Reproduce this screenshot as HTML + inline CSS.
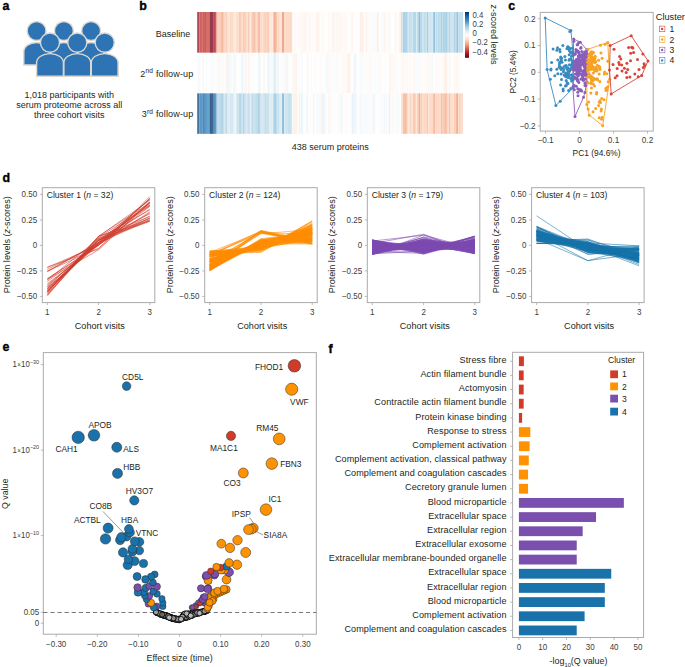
<!DOCTYPE html>
<html><head><meta charset="utf-8"><style>
html,body{margin:0;padding:0;background:#fff;}
svg{display:block;font-family:"Liberation Sans", sans-serif;}
</style></head><body>
<svg width="685" height="667" viewBox="0 0 685 667">
<rect width="685" height="667" fill="#fff"/>
<text x="2.40" y="9.50" font-size="12.4" font-weight="bold" fill="#000" stroke="#000" stroke-width="0.35">a</text>
<text x="139.20" y="9.60" font-size="12.4" font-weight="bold" fill="#000" stroke="#000" stroke-width="0.35">b</text>
<text x="508.30" y="9.50" font-size="12.4" font-weight="bold" fill="#000" stroke="#000" stroke-width="0.35">c</text>
<text x="2.50" y="181.80" font-size="12.4" font-weight="bold" fill="#000" stroke="#000" stroke-width="0.35">d</text>
<text x="2.50" y="351.00" font-size="12.4" font-weight="bold" fill="#000" stroke="#000" stroke-width="0.35">e</text>
<text x="328.60" y="352.60" font-size="12.4" font-weight="bold" fill="#000" stroke="#000" stroke-width="0.35">f</text>
<path d="M23.80,65.00 L23.80,51.50 A12.80,9.00 0 0 1 49.40,51.50 L49.40,65.00 Z" fill="#2e74b5" stroke="#dcd8d0" stroke-width="1.4"/>
<path d="M51.10,65.00 L51.10,51.50 A12.80,9.00 0 0 1 76.70,51.50 L76.70,65.00 Z" fill="#2e74b5" stroke="#dcd8d0" stroke-width="1.4"/>
<path d="M78.30,65.00 L78.30,51.50 A12.80,9.00 0 0 1 103.90,51.50 L103.90,65.00 Z" fill="#2e74b5" stroke="#dcd8d0" stroke-width="1.4"/>
<circle cx="36.60" cy="31.00" r="9.40" fill="#2e74b5" stroke="#dcd8d0" stroke-width="1.4"/>
<circle cx="63.90" cy="31.00" r="9.40" fill="#2e74b5" stroke="#dcd8d0" stroke-width="1.4"/>
<circle cx="91.10" cy="31.00" r="9.40" fill="#2e74b5" stroke="#dcd8d0" stroke-width="1.4"/>
<path d="M36.60,76.20 L36.60,62.60 A13.40,9.00 0 0 1 63.40,62.60 L63.40,76.20 Z" fill="#2e74b5" stroke="#dcd8d0" stroke-width="1.4"/>
<path d="M63.90,76.20 L63.90,62.60 A13.40,9.00 0 0 1 90.70,62.60 L90.70,76.20 Z" fill="#2e74b5" stroke="#dcd8d0" stroke-width="1.4"/>
<path d="M91.30,76.20 L91.30,62.60 A13.40,9.00 0 0 1 118.10,62.60 L118.10,76.20 Z" fill="#2e74b5" stroke="#dcd8d0" stroke-width="1.4"/>
<circle cx="50.00" cy="42.60" r="9.60" fill="#2e74b5" stroke="#dcd8d0" stroke-width="1.4"/>
<circle cx="77.30" cy="42.60" r="9.60" fill="#2e74b5" stroke="#dcd8d0" stroke-width="1.4"/>
<circle cx="104.70" cy="42.60" r="9.60" fill="#2e74b5" stroke="#dcd8d0" stroke-width="1.4"/>
<text transform="translate(69.20,97.70) scale(1,1.07)" font-size="9.0" text-anchor="middle" fill="#231f20" stroke="#231f20" stroke-width="0" font-weight="normal" >1,018 participants with</text>
<text transform="translate(69.20,108.00) scale(1,1.07)" font-size="9.0" text-anchor="middle" fill="#231f20" stroke="#231f20" stroke-width="0" font-weight="normal" >serum proteome across all</text>
<text transform="translate(69.20,118.20) scale(1,1.07)" font-size="9.0" text-anchor="middle" fill="#231f20" stroke="#231f20" stroke-width="0" font-weight="normal" >three cohort visits</text>
<g>
<rect x="197.00" y="12.0" width="0.662" height="40.60" fill="#c2373a"/>
<rect x="197.61" y="12.0" width="0.662" height="40.60" fill="#c03338"/>
<rect x="198.22" y="12.0" width="0.662" height="40.60" fill="#840924"/>
<rect x="198.84" y="12.0" width="0.662" height="40.60" fill="#d05548"/>
<rect x="199.45" y="12.0" width="0.662" height="40.60" fill="#d35a4a"/>
<rect x="200.06" y="12.0" width="0.662" height="40.60" fill="#bf3338"/>
<rect x="200.68" y="12.0" width="0.662" height="40.60" fill="#c84440"/>
<rect x="201.29" y="12.0" width="0.662" height="40.60" fill="#c7413f"/>
<rect x="201.90" y="12.0" width="0.662" height="40.60" fill="#c43b3c"/>
<rect x="202.51" y="12.0" width="0.662" height="40.60" fill="#d25849"/>
<rect x="203.12" y="12.0" width="0.662" height="40.60" fill="#d05447"/>
<rect x="203.74" y="12.0" width="0.662" height="40.60" fill="#860a24"/>
<rect x="204.35" y="12.0" width="0.662" height="40.60" fill="#cc4b43"/>
<rect x="204.96" y="12.0" width="0.662" height="40.60" fill="#cb4a42"/>
<rect x="205.57" y="12.0" width="0.662" height="40.60" fill="#b2182b"/>
<rect x="206.19" y="12.0" width="0.662" height="40.60" fill="#ce5146"/>
<rect x="206.80" y="12.0" width="0.662" height="40.60" fill="#c6403e"/>
<rect x="207.41" y="12.0" width="0.662" height="40.60" fill="#c94741"/>
<rect x="208.03" y="12.0" width="0.662" height="40.60" fill="#c84440"/>
<rect x="208.64" y="12.0" width="0.662" height="40.60" fill="#cd4e44"/>
<rect x="209.25" y="12.0" width="0.662" height="40.60" fill="#d15548"/>
<rect x="209.86" y="12.0" width="0.662" height="40.60" fill="#730421"/>
<rect x="210.47" y="12.0" width="0.662" height="40.60" fill="#770521"/>
<rect x="211.09" y="12.0" width="0.662" height="40.60" fill="#750521"/>
<rect x="211.70" y="12.0" width="0.662" height="40.60" fill="#800823"/>
<rect x="212.31" y="12.0" width="0.662" height="40.60" fill="#810823"/>
<rect x="212.92" y="12.0" width="0.662" height="40.60" fill="#be3137"/>
<rect x="213.54" y="12.0" width="0.662" height="40.60" fill="#b51f2e"/>
<rect x="214.15" y="12.0" width="0.662" height="40.60" fill="#b3192c"/>
<rect x="214.76" y="12.0" width="0.662" height="40.60" fill="#a9152a"/>
<rect x="215.38" y="12.0" width="0.662" height="40.60" fill="#c43c3c"/>
<rect x="215.99" y="12.0" width="0.662" height="40.60" fill="#cf5246"/>
<rect x="216.60" y="12.0" width="0.657" height="40.60" fill="#fddfcd"/>
<rect x="217.21" y="12.0" width="0.657" height="40.60" fill="#f8bb9e"/>
<rect x="217.81" y="12.0" width="0.657" height="40.60" fill="#f7b89b"/>
<rect x="218.42" y="12.0" width="0.657" height="40.60" fill="#fac9b0"/>
<rect x="219.03" y="12.0" width="0.657" height="40.60" fill="#f9c2a7"/>
<rect x="219.64" y="12.0" width="0.657" height="40.60" fill="#f9c6ac"/>
<rect x="220.24" y="12.0" width="0.657" height="40.60" fill="#facbb3"/>
<rect x="220.85" y="12.0" width="0.657" height="40.60" fill="#f5aa88"/>
<rect x="221.46" y="12.0" width="0.657" height="40.60" fill="#f5a987"/>
<rect x="222.07" y="12.0" width="0.657" height="40.60" fill="#ed9575"/>
<rect x="222.67" y="12.0" width="0.657" height="40.60" fill="#f9c1a6"/>
<rect x="223.28" y="12.0" width="0.657" height="40.60" fill="#f8bfa3"/>
<rect x="223.89" y="12.0" width="0.657" height="40.60" fill="#fbd1ba"/>
<rect x="224.49" y="12.0" width="0.657" height="40.60" fill="#fbccb4"/>
<rect x="225.10" y="12.0" width="0.657" height="40.60" fill="#fbceb7"/>
<rect x="225.71" y="12.0" width="0.657" height="40.60" fill="#facab1"/>
<rect x="226.32" y="12.0" width="0.657" height="40.60" fill="#fac6ac"/>
<rect x="226.92" y="12.0" width="0.657" height="40.60" fill="#fbd0b9"/>
<rect x="227.53" y="12.0" width="0.657" height="40.60" fill="#fddac6"/>
<rect x="228.14" y="12.0" width="0.657" height="40.60" fill="#fddcc9"/>
<rect x="228.75" y="12.0" width="0.657" height="40.60" fill="#fde2d2"/>
<rect x="229.35" y="12.0" width="0.657" height="40.60" fill="#fde2d3"/>
<rect x="229.96" y="12.0" width="0.657" height="40.60" fill="#fde0cf"/>
<rect x="230.57" y="12.0" width="0.657" height="40.60" fill="#f8bca0"/>
<rect x="231.17" y="12.0" width="0.657" height="40.60" fill="#fbceb6"/>
<rect x="231.78" y="12.0" width="0.657" height="40.60" fill="#fee6d8"/>
<rect x="232.39" y="12.0" width="0.657" height="40.60" fill="#fbcfb7"/>
<rect x="233.00" y="12.0" width="0.657" height="40.60" fill="#fcd7c1"/>
<rect x="233.60" y="12.0" width="0.657" height="40.60" fill="#fde2d3"/>
<rect x="234.21" y="12.0" width="0.657" height="40.60" fill="#fde3d3"/>
<rect x="234.82" y="12.0" width="0.657" height="40.60" fill="#fee5d7"/>
<rect x="235.42" y="12.0" width="0.657" height="40.60" fill="#fde3d4"/>
<rect x="236.03" y="12.0" width="0.657" height="40.60" fill="#fde0ce"/>
<rect x="236.64" y="12.0" width="0.657" height="40.60" fill="#faccb4"/>
<rect x="237.25" y="12.0" width="0.657" height="40.60" fill="#fcd3bd"/>
<rect x="237.85" y="12.0" width="0.657" height="40.60" fill="#fcd5c0"/>
<rect x="238.46" y="12.0" width="0.657" height="40.60" fill="#fcd7c2"/>
<rect x="239.07" y="12.0" width="0.657" height="40.60" fill="#f8bc9f"/>
<rect x="239.68" y="12.0" width="0.657" height="40.60" fill="#f8bda1"/>
<rect x="240.28" y="12.0" width="0.657" height="40.60" fill="#f9c3a8"/>
<rect x="240.89" y="12.0" width="0.657" height="40.60" fill="#f9c4aa"/>
<rect x="241.50" y="12.0" width="0.657" height="40.60" fill="#fcd6c0"/>
<rect x="242.10" y="12.0" width="0.657" height="40.60" fill="#fcd8c3"/>
<rect x="242.71" y="12.0" width="0.657" height="40.60" fill="#fcd4be"/>
<rect x="243.32" y="12.0" width="0.657" height="40.60" fill="#f7b89a"/>
<rect x="243.93" y="12.0" width="0.657" height="40.60" fill="#f9c3a8"/>
<rect x="244.53" y="12.0" width="0.657" height="40.60" fill="#fac7ae"/>
<rect x="245.14" y="12.0" width="0.657" height="40.60" fill="#f9c4aa"/>
<rect x="245.75" y="12.0" width="0.657" height="40.60" fill="#fac9b0"/>
<rect x="246.36" y="12.0" width="0.657" height="40.60" fill="#fcd8c3"/>
<rect x="246.96" y="12.0" width="0.657" height="40.60" fill="#fcd5c0"/>
<rect x="247.57" y="12.0" width="0.657" height="40.60" fill="#fdd9c4"/>
<rect x="248.18" y="12.0" width="0.657" height="40.60" fill="#fbd2bb"/>
<rect x="248.78" y="12.0" width="0.657" height="40.60" fill="#ed9676"/>
<rect x="249.39" y="12.0" width="0.657" height="40.60" fill="#fde1d1"/>
<rect x="250.00" y="12.0" width="0.657" height="40.60" fill="#fee5d6"/>
<rect x="250.61" y="12.0" width="0.657" height="40.60" fill="#fee4d6"/>
<rect x="251.21" y="12.0" width="0.657" height="40.60" fill="#fee5d7"/>
<rect x="251.82" y="12.0" width="0.657" height="40.60" fill="#e7876b"/>
<rect x="252.43" y="12.0" width="0.657" height="40.60" fill="#fcd6c0"/>
<rect x="253.04" y="12.0" width="0.657" height="40.60" fill="#f8ba9d"/>
<rect x="253.64" y="12.0" width="0.657" height="40.60" fill="#f7b89a"/>
<rect x="254.25" y="12.0" width="0.657" height="40.60" fill="#f7b496"/>
<rect x="254.86" y="12.0" width="0.657" height="40.60" fill="#f6b292"/>
<rect x="255.46" y="12.0" width="0.657" height="40.60" fill="#facbb3"/>
<rect x="256.07" y="12.0" width="0.657" height="40.60" fill="#fcd3bd"/>
<rect x="256.68" y="12.0" width="0.657" height="40.60" fill="#fcd5c0"/>
<rect x="257.29" y="12.0" width="0.657" height="40.60" fill="#fcd3bd"/>
<rect x="257.89" y="12.0" width="0.657" height="40.60" fill="#f4a785"/>
<rect x="258.50" y="12.0" width="0.657" height="40.60" fill="#f5ae8d"/>
<rect x="259.11" y="12.0" width="0.657" height="40.60" fill="#f5ad8c"/>
<rect x="259.72" y="12.0" width="0.657" height="40.60" fill="#f5ad8d"/>
<rect x="260.32" y="12.0" width="0.657" height="40.60" fill="#fddfce"/>
<rect x="260.93" y="12.0" width="0.657" height="40.60" fill="#fac8ae"/>
<rect x="261.54" y="12.0" width="0.657" height="40.60" fill="#fdd9c5"/>
<rect x="262.14" y="12.0" width="0.657" height="40.60" fill="#fcd8c3"/>
<rect x="262.75" y="12.0" width="0.657" height="40.60" fill="#fddac6"/>
<rect x="263.36" y="12.0" width="0.657" height="40.60" fill="#fbcfb7"/>
<rect x="263.97" y="12.0" width="0.657" height="40.60" fill="#facab1"/>
<rect x="264.57" y="12.0" width="0.657" height="40.60" fill="#facab1"/>
<rect x="265.18" y="12.0" width="0.657" height="40.60" fill="#f9c2a7"/>
<rect x="265.79" y="12.0" width="0.657" height="40.60" fill="#f9c5ab"/>
<rect x="266.40" y="12.0" width="0.657" height="40.60" fill="#fbd1ba"/>
<rect x="267.00" y="12.0" width="0.657" height="40.60" fill="#fac9b0"/>
<rect x="267.61" y="12.0" width="0.657" height="40.60" fill="#f8bc9f"/>
<rect x="268.22" y="12.0" width="0.657" height="40.60" fill="#f9c1a6"/>
<rect x="268.82" y="12.0" width="0.657" height="40.60" fill="#f9c5ab"/>
<rect x="269.43" y="12.0" width="0.657" height="40.60" fill="#fde1d0"/>
<rect x="270.04" y="12.0" width="0.657" height="40.60" fill="#fee5d6"/>
<rect x="270.65" y="12.0" width="0.657" height="40.60" fill="#fde2d2"/>
<rect x="271.25" y="12.0" width="0.657" height="40.60" fill="#fde3d3"/>
<rect x="271.86" y="12.0" width="0.657" height="40.60" fill="#fde0d0"/>
<rect x="272.47" y="12.0" width="0.657" height="40.60" fill="#fee6d8"/>
<rect x="273.07" y="12.0" width="0.657" height="40.60" fill="#fbd1ba"/>
<rect x="273.68" y="12.0" width="0.657" height="40.60" fill="#ef9b7a"/>
<rect x="274.29" y="12.0" width="0.657" height="40.60" fill="#f19e7d"/>
<rect x="274.90" y="12.0" width="0.657" height="40.60" fill="#f19e7d"/>
<rect x="275.50" y="12.0" width="0.657" height="40.60" fill="#f4a582"/>
<rect x="276.11" y="12.0" width="0.657" height="40.60" fill="#f7b99c"/>
<rect x="276.72" y="12.0" width="0.657" height="40.60" fill="#f7b597"/>
<rect x="277.33" y="12.0" width="0.657" height="40.60" fill="#fddcc8"/>
<rect x="277.93" y="12.0" width="0.657" height="40.60" fill="#fddbc7"/>
<rect x="278.54" y="12.0" width="0.657" height="40.60" fill="#f9c0a5"/>
<rect x="279.15" y="12.0" width="0.657" height="40.60" fill="#fddecc"/>
<rect x="279.75" y="12.0" width="0.657" height="40.60" fill="#fddcc9"/>
<rect x="280.36" y="12.0" width="0.657" height="40.60" fill="#fde0cf"/>
<rect x="280.97" y="12.0" width="0.657" height="40.60" fill="#fde3d4"/>
<rect x="281.58" y="12.0" width="0.657" height="40.60" fill="#fde3d3"/>
<rect x="282.18" y="12.0" width="0.657" height="40.60" fill="#e8896d"/>
<rect x="282.79" y="12.0" width="0.657" height="40.60" fill="#ea8e70"/>
<rect x="283.40" y="12.0" width="0.657" height="40.60" fill="#ea8d70"/>
<rect x="284.01" y="12.0" width="0.657" height="40.60" fill="#fde3d4"/>
<rect x="284.61" y="12.0" width="0.657" height="40.60" fill="#faccb4"/>
<rect x="285.22" y="12.0" width="0.657" height="40.60" fill="#fddac6"/>
<rect x="285.83" y="12.0" width="0.657" height="40.60" fill="#fbd1ba"/>
<rect x="286.43" y="12.0" width="0.657" height="40.60" fill="#facbb3"/>
<rect x="287.04" y="12.0" width="0.657" height="40.60" fill="#fac7ae"/>
<rect x="287.65" y="12.0" width="0.657" height="40.60" fill="#fde3d3"/>
<rect x="288.26" y="12.0" width="0.657" height="40.60" fill="#fbcfb7"/>
<rect x="288.86" y="12.0" width="0.657" height="40.60" fill="#fbd1ba"/>
<rect x="289.47" y="12.0" width="0.657" height="40.60" fill="#fbd1bb"/>
<rect x="290.08" y="12.0" width="0.657" height="40.60" fill="#faccb4"/>
<rect x="290.69" y="12.0" width="0.657" height="40.60" fill="#fbcfb8"/>
<rect x="291.29" y="12.0" width="0.657" height="40.60" fill="#fbceb7"/>
<rect x="291.90" y="12.0" width="0.661" height="40.60" fill="#f9fcfd"/>
<rect x="292.51" y="12.0" width="0.661" height="40.60" fill="#fef5f0"/>
<rect x="293.12" y="12.0" width="0.661" height="40.60" fill="#fffaf7"/>
<rect x="293.73" y="12.0" width="0.661" height="40.60" fill="#fef5f0"/>
<rect x="294.34" y="12.0" width="0.661" height="40.60" fill="#fff9f5"/>
<rect x="294.95" y="12.0" width="0.661" height="40.60" fill="#fff8f4"/>
<rect x="295.56" y="12.0" width="0.661" height="40.60" fill="#fff7f3"/>
<rect x="296.17" y="12.0" width="0.661" height="40.60" fill="#fffcfb"/>
<rect x="296.78" y="12.0" width="0.661" height="40.60" fill="#fffcfb"/>
<rect x="297.40" y="12.0" width="0.661" height="40.60" fill="#fff8f4"/>
<rect x="298.01" y="12.0" width="0.661" height="40.60" fill="#fffaf7"/>
<rect x="298.62" y="12.0" width="0.661" height="40.60" fill="#fffcfb"/>
<rect x="299.23" y="12.0" width="0.661" height="40.60" fill="#fff7f2"/>
<rect x="299.84" y="12.0" width="0.661" height="40.60" fill="#fef2eb"/>
<rect x="300.45" y="12.0" width="0.661" height="40.60" fill="#fffdfc"/>
<rect x="301.06" y="12.0" width="0.661" height="40.60" fill="#fef4ee"/>
<rect x="301.67" y="12.0" width="0.661" height="40.60" fill="#fff9f6"/>
<rect x="302.28" y="12.0" width="0.661" height="40.60" fill="#fff6f1"/>
<rect x="302.89" y="12.0" width="0.661" height="40.60" fill="#fff7f2"/>
<rect x="303.50" y="12.0" width="0.661" height="40.60" fill="#fef5ef"/>
<rect x="304.11" y="12.0" width="0.661" height="40.60" fill="#fef3ec"/>
<rect x="304.72" y="12.0" width="0.661" height="40.60" fill="#fef5ef"/>
<rect x="305.33" y="12.0" width="0.661" height="40.60" fill="#fef2eb"/>
<rect x="305.94" y="12.0" width="0.661" height="40.60" fill="#fff9f6"/>
<rect x="306.55" y="12.0" width="0.661" height="40.60" fill="#fff7f3"/>
<rect x="307.17" y="12.0" width="0.661" height="40.60" fill="#f3f8fb"/>
<rect x="307.78" y="12.0" width="0.661" height="40.60" fill="#fffbf9"/>
<rect x="308.39" y="12.0" width="0.661" height="40.60" fill="#fffdfc"/>
<rect x="309.00" y="12.0" width="0.661" height="40.60" fill="#fef5ef"/>
<rect x="309.61" y="12.0" width="0.661" height="40.60" fill="#fef4ee"/>
<rect x="310.22" y="12.0" width="0.661" height="40.60" fill="#fef6f1"/>
<rect x="310.83" y="12.0" width="0.661" height="40.60" fill="#fffdfd"/>
<rect x="311.44" y="12.0" width="0.661" height="40.60" fill="#fffbf9"/>
<rect x="312.05" y="12.0" width="0.661" height="40.60" fill="#fff9f6"/>
<rect x="312.66" y="12.0" width="0.661" height="40.60" fill="#fffaf7"/>
<rect x="313.27" y="12.0" width="0.661" height="40.60" fill="#fffaf7"/>
<rect x="313.88" y="12.0" width="0.661" height="40.60" fill="#fffaf7"/>
<rect x="314.49" y="12.0" width="0.661" height="40.60" fill="#fcfdfe"/>
<rect x="315.10" y="12.0" width="0.661" height="40.60" fill="#fafcfd"/>
<rect x="315.71" y="12.0" width="0.661" height="40.60" fill="#f8fbfd"/>
<rect x="316.32" y="12.0" width="0.661" height="40.60" fill="#feefe5"/>
<rect x="316.94" y="12.0" width="0.661" height="40.60" fill="#fef0e7"/>
<rect x="317.55" y="12.0" width="0.661" height="40.60" fill="#fef4ed"/>
<rect x="318.16" y="12.0" width="0.661" height="40.60" fill="#feeee5"/>
<rect x="318.77" y="12.0" width="0.661" height="40.60" fill="#feebe1"/>
<rect x="319.38" y="12.0" width="0.661" height="40.60" fill="#fffcfa"/>
<rect x="319.99" y="12.0" width="0.661" height="40.60" fill="#fffefe"/>
<rect x="320.60" y="12.0" width="0.661" height="40.60" fill="#fffefd"/>
<rect x="321.21" y="12.0" width="0.661" height="40.60" fill="#fff7f2"/>
<rect x="321.82" y="12.0" width="0.661" height="40.60" fill="#fff6f1"/>
<rect x="322.43" y="12.0" width="0.661" height="40.60" fill="#fff9f6"/>
<rect x="323.04" y="12.0" width="0.661" height="40.60" fill="#fffaf7"/>
<rect x="323.65" y="12.0" width="0.661" height="40.60" fill="#fffbf9"/>
<rect x="324.26" y="12.0" width="0.661" height="40.60" fill="#fffdfb"/>
<rect x="324.87" y="12.0" width="0.661" height="40.60" fill="#fff8f5"/>
<rect x="325.48" y="12.0" width="0.661" height="40.60" fill="#fefeff"/>
<rect x="326.09" y="12.0" width="0.661" height="40.60" fill="#feffff"/>
<rect x="326.71" y="12.0" width="0.661" height="40.60" fill="#feffff"/>
<rect x="327.32" y="12.0" width="0.661" height="40.60" fill="#fffbf8"/>
<rect x="327.93" y="12.0" width="0.661" height="40.60" fill="#fff7f2"/>
<rect x="328.54" y="12.0" width="0.661" height="40.60" fill="#fff7f3"/>
<rect x="329.15" y="12.0" width="0.661" height="40.60" fill="#fff9f5"/>
<rect x="329.76" y="12.0" width="0.661" height="40.60" fill="#fffaf7"/>
<rect x="330.37" y="12.0" width="0.661" height="40.60" fill="#fffbf9"/>
<rect x="330.98" y="12.0" width="0.661" height="40.60" fill="#fffbf8"/>
<rect x="331.59" y="12.0" width="0.661" height="40.60" fill="#fff8f4"/>
<rect x="332.20" y="12.0" width="0.661" height="40.60" fill="#fef5ef"/>
<rect x="332.81" y="12.0" width="0.661" height="40.60" fill="#fff7f3"/>
<rect x="333.42" y="12.0" width="0.661" height="40.60" fill="#feede4"/>
<rect x="334.03" y="12.0" width="0.661" height="40.60" fill="#fefeff"/>
<rect x="334.64" y="12.0" width="0.661" height="40.60" fill="#fef4ee"/>
<rect x="335.25" y="12.0" width="0.661" height="40.60" fill="#fef6f0"/>
<rect x="335.86" y="12.0" width="0.661" height="40.60" fill="#fff6f1"/>
<rect x="336.47" y="12.0" width="0.661" height="40.60" fill="#fef3ec"/>
<rect x="337.09" y="12.0" width="0.661" height="40.60" fill="#fff7f2"/>
<rect x="337.70" y="12.0" width="0.661" height="40.60" fill="#fff6f2"/>
<rect x="338.31" y="12.0" width="0.661" height="40.60" fill="#fef6f1"/>
<rect x="338.92" y="12.0" width="0.661" height="40.60" fill="#fffbf9"/>
<rect x="339.53" y="12.0" width="0.661" height="40.60" fill="#fef4ee"/>
<rect x="340.14" y="12.0" width="0.661" height="40.60" fill="#fff6f2"/>
<rect x="340.75" y="12.0" width="0.661" height="40.60" fill="#fff9f5"/>
<rect x="341.36" y="12.0" width="0.661" height="40.60" fill="#fef5ef"/>
<rect x="341.97" y="12.0" width="0.661" height="40.60" fill="#fffbf9"/>
<rect x="342.58" y="12.0" width="0.661" height="40.60" fill="#fef5ef"/>
<rect x="343.19" y="12.0" width="0.661" height="40.60" fill="#fefeff"/>
<rect x="343.80" y="12.0" width="0.661" height="40.60" fill="#fff7f2"/>
<rect x="344.41" y="12.0" width="0.661" height="40.60" fill="#fef5f0"/>
<rect x="345.02" y="12.0" width="0.661" height="40.60" fill="#fff8f4"/>
<rect x="345.63" y="12.0" width="0.661" height="40.60" fill="#fff9f6"/>
<rect x="346.24" y="12.0" width="0.661" height="40.60" fill="#fffaf8"/>
<rect x="346.86" y="12.0" width="0.661" height="40.60" fill="#fff6f1"/>
<rect x="347.47" y="12.0" width="0.661" height="40.60" fill="#fffbf9"/>
<rect x="348.08" y="12.0" width="0.661" height="40.60" fill="#feffff"/>
<rect x="348.69" y="12.0" width="0.661" height="40.60" fill="#fffefe"/>
<rect x="349.30" y="12.0" width="0.661" height="40.60" fill="#fffefe"/>
<rect x="349.91" y="12.0" width="0.661" height="40.60" fill="#fff6f1"/>
<rect x="350.52" y="12.0" width="0.661" height="40.60" fill="#f6fafc"/>
<rect x="351.13" y="12.0" width="0.661" height="40.60" fill="#fff8f4"/>
<rect x="351.74" y="12.0" width="0.661" height="40.60" fill="#fff6f2"/>
<rect x="352.35" y="12.0" width="0.661" height="40.60" fill="#fef3ed"/>
<rect x="352.96" y="12.0" width="0.661" height="40.60" fill="#fff6f1"/>
<rect x="353.57" y="12.0" width="0.661" height="40.60" fill="#fffdfd"/>
<rect x="354.18" y="12.0" width="0.661" height="40.60" fill="#ffffff"/>
<rect x="354.79" y="12.0" width="0.661" height="40.60" fill="#fffefe"/>
<rect x="355.40" y="12.0" width="0.661" height="40.60" fill="#fffcfa"/>
<rect x="356.01" y="12.0" width="0.661" height="40.60" fill="#fffefd"/>
<rect x="356.63" y="12.0" width="0.661" height="40.60" fill="#fffdfb"/>
<rect x="357.24" y="12.0" width="0.661" height="40.60" fill="#fffefd"/>
<rect x="357.85" y="12.0" width="0.661" height="40.60" fill="#fdfefe"/>
<rect x="358.46" y="12.0" width="0.661" height="40.60" fill="#fffdfb"/>
<rect x="359.07" y="12.0" width="0.661" height="40.60" fill="#fcfdfe"/>
<rect x="359.68" y="12.0" width="0.661" height="40.60" fill="#fef1e9"/>
<rect x="360.29" y="12.0" width="0.661" height="40.60" fill="#feece2"/>
<rect x="360.90" y="12.0" width="0.661" height="40.60" fill="#fee9dc"/>
<rect x="361.51" y="12.0" width="0.661" height="40.60" fill="#feebdf"/>
<rect x="362.12" y="12.0" width="0.661" height="40.60" fill="#fee8db"/>
<rect x="362.73" y="12.0" width="0.661" height="40.60" fill="#fff9f6"/>
<rect x="363.34" y="12.0" width="0.661" height="40.60" fill="#feede3"/>
<rect x="363.95" y="12.0" width="0.661" height="40.60" fill="#ffffff"/>
<rect x="364.56" y="12.0" width="0.661" height="40.60" fill="#fefeff"/>
<rect x="365.17" y="12.0" width="0.661" height="40.60" fill="#fff7f2"/>
<rect x="365.78" y="12.0" width="0.661" height="40.60" fill="#fef0e8"/>
<rect x="366.39" y="12.0" width="0.661" height="40.60" fill="#feefe7"/>
<rect x="367.01" y="12.0" width="0.661" height="40.60" fill="#fff8f4"/>
<rect x="367.62" y="12.0" width="0.661" height="40.60" fill="#fff8f4"/>
<rect x="368.23" y="12.0" width="0.661" height="40.60" fill="#fef6f0"/>
<rect x="368.84" y="12.0" width="0.661" height="40.60" fill="#fefeff"/>
<rect x="369.45" y="12.0" width="0.661" height="40.60" fill="#fbfdfe"/>
<rect x="370.06" y="12.0" width="0.661" height="40.60" fill="#f8fbfd"/>
<rect x="370.67" y="12.0" width="0.661" height="40.60" fill="#fff8f4"/>
<rect x="371.28" y="12.0" width="0.661" height="40.60" fill="#fffbf9"/>
<rect x="371.89" y="12.0" width="0.661" height="40.60" fill="#fef6f1"/>
<rect x="372.50" y="12.0" width="0.661" height="40.60" fill="#fbfdfe"/>
<rect x="373.11" y="12.0" width="0.661" height="40.60" fill="#fff6f1"/>
<rect x="373.72" y="12.0" width="0.661" height="40.60" fill="#f9fcfd"/>
<rect x="374.33" y="12.0" width="0.661" height="40.60" fill="#f7fbfc"/>
<rect x="374.94" y="12.0" width="0.661" height="40.60" fill="#feefe6"/>
<rect x="375.55" y="12.0" width="0.661" height="40.60" fill="#fffdfc"/>
<rect x="376.16" y="12.0" width="0.661" height="40.60" fill="#fbfdfe"/>
<rect x="376.78" y="12.0" width="0.661" height="40.60" fill="#feebe0"/>
<rect x="377.39" y="12.0" width="0.661" height="40.60" fill="#feebdf"/>
<rect x="378.00" y="12.0" width="0.661" height="40.60" fill="#fee9de"/>
<rect x="378.61" y="12.0" width="0.661" height="40.60" fill="#fff6f2"/>
<rect x="379.22" y="12.0" width="0.661" height="40.60" fill="#fffefe"/>
<rect x="379.83" y="12.0" width="0.661" height="40.60" fill="#fffefd"/>
<rect x="380.44" y="12.0" width="0.661" height="40.60" fill="#f8fbfd"/>
<rect x="381.05" y="12.0" width="0.661" height="40.60" fill="#fef3ed"/>
<rect x="381.66" y="12.0" width="0.661" height="40.60" fill="#fffbf8"/>
<rect x="382.27" y="12.0" width="0.661" height="40.60" fill="#fefeff"/>
<rect x="382.88" y="12.0" width="0.661" height="40.60" fill="#fef1ea"/>
<rect x="383.49" y="12.0" width="0.661" height="40.60" fill="#fff8f5"/>
<rect x="384.10" y="12.0" width="0.661" height="40.60" fill="#fef1e9"/>
<rect x="384.71" y="12.0" width="0.661" height="40.60" fill="#fef3ec"/>
<rect x="385.32" y="12.0" width="0.661" height="40.60" fill="#fff6f1"/>
<rect x="385.93" y="12.0" width="0.661" height="40.60" fill="#f6fafc"/>
<rect x="386.55" y="12.0" width="0.661" height="40.60" fill="#fffaf8"/>
<rect x="387.16" y="12.0" width="0.661" height="40.60" fill="#fffcfb"/>
<rect x="387.77" y="12.0" width="0.661" height="40.60" fill="#ffffff"/>
<rect x="388.38" y="12.0" width="0.661" height="40.60" fill="#fef3ec"/>
<rect x="388.99" y="12.0" width="0.661" height="40.60" fill="#fff7f3"/>
<rect x="389.60" y="12.0" width="0.661" height="40.60" fill="#fef2eb"/>
<rect x="390.21" y="12.0" width="0.661" height="40.60" fill="#fffefd"/>
<rect x="390.82" y="12.0" width="0.661" height="40.60" fill="#fcfdfe"/>
<rect x="391.43" y="12.0" width="0.661" height="40.60" fill="#f7fbfc"/>
<rect x="392.04" y="12.0" width="0.661" height="40.60" fill="#fefeff"/>
<rect x="392.65" y="12.0" width="0.661" height="40.60" fill="#fffffe"/>
<rect x="393.26" y="12.0" width="0.661" height="40.60" fill="#ffffff"/>
<rect x="393.87" y="12.0" width="0.661" height="40.60" fill="#fffefe"/>
<rect x="394.48" y="12.0" width="0.661" height="40.60" fill="#fef6f0"/>
<rect x="395.09" y="12.0" width="0.661" height="40.60" fill="#fef6f1"/>
<rect x="395.70" y="12.0" width="0.661" height="40.60" fill="#fef5ef"/>
<rect x="396.32" y="12.0" width="0.661" height="40.60" fill="#fff6f2"/>
<rect x="396.93" y="12.0" width="0.661" height="40.60" fill="#fffcfa"/>
<rect x="397.54" y="12.0" width="0.661" height="40.60" fill="#fffbf9"/>
<rect x="398.15" y="12.0" width="0.661" height="40.60" fill="#fffdfc"/>
<rect x="398.76" y="12.0" width="0.661" height="40.60" fill="#fff8f4"/>
<rect x="399.37" y="12.0" width="0.661" height="40.60" fill="#feece1"/>
<rect x="399.98" y="12.0" width="0.661" height="40.60" fill="#feebe0"/>
<rect x="400.59" y="12.0" width="0.661" height="40.60" fill="#fee9dc"/>
<rect x="401.20" y="12.0" width="0.650" height="40.60" fill="#b9d9e9"/>
<rect x="401.80" y="12.0" width="0.650" height="40.60" fill="#b3d6e7"/>
<rect x="402.40" y="12.0" width="0.650" height="40.60" fill="#d0e5f0"/>
<rect x="403.00" y="12.0" width="0.650" height="40.60" fill="#97c8e0"/>
<rect x="403.60" y="12.0" width="0.650" height="40.60" fill="#97c8e0"/>
<rect x="404.20" y="12.0" width="0.650" height="40.60" fill="#97c8df"/>
<rect x="404.80" y="12.0" width="0.650" height="40.60" fill="#98c8e0"/>
<rect x="405.40" y="12.0" width="0.650" height="40.60" fill="#9ccae1"/>
<rect x="406.00" y="12.0" width="0.650" height="40.60" fill="#9dcae1"/>
<rect x="406.60" y="12.0" width="0.650" height="40.60" fill="#9ecbe2"/>
<rect x="407.20" y="12.0" width="0.650" height="40.60" fill="#b1d5e7"/>
<rect x="407.80" y="12.0" width="0.650" height="40.60" fill="#c8e0ed"/>
<rect x="408.40" y="12.0" width="0.650" height="40.60" fill="#cae1ee"/>
<rect x="409.00" y="12.0" width="0.650" height="40.60" fill="#c8e1ee"/>
<rect x="409.60" y="12.0" width="0.650" height="40.60" fill="#a2cde3"/>
<rect x="410.20" y="12.0" width="0.650" height="40.60" fill="#bfdceb"/>
<rect x="410.80" y="12.0" width="0.650" height="40.60" fill="#a5cfe3"/>
<rect x="411.40" y="12.0" width="0.650" height="40.60" fill="#c6e0ed"/>
<rect x="412.00" y="12.0" width="0.650" height="40.60" fill="#c5dfed"/>
<rect x="412.60" y="12.0" width="0.650" height="40.60" fill="#cde3ef"/>
<rect x="413.20" y="12.0" width="0.650" height="40.60" fill="#a5cee3"/>
<rect x="413.80" y="12.0" width="0.650" height="40.60" fill="#9fcce2"/>
<rect x="414.40" y="12.0" width="0.650" height="40.60" fill="#9ecbe1"/>
<rect x="415.00" y="12.0" width="0.650" height="40.60" fill="#aad1e5"/>
<rect x="415.60" y="12.0" width="0.650" height="40.60" fill="#a2cde3"/>
<rect x="416.20" y="12.0" width="0.650" height="40.60" fill="#d5e7f1"/>
<rect x="416.80" y="12.0" width="0.650" height="40.60" fill="#d7e9f2"/>
<rect x="417.40" y="12.0" width="0.650" height="40.60" fill="#a7cfe4"/>
<rect x="418.00" y="12.0" width="0.650" height="40.60" fill="#a7d0e4"/>
<rect x="418.60" y="12.0" width="0.650" height="40.60" fill="#96c7df"/>
<rect x="419.20" y="12.0" width="0.650" height="40.60" fill="#559ec9"/>
<rect x="419.80" y="12.0" width="0.650" height="40.60" fill="#add3e6"/>
<rect x="420.40" y="12.0" width="0.650" height="40.60" fill="#a5cfe4"/>
<rect x="421.00" y="12.0" width="0.650" height="40.60" fill="#a5cfe4"/>
<rect x="421.60" y="12.0" width="0.650" height="40.60" fill="#a5cfe3"/>
<rect x="422.20" y="12.0" width="0.650" height="40.60" fill="#c1ddeb"/>
<rect x="422.80" y="12.0" width="0.650" height="40.60" fill="#cce2ee"/>
<rect x="423.40" y="12.0" width="0.650" height="40.60" fill="#c1ddeb"/>
<rect x="424.00" y="12.0" width="0.650" height="40.60" fill="#bedbeb"/>
<rect x="424.60" y="12.0" width="0.650" height="40.60" fill="#a9d1e5"/>
<rect x="425.20" y="12.0" width="0.650" height="40.60" fill="#afd3e6"/>
<rect x="425.80" y="12.0" width="0.650" height="40.60" fill="#cfe4ef"/>
<rect x="426.40" y="12.0" width="0.650" height="40.60" fill="#bddbea"/>
<rect x="427.00" y="12.0" width="0.650" height="40.60" fill="#559ec9"/>
<rect x="427.60" y="12.0" width="0.650" height="40.60" fill="#cee3ef"/>
<rect x="428.20" y="12.0" width="0.650" height="40.60" fill="#c0dceb"/>
<rect x="428.80" y="12.0" width="0.650" height="40.60" fill="#cbe2ee"/>
<rect x="429.40" y="12.0" width="0.650" height="40.60" fill="#c9e1ee"/>
<rect x="430.00" y="12.0" width="0.650" height="40.60" fill="#c5dfed"/>
<rect x="430.60" y="12.0" width="0.650" height="40.60" fill="#c6dfed"/>
<rect x="431.20" y="12.0" width="0.650" height="40.60" fill="#c9e1ee"/>
<rect x="431.80" y="12.0" width="0.650" height="40.60" fill="#cde3ef"/>
<rect x="432.40" y="12.0" width="0.650" height="40.60" fill="#cae1ee"/>
<rect x="433.00" y="12.0" width="0.650" height="40.60" fill="#c9e1ee"/>
<rect x="433.60" y="12.0" width="0.650" height="40.60" fill="#5fa5cd"/>
<rect x="434.20" y="12.0" width="0.650" height="40.60" fill="#62a7ce"/>
<rect x="434.80" y="12.0" width="0.650" height="40.60" fill="#bbdaea"/>
<rect x="435.40" y="12.0" width="0.650" height="40.60" fill="#c7e0ed"/>
<rect x="436.00" y="12.0" width="0.650" height="40.60" fill="#a5cfe4"/>
<rect x="436.60" y="12.0" width="0.650" height="40.60" fill="#c4deec"/>
<rect x="437.20" y="12.0" width="0.650" height="40.60" fill="#c4dfec"/>
<rect x="437.80" y="12.0" width="0.650" height="40.60" fill="#b0d4e7"/>
<rect x="438.40" y="12.0" width="0.650" height="40.60" fill="#a9d1e5"/>
<rect x="439.00" y="12.0" width="0.650" height="40.60" fill="#acd2e5"/>
<rect x="439.60" y="12.0" width="0.650" height="40.60" fill="#b6d7e8"/>
<rect x="440.20" y="12.0" width="0.650" height="40.60" fill="#c0dceb"/>
<rect x="440.80" y="12.0" width="0.650" height="40.60" fill="#93c6de"/>
<rect x="441.40" y="12.0" width="0.650" height="40.60" fill="#93c6de"/>
<rect x="442.00" y="12.0" width="0.650" height="40.60" fill="#c0dceb"/>
<rect x="442.60" y="12.0" width="0.650" height="40.60" fill="#abd2e5"/>
<rect x="443.20" y="12.0" width="0.650" height="40.60" fill="#9bcae1"/>
<rect x="443.80" y="12.0" width="0.650" height="40.60" fill="#96c7df"/>
<rect x="444.40" y="12.0" width="0.650" height="40.60" fill="#a1cde2"/>
<rect x="445.00" y="12.0" width="0.650" height="40.60" fill="#a0cce2"/>
<rect x="445.60" y="12.0" width="0.650" height="40.60" fill="#9dcbe1"/>
<rect x="446.20" y="12.0" width="0.650" height="40.60" fill="#98c8e0"/>
<rect x="446.80" y="12.0" width="0.650" height="40.60" fill="#98c8e0"/>
<rect x="447.40" y="12.0" width="0.650" height="40.60" fill="#b7d8e9"/>
<rect x="448.00" y="12.0" width="0.650" height="40.60" fill="#c1ddeb"/>
<rect x="448.60" y="12.0" width="0.650" height="40.60" fill="#bfdceb"/>
<rect x="449.20" y="12.0" width="0.650" height="40.60" fill="#a3cde3"/>
<rect x="449.80" y="12.0" width="0.650" height="40.60" fill="#a2cde3"/>
<rect x="450.40" y="12.0" width="0.650" height="40.60" fill="#c5dfed"/>
<rect x="451.00" y="12.0" width="0.650" height="40.60" fill="#c4deec"/>
<rect x="451.60" y="12.0" width="0.650" height="40.60" fill="#c1ddeb"/>
<rect x="452.20" y="12.0" width="0.650" height="40.60" fill="#c6dfed"/>
<rect x="452.80" y="12.0" width="0.650" height="40.60" fill="#c8e0ed"/>
<rect x="453.40" y="12.0" width="0.650" height="40.60" fill="#bddbea"/>
<rect x="454.00" y="12.0" width="0.650" height="40.60" fill="#9bcae1"/>
<rect x="454.60" y="12.0" width="0.650" height="40.60" fill="#a0cce2"/>
<rect x="455.20" y="12.0" width="0.650" height="40.60" fill="#bbdaea"/>
<rect x="455.80" y="12.0" width="0.650" height="40.60" fill="#9ac9e0"/>
<rect x="456.40" y="12.0" width="0.650" height="40.60" fill="#a1cce2"/>
<rect x="457.00" y="12.0" width="0.650" height="40.60" fill="#a0cce2"/>
<rect x="457.60" y="12.0" width="0.650" height="40.60" fill="#59a1cb"/>
<rect x="458.20" y="12.0" width="0.650" height="40.60" fill="#c9e1ee"/>
<rect x="458.80" y="12.0" width="0.650" height="40.60" fill="#d0e4f0"/>
<rect x="459.40" y="12.0" width="0.650" height="40.60" fill="#a3cde3"/>
<rect x="460.00" y="12.0" width="0.650" height="40.60" fill="#b1d5e7"/>
<rect x="460.60" y="12.0" width="0.650" height="40.60" fill="#c1ddec"/>
<rect x="461.20" y="12.0" width="0.650" height="40.60" fill="#b3d6e7"/>
<rect x="461.80" y="12.0" width="0.650" height="40.60" fill="#b7d8e8"/>
<rect x="462.40" y="12.0" width="0.650" height="40.60" fill="#b1d5e7"/>
<rect x="197.00" y="53.2" width="0.662" height="39.70" fill="#f7fbfd"/>
<rect x="197.61" y="53.2" width="0.662" height="39.70" fill="#fbfdfe"/>
<rect x="198.22" y="53.2" width="0.662" height="39.70" fill="#f3f8fb"/>
<rect x="198.84" y="53.2" width="0.662" height="39.70" fill="#f4f9fb"/>
<rect x="199.45" y="53.2" width="0.662" height="39.70" fill="#f4f9fb"/>
<rect x="200.06" y="53.2" width="0.662" height="39.70" fill="#fafcfd"/>
<rect x="200.68" y="53.2" width="0.662" height="39.70" fill="#ffffff"/>
<rect x="201.29" y="53.2" width="0.662" height="39.70" fill="#ffffff"/>
<rect x="201.90" y="53.2" width="0.662" height="39.70" fill="#fcfdfe"/>
<rect x="202.51" y="53.2" width="0.662" height="39.70" fill="#f2f8fb"/>
<rect x="203.12" y="53.2" width="0.662" height="39.70" fill="#f4f9fc"/>
<rect x="203.74" y="53.2" width="0.662" height="39.70" fill="#fdfefe"/>
<rect x="204.35" y="53.2" width="0.662" height="39.70" fill="#fffbf9"/>
<rect x="204.96" y="53.2" width="0.662" height="39.70" fill="#fffefe"/>
<rect x="205.57" y="53.2" width="0.662" height="39.70" fill="#fffaf7"/>
<rect x="206.19" y="53.2" width="0.662" height="39.70" fill="#f6fafc"/>
<rect x="206.80" y="53.2" width="0.662" height="39.70" fill="#f9fcfd"/>
<rect x="207.41" y="53.2" width="0.662" height="39.70" fill="#fefeff"/>
<rect x="208.03" y="53.2" width="0.662" height="39.70" fill="#fbfdfe"/>
<rect x="208.64" y="53.2" width="0.662" height="39.70" fill="#fcfdfe"/>
<rect x="209.25" y="53.2" width="0.662" height="39.70" fill="#fbfdfe"/>
<rect x="209.86" y="53.2" width="0.662" height="39.70" fill="#fafcfd"/>
<rect x="210.47" y="53.2" width="0.662" height="39.70" fill="#fafcfd"/>
<rect x="211.09" y="53.2" width="0.662" height="39.70" fill="#f7fafc"/>
<rect x="211.70" y="53.2" width="0.662" height="39.70" fill="#f6fafc"/>
<rect x="212.31" y="53.2" width="0.662" height="39.70" fill="#f6fafc"/>
<rect x="212.92" y="53.2" width="0.662" height="39.70" fill="#f5f9fc"/>
<rect x="213.54" y="53.2" width="0.662" height="39.70" fill="#fffaf7"/>
<rect x="214.15" y="53.2" width="0.662" height="39.70" fill="#fbfdfe"/>
<rect x="214.76" y="53.2" width="0.662" height="39.70" fill="#ffffff"/>
<rect x="215.38" y="53.2" width="0.662" height="39.70" fill="#fff8f5"/>
<rect x="215.99" y="53.2" width="0.662" height="39.70" fill="#fffcfa"/>
<rect x="216.60" y="53.2" width="0.657" height="39.70" fill="#f7fbfc"/>
<rect x="217.21" y="53.2" width="0.657" height="39.70" fill="#fafcfd"/>
<rect x="217.81" y="53.2" width="0.657" height="39.70" fill="#f9fbfd"/>
<rect x="218.42" y="53.2" width="0.657" height="39.70" fill="#fef5ef"/>
<rect x="219.03" y="53.2" width="0.657" height="39.70" fill="#fef5ef"/>
<rect x="219.64" y="53.2" width="0.657" height="39.70" fill="#fef5ef"/>
<rect x="220.24" y="53.2" width="0.657" height="39.70" fill="#fffcfb"/>
<rect x="220.85" y="53.2" width="0.657" height="39.70" fill="#f8fbfd"/>
<rect x="221.46" y="53.2" width="0.657" height="39.70" fill="#f8fbfd"/>
<rect x="222.07" y="53.2" width="0.657" height="39.70" fill="#fffdfc"/>
<rect x="222.67" y="53.2" width="0.657" height="39.70" fill="#f5f9fc"/>
<rect x="223.28" y="53.2" width="0.657" height="39.70" fill="#f6fafc"/>
<rect x="223.89" y="53.2" width="0.657" height="39.70" fill="#f9fcfd"/>
<rect x="224.49" y="53.2" width="0.657" height="39.70" fill="#f9fcfd"/>
<rect x="225.10" y="53.2" width="0.657" height="39.70" fill="#fffefe"/>
<rect x="225.71" y="53.2" width="0.657" height="39.70" fill="#feefe6"/>
<rect x="226.32" y="53.2" width="0.657" height="39.70" fill="#fef3ec"/>
<rect x="226.92" y="53.2" width="0.657" height="39.70" fill="#fef4ef"/>
<rect x="227.53" y="53.2" width="0.657" height="39.70" fill="#e4f0f6"/>
<rect x="228.14" y="53.2" width="0.657" height="39.70" fill="#e5f0f7"/>
<rect x="228.75" y="53.2" width="0.657" height="39.70" fill="#fef5ef"/>
<rect x="229.35" y="53.2" width="0.657" height="39.70" fill="#fff6f2"/>
<rect x="229.96" y="53.2" width="0.657" height="39.70" fill="#fef5ef"/>
<rect x="230.57" y="53.2" width="0.657" height="39.70" fill="#e8f2f8"/>
<rect x="231.17" y="53.2" width="0.657" height="39.70" fill="#fff9f5"/>
<rect x="231.78" y="53.2" width="0.657" height="39.70" fill="#fffaf7"/>
<rect x="232.39" y="53.2" width="0.657" height="39.70" fill="#fbfdfe"/>
<rect x="233.00" y="53.2" width="0.657" height="39.70" fill="#f2f8fb"/>
<rect x="233.60" y="53.2" width="0.657" height="39.70" fill="#f0f7fa"/>
<rect x="234.21" y="53.2" width="0.657" height="39.70" fill="#f1f7fa"/>
<rect x="234.82" y="53.2" width="0.657" height="39.70" fill="#f1f7fa"/>
<rect x="235.42" y="53.2" width="0.657" height="39.70" fill="#eff6fa"/>
<rect x="236.03" y="53.2" width="0.657" height="39.70" fill="#fbfdfe"/>
<rect x="236.64" y="53.2" width="0.657" height="39.70" fill="#fffbf8"/>
<rect x="237.25" y="53.2" width="0.657" height="39.70" fill="#fffdfc"/>
<rect x="237.85" y="53.2" width="0.657" height="39.70" fill="#fffcfb"/>
<rect x="238.46" y="53.2" width="0.657" height="39.70" fill="#fffffe"/>
<rect x="239.07" y="53.2" width="0.657" height="39.70" fill="#f9fcfd"/>
<rect x="239.68" y="53.2" width="0.657" height="39.70" fill="#f7fbfc"/>
<rect x="240.28" y="53.2" width="0.657" height="39.70" fill="#fbfdfe"/>
<rect x="240.89" y="53.2" width="0.657" height="39.70" fill="#fdfefe"/>
<rect x="241.50" y="53.2" width="0.657" height="39.70" fill="#e8f2f8"/>
<rect x="242.10" y="53.2" width="0.657" height="39.70" fill="#e7f1f7"/>
<rect x="242.71" y="53.2" width="0.657" height="39.70" fill="#e8f2f8"/>
<rect x="243.32" y="53.2" width="0.657" height="39.70" fill="#fbfdfe"/>
<rect x="243.93" y="53.2" width="0.657" height="39.70" fill="#fef3ed"/>
<rect x="244.53" y="53.2" width="0.657" height="39.70" fill="#f9fbfd"/>
<rect x="245.14" y="53.2" width="0.657" height="39.70" fill="#fafcfe"/>
<rect x="245.75" y="53.2" width="0.657" height="39.70" fill="#dfedf5"/>
<rect x="246.36" y="53.2" width="0.657" height="39.70" fill="#fff9f6"/>
<rect x="246.96" y="53.2" width="0.657" height="39.70" fill="#fffaf7"/>
<rect x="247.57" y="53.2" width="0.657" height="39.70" fill="#fafcfd"/>
<rect x="248.18" y="53.2" width="0.657" height="39.70" fill="#fee9dd"/>
<rect x="248.78" y="53.2" width="0.657" height="39.70" fill="#fafcfd"/>
<rect x="249.39" y="53.2" width="0.657" height="39.70" fill="#f3f8fb"/>
<rect x="250.00" y="53.2" width="0.657" height="39.70" fill="#fffaf7"/>
<rect x="250.61" y="53.2" width="0.657" height="39.70" fill="#fff9f5"/>
<rect x="251.21" y="53.2" width="0.657" height="39.70" fill="#f9fcfd"/>
<rect x="251.82" y="53.2" width="0.657" height="39.70" fill="#fffaf8"/>
<rect x="252.43" y="53.2" width="0.657" height="39.70" fill="#fbfdfe"/>
<rect x="253.04" y="53.2" width="0.657" height="39.70" fill="#fbfdfe"/>
<rect x="253.64" y="53.2" width="0.657" height="39.70" fill="#fafcfd"/>
<rect x="254.25" y="53.2" width="0.657" height="39.70" fill="#fafcfd"/>
<rect x="254.86" y="53.2" width="0.657" height="39.70" fill="#f8fbfd"/>
<rect x="255.46" y="53.2" width="0.657" height="39.70" fill="#fcfdfe"/>
<rect x="256.07" y="53.2" width="0.657" height="39.70" fill="#fdfefe"/>
<rect x="256.68" y="53.2" width="0.657" height="39.70" fill="#fdfefe"/>
<rect x="257.29" y="53.2" width="0.657" height="39.70" fill="#fdfefe"/>
<rect x="257.89" y="53.2" width="0.657" height="39.70" fill="#eaf3f8"/>
<rect x="258.50" y="53.2" width="0.657" height="39.70" fill="#edf5f9"/>
<rect x="259.11" y="53.2" width="0.657" height="39.70" fill="#edf5f9"/>
<rect x="259.72" y="53.2" width="0.657" height="39.70" fill="#ecf5f9"/>
<rect x="260.32" y="53.2" width="0.657" height="39.70" fill="#f2f7fb"/>
<rect x="260.93" y="53.2" width="0.657" height="39.70" fill="#f3f8fb"/>
<rect x="261.54" y="53.2" width="0.657" height="39.70" fill="#fefeff"/>
<rect x="262.14" y="53.2" width="0.657" height="39.70" fill="#fcfdfe"/>
<rect x="262.75" y="53.2" width="0.657" height="39.70" fill="#fdfefe"/>
<rect x="263.36" y="53.2" width="0.657" height="39.70" fill="#fef3ec"/>
<rect x="263.97" y="53.2" width="0.657" height="39.70" fill="#fef3ec"/>
<rect x="264.57" y="53.2" width="0.657" height="39.70" fill="#fffaf7"/>
<rect x="265.18" y="53.2" width="0.657" height="39.70" fill="#fff9f6"/>
<rect x="265.79" y="53.2" width="0.657" height="39.70" fill="#fafcfd"/>
<rect x="266.40" y="53.2" width="0.657" height="39.70" fill="#fffdfb"/>
<rect x="267.00" y="53.2" width="0.657" height="39.70" fill="#fef5f0"/>
<rect x="267.61" y="53.2" width="0.657" height="39.70" fill="#f2f8fb"/>
<rect x="268.22" y="53.2" width="0.657" height="39.70" fill="#e4f0f6"/>
<rect x="268.82" y="53.2" width="0.657" height="39.70" fill="#e2eff6"/>
<rect x="269.43" y="53.2" width="0.657" height="39.70" fill="#fbfcfe"/>
<rect x="270.04" y="53.2" width="0.657" height="39.70" fill="#f6fafc"/>
<rect x="270.65" y="53.2" width="0.657" height="39.70" fill="#f5f9fc"/>
<rect x="271.25" y="53.2" width="0.657" height="39.70" fill="#f4f9fb"/>
<rect x="271.86" y="53.2" width="0.657" height="39.70" fill="#f1f7fa"/>
<rect x="272.47" y="53.2" width="0.657" height="39.70" fill="#f0f7fa"/>
<rect x="273.07" y="53.2" width="0.657" height="39.70" fill="#fffbf8"/>
<rect x="273.68" y="53.2" width="0.657" height="39.70" fill="#d8e9f2"/>
<rect x="274.29" y="53.2" width="0.657" height="39.70" fill="#d7e8f2"/>
<rect x="274.90" y="53.2" width="0.657" height="39.70" fill="#d7e8f2"/>
<rect x="275.50" y="53.2" width="0.657" height="39.70" fill="#d9e9f2"/>
<rect x="276.11" y="53.2" width="0.657" height="39.70" fill="#f4f9fb"/>
<rect x="276.72" y="53.2" width="0.657" height="39.70" fill="#f4f9fc"/>
<rect x="277.33" y="53.2" width="0.657" height="39.70" fill="#e8f2f8"/>
<rect x="277.93" y="53.2" width="0.657" height="39.70" fill="#ecf4f9"/>
<rect x="278.54" y="53.2" width="0.657" height="39.70" fill="#eff6fa"/>
<rect x="279.15" y="53.2" width="0.657" height="39.70" fill="#fbfdfe"/>
<rect x="279.75" y="53.2" width="0.657" height="39.70" fill="#fcfdfe"/>
<rect x="280.36" y="53.2" width="0.657" height="39.70" fill="#fafcfd"/>
<rect x="280.97" y="53.2" width="0.657" height="39.70" fill="#f9fbfd"/>
<rect x="281.58" y="53.2" width="0.657" height="39.70" fill="#f8fbfd"/>
<rect x="282.18" y="53.2" width="0.657" height="39.70" fill="#fffaf7"/>
<rect x="282.79" y="53.2" width="0.657" height="39.70" fill="#fffaf7"/>
<rect x="283.40" y="53.2" width="0.657" height="39.70" fill="#fff9f5"/>
<rect x="284.01" y="53.2" width="0.657" height="39.70" fill="#fef4ed"/>
<rect x="284.61" y="53.2" width="0.657" height="39.70" fill="#f7fbfd"/>
<rect x="285.22" y="53.2" width="0.657" height="39.70" fill="#eff6fa"/>
<rect x="285.83" y="53.2" width="0.657" height="39.70" fill="#f6fafc"/>
<rect x="286.43" y="53.2" width="0.657" height="39.70" fill="#f3f8fb"/>
<rect x="287.04" y="53.2" width="0.657" height="39.70" fill="#f0f7fa"/>
<rect x="287.65" y="53.2" width="0.657" height="39.70" fill="#eaf3f8"/>
<rect x="288.26" y="53.2" width="0.657" height="39.70" fill="#fcfdfe"/>
<rect x="288.86" y="53.2" width="0.657" height="39.70" fill="#fdfefe"/>
<rect x="289.47" y="53.2" width="0.657" height="39.70" fill="#f9fcfd"/>
<rect x="290.08" y="53.2" width="0.657" height="39.70" fill="#fbfdfe"/>
<rect x="290.69" y="53.2" width="0.657" height="39.70" fill="#fcfdfe"/>
<rect x="291.29" y="53.2" width="0.657" height="39.70" fill="#fcfdfe"/>
<rect x="291.90" y="53.2" width="0.661" height="39.70" fill="#eff6fa"/>
<rect x="292.51" y="53.2" width="0.661" height="39.70" fill="#fff7f3"/>
<rect x="293.12" y="53.2" width="0.661" height="39.70" fill="#fef4ee"/>
<rect x="293.73" y="53.2" width="0.661" height="39.70" fill="#fef3ed"/>
<rect x="294.34" y="53.2" width="0.661" height="39.70" fill="#fef4ee"/>
<rect x="294.95" y="53.2" width="0.661" height="39.70" fill="#fef4ed"/>
<rect x="295.56" y="53.2" width="0.661" height="39.70" fill="#fef2eb"/>
<rect x="296.17" y="53.2" width="0.661" height="39.70" fill="#fef1e9"/>
<rect x="296.78" y="53.2" width="0.661" height="39.70" fill="#feefe6"/>
<rect x="297.40" y="53.2" width="0.661" height="39.70" fill="#fefeff"/>
<rect x="298.01" y="53.2" width="0.661" height="39.70" fill="#fbfdfe"/>
<rect x="298.62" y="53.2" width="0.661" height="39.70" fill="#f8fbfd"/>
<rect x="299.23" y="53.2" width="0.661" height="39.70" fill="#f6fafc"/>
<rect x="299.84" y="53.2" width="0.661" height="39.70" fill="#fdfefe"/>
<rect x="300.45" y="53.2" width="0.661" height="39.70" fill="#fffcfb"/>
<rect x="301.06" y="53.2" width="0.661" height="39.70" fill="#f7fbfc"/>
<rect x="301.67" y="53.2" width="0.661" height="39.70" fill="#f5f9fc"/>
<rect x="302.28" y="53.2" width="0.661" height="39.70" fill="#f6fafc"/>
<rect x="302.89" y="53.2" width="0.661" height="39.70" fill="#fefeff"/>
<rect x="303.50" y="53.2" width="0.661" height="39.70" fill="#fffefe"/>
<rect x="304.11" y="53.2" width="0.661" height="39.70" fill="#fdfefe"/>
<rect x="304.72" y="53.2" width="0.661" height="39.70" fill="#fffdfc"/>
<rect x="305.33" y="53.2" width="0.661" height="39.70" fill="#fbfdfe"/>
<rect x="305.94" y="53.2" width="0.661" height="39.70" fill="#fffefd"/>
<rect x="306.55" y="53.2" width="0.661" height="39.70" fill="#fffdfc"/>
<rect x="307.17" y="53.2" width="0.661" height="39.70" fill="#fef4ed"/>
<rect x="307.78" y="53.2" width="0.661" height="39.70" fill="#fef4ee"/>
<rect x="308.39" y="53.2" width="0.661" height="39.70" fill="#f6fafc"/>
<rect x="309.00" y="53.2" width="0.661" height="39.70" fill="#fdfefe"/>
<rect x="309.61" y="53.2" width="0.661" height="39.70" fill="#fdfefe"/>
<rect x="310.22" y="53.2" width="0.661" height="39.70" fill="#fffcfa"/>
<rect x="310.83" y="53.2" width="0.661" height="39.70" fill="#fdfeff"/>
<rect x="311.44" y="53.2" width="0.661" height="39.70" fill="#f4f9fc"/>
<rect x="312.05" y="53.2" width="0.661" height="39.70" fill="#fffdfc"/>
<rect x="312.66" y="53.2" width="0.661" height="39.70" fill="#fffcfb"/>
<rect x="313.27" y="53.2" width="0.661" height="39.70" fill="#fffdfb"/>
<rect x="313.88" y="53.2" width="0.661" height="39.70" fill="#fffdfc"/>
<rect x="314.49" y="53.2" width="0.661" height="39.70" fill="#fffaf7"/>
<rect x="315.10" y="53.2" width="0.661" height="39.70" fill="#fff9f6"/>
<rect x="315.71" y="53.2" width="0.661" height="39.70" fill="#fffaf7"/>
<rect x="316.32" y="53.2" width="0.661" height="39.70" fill="#fefeff"/>
<rect x="316.94" y="53.2" width="0.661" height="39.70" fill="#ffffff"/>
<rect x="317.55" y="53.2" width="0.661" height="39.70" fill="#ffffff"/>
<rect x="318.16" y="53.2" width="0.661" height="39.70" fill="#fefeff"/>
<rect x="318.77" y="53.2" width="0.661" height="39.70" fill="#fdfefe"/>
<rect x="319.38" y="53.2" width="0.661" height="39.70" fill="#fffbf8"/>
<rect x="319.99" y="53.2" width="0.661" height="39.70" fill="#fffbf8"/>
<rect x="320.60" y="53.2" width="0.661" height="39.70" fill="#fffbf9"/>
<rect x="321.21" y="53.2" width="0.661" height="39.70" fill="#f7fafc"/>
<rect x="321.82" y="53.2" width="0.661" height="39.70" fill="#f8fbfd"/>
<rect x="322.43" y="53.2" width="0.661" height="39.70" fill="#f9fcfd"/>
<rect x="323.04" y="53.2" width="0.661" height="39.70" fill="#fcfdfe"/>
<rect x="323.65" y="53.2" width="0.661" height="39.70" fill="#fdfefe"/>
<rect x="324.26" y="53.2" width="0.661" height="39.70" fill="#fcfdfe"/>
<rect x="324.87" y="53.2" width="0.661" height="39.70" fill="#fffcfb"/>
<rect x="325.48" y="53.2" width="0.661" height="39.70" fill="#f5fafc"/>
<rect x="326.09" y="53.2" width="0.661" height="39.70" fill="#f7fafc"/>
<rect x="326.71" y="53.2" width="0.661" height="39.70" fill="#f6fafc"/>
<rect x="327.32" y="53.2" width="0.661" height="39.70" fill="#fef4ee"/>
<rect x="327.93" y="53.2" width="0.661" height="39.70" fill="#f3f8fb"/>
<rect x="328.54" y="53.2" width="0.661" height="39.70" fill="#fff7f3"/>
<rect x="329.15" y="53.2" width="0.661" height="39.70" fill="#fff8f4"/>
<rect x="329.76" y="53.2" width="0.661" height="39.70" fill="#fff7f3"/>
<rect x="330.37" y="53.2" width="0.661" height="39.70" fill="#fff8f5"/>
<rect x="330.98" y="53.2" width="0.661" height="39.70" fill="#fff8f4"/>
<rect x="331.59" y="53.2" width="0.661" height="39.70" fill="#fdfefe"/>
<rect x="332.20" y="53.2" width="0.661" height="39.70" fill="#fbfdfe"/>
<rect x="332.81" y="53.2" width="0.661" height="39.70" fill="#fffdfc"/>
<rect x="333.42" y="53.2" width="0.661" height="39.70" fill="#fef4ef"/>
<rect x="334.03" y="53.2" width="0.661" height="39.70" fill="#fdfefe"/>
<rect x="334.64" y="53.2" width="0.661" height="39.70" fill="#fbfcfe"/>
<rect x="335.25" y="53.2" width="0.661" height="39.70" fill="#f9fcfd"/>
<rect x="335.86" y="53.2" width="0.661" height="39.70" fill="#f7fafc"/>
<rect x="336.47" y="53.2" width="0.661" height="39.70" fill="#f7fafc"/>
<rect x="337.09" y="53.2" width="0.661" height="39.70" fill="#fef4ee"/>
<rect x="337.70" y="53.2" width="0.661" height="39.70" fill="#f8fbfd"/>
<rect x="338.31" y="53.2" width="0.661" height="39.70" fill="#fffcfa"/>
<rect x="338.92" y="53.2" width="0.661" height="39.70" fill="#fffcfa"/>
<rect x="339.53" y="53.2" width="0.661" height="39.70" fill="#fffbf9"/>
<rect x="340.14" y="53.2" width="0.661" height="39.70" fill="#fffbf8"/>
<rect x="340.75" y="53.2" width="0.661" height="39.70" fill="#fff9f5"/>
<rect x="341.36" y="53.2" width="0.661" height="39.70" fill="#fff9f5"/>
<rect x="341.97" y="53.2" width="0.661" height="39.70" fill="#fff9f5"/>
<rect x="342.58" y="53.2" width="0.661" height="39.70" fill="#fffcfb"/>
<rect x="343.19" y="53.2" width="0.661" height="39.70" fill="#fef5ef"/>
<rect x="343.80" y="53.2" width="0.661" height="39.70" fill="#fff6f2"/>
<rect x="344.41" y="53.2" width="0.661" height="39.70" fill="#fff8f4"/>
<rect x="345.02" y="53.2" width="0.661" height="39.70" fill="#fff7f3"/>
<rect x="345.63" y="53.2" width="0.661" height="39.70" fill="#fff8f4"/>
<rect x="346.24" y="53.2" width="0.661" height="39.70" fill="#fff7f2"/>
<rect x="346.86" y="53.2" width="0.661" height="39.70" fill="#fef5f0"/>
<rect x="347.47" y="53.2" width="0.661" height="39.70" fill="#feede3"/>
<rect x="348.08" y="53.2" width="0.661" height="39.70" fill="#feefe6"/>
<rect x="348.69" y="53.2" width="0.661" height="39.70" fill="#feefe5"/>
<rect x="349.30" y="53.2" width="0.661" height="39.70" fill="#feefe6"/>
<rect x="349.91" y="53.2" width="0.661" height="39.70" fill="#feefe7"/>
<rect x="350.52" y="53.2" width="0.661" height="39.70" fill="#fff8f5"/>
<rect x="351.13" y="53.2" width="0.661" height="39.70" fill="#fdfefe"/>
<rect x="351.74" y="53.2" width="0.661" height="39.70" fill="#fffcfb"/>
<rect x="352.35" y="53.2" width="0.661" height="39.70" fill="#fffdfc"/>
<rect x="352.96" y="53.2" width="0.661" height="39.70" fill="#fffdfc"/>
<rect x="353.57" y="53.2" width="0.661" height="39.70" fill="#ebf4f8"/>
<rect x="354.18" y="53.2" width="0.661" height="39.70" fill="#eef5f9"/>
<rect x="354.79" y="53.2" width="0.661" height="39.70" fill="#eff6fa"/>
<rect x="355.40" y="53.2" width="0.661" height="39.70" fill="#edf5f9"/>
<rect x="356.01" y="53.2" width="0.661" height="39.70" fill="#eef5f9"/>
<rect x="356.63" y="53.2" width="0.661" height="39.70" fill="#ffffff"/>
<rect x="357.24" y="53.2" width="0.661" height="39.70" fill="#fffefd"/>
<rect x="357.85" y="53.2" width="0.661" height="39.70" fill="#feffff"/>
<rect x="358.46" y="53.2" width="0.661" height="39.70" fill="#fafcfd"/>
<rect x="359.07" y="53.2" width="0.661" height="39.70" fill="#f9fbfd"/>
<rect x="359.68" y="53.2" width="0.661" height="39.70" fill="#f8fbfd"/>
<rect x="360.29" y="53.2" width="0.661" height="39.70" fill="#f4f9fc"/>
<rect x="360.90" y="53.2" width="0.661" height="39.70" fill="#f7fafc"/>
<rect x="361.51" y="53.2" width="0.661" height="39.70" fill="#f9fbfd"/>
<rect x="362.12" y="53.2" width="0.661" height="39.70" fill="#fafcfd"/>
<rect x="362.73" y="53.2" width="0.661" height="39.70" fill="#fffaf7"/>
<rect x="363.34" y="53.2" width="0.661" height="39.70" fill="#fff7f2"/>
<rect x="363.95" y="53.2" width="0.661" height="39.70" fill="#fffffe"/>
<rect x="364.56" y="53.2" width="0.661" height="39.70" fill="#fffffe"/>
<rect x="365.17" y="53.2" width="0.661" height="39.70" fill="#fffaf8"/>
<rect x="365.78" y="53.2" width="0.661" height="39.70" fill="#fef3ec"/>
<rect x="366.39" y="53.2" width="0.661" height="39.70" fill="#fcfdfe"/>
<rect x="367.01" y="53.2" width="0.661" height="39.70" fill="#fffaf8"/>
<rect x="367.62" y="53.2" width="0.661" height="39.70" fill="#fffaf7"/>
<rect x="368.23" y="53.2" width="0.661" height="39.70" fill="#fffaf8"/>
<rect x="368.84" y="53.2" width="0.661" height="39.70" fill="#fff6f2"/>
<rect x="369.45" y="53.2" width="0.661" height="39.70" fill="#fff7f2"/>
<rect x="370.06" y="53.2" width="0.661" height="39.70" fill="#fef5f0"/>
<rect x="370.67" y="53.2" width="0.661" height="39.70" fill="#f9fcfd"/>
<rect x="371.28" y="53.2" width="0.661" height="39.70" fill="#f8fbfd"/>
<rect x="371.89" y="53.2" width="0.661" height="39.70" fill="#f4f9fc"/>
<rect x="372.50" y="53.2" width="0.661" height="39.70" fill="#fdfefe"/>
<rect x="373.11" y="53.2" width="0.661" height="39.70" fill="#fefeff"/>
<rect x="373.72" y="53.2" width="0.661" height="39.70" fill="#fffcfb"/>
<rect x="374.33" y="53.2" width="0.661" height="39.70" fill="#fffdfc"/>
<rect x="374.94" y="53.2" width="0.661" height="39.70" fill="#f8fbfd"/>
<rect x="375.55" y="53.2" width="0.661" height="39.70" fill="#f8fbfd"/>
<rect x="376.16" y="53.2" width="0.661" height="39.70" fill="#f7fafc"/>
<rect x="376.78" y="53.2" width="0.661" height="39.70" fill="#fafcfd"/>
<rect x="377.39" y="53.2" width="0.661" height="39.70" fill="#f8fbfd"/>
<rect x="378.00" y="53.2" width="0.661" height="39.70" fill="#f8fbfd"/>
<rect x="378.61" y="53.2" width="0.661" height="39.70" fill="#fffaf7"/>
<rect x="379.22" y="53.2" width="0.661" height="39.70" fill="#fff8f4"/>
<rect x="379.83" y="53.2" width="0.661" height="39.70" fill="#fff6f2"/>
<rect x="380.44" y="53.2" width="0.661" height="39.70" fill="#fdfefe"/>
<rect x="381.05" y="53.2" width="0.661" height="39.70" fill="#fefeff"/>
<rect x="381.66" y="53.2" width="0.661" height="39.70" fill="#fef2ea"/>
<rect x="382.27" y="53.2" width="0.661" height="39.70" fill="#ffffff"/>
<rect x="382.88" y="53.2" width="0.661" height="39.70" fill="#fcfdfe"/>
<rect x="383.49" y="53.2" width="0.661" height="39.70" fill="#fdfefe"/>
<rect x="384.10" y="53.2" width="0.661" height="39.70" fill="#f7fafc"/>
<rect x="384.71" y="53.2" width="0.661" height="39.70" fill="#f9fcfd"/>
<rect x="385.32" y="53.2" width="0.661" height="39.70" fill="#fffefd"/>
<rect x="385.93" y="53.2" width="0.661" height="39.70" fill="#fffaf8"/>
<rect x="386.55" y="53.2" width="0.661" height="39.70" fill="#fffcfa"/>
<rect x="387.16" y="53.2" width="0.661" height="39.70" fill="#fffdfc"/>
<rect x="387.77" y="53.2" width="0.661" height="39.70" fill="#fffdfd"/>
<rect x="388.38" y="53.2" width="0.661" height="39.70" fill="#fffcfb"/>
<rect x="388.99" y="53.2" width="0.661" height="39.70" fill="#f3f8fb"/>
<rect x="389.60" y="53.2" width="0.661" height="39.70" fill="#f2f8fb"/>
<rect x="390.21" y="53.2" width="0.661" height="39.70" fill="#fef6f0"/>
<rect x="390.82" y="53.2" width="0.661" height="39.70" fill="#fef5f0"/>
<rect x="391.43" y="53.2" width="0.661" height="39.70" fill="#fff7f2"/>
<rect x="392.04" y="53.2" width="0.661" height="39.70" fill="#fff7f3"/>
<rect x="392.65" y="53.2" width="0.661" height="39.70" fill="#fff7f3"/>
<rect x="393.26" y="53.2" width="0.661" height="39.70" fill="#fff7f3"/>
<rect x="393.87" y="53.2" width="0.661" height="39.70" fill="#fff7f3"/>
<rect x="394.48" y="53.2" width="0.661" height="39.70" fill="#fafcfd"/>
<rect x="395.09" y="53.2" width="0.661" height="39.70" fill="#fafcfd"/>
<rect x="395.70" y="53.2" width="0.661" height="39.70" fill="#f8fbfd"/>
<rect x="396.32" y="53.2" width="0.661" height="39.70" fill="#fff7f3"/>
<rect x="396.93" y="53.2" width="0.661" height="39.70" fill="#fefeff"/>
<rect x="397.54" y="53.2" width="0.661" height="39.70" fill="#fcfdfe"/>
<rect x="398.15" y="53.2" width="0.661" height="39.70" fill="#fefeff"/>
<rect x="398.76" y="53.2" width="0.661" height="39.70" fill="#ffffff"/>
<rect x="399.37" y="53.2" width="0.661" height="39.70" fill="#fffaf8"/>
<rect x="399.98" y="53.2" width="0.661" height="39.70" fill="#fff9f6"/>
<rect x="400.59" y="53.2" width="0.661" height="39.70" fill="#fcfdfe"/>
<rect x="401.20" y="53.2" width="0.650" height="39.70" fill="#fff7f2"/>
<rect x="401.80" y="53.2" width="0.650" height="39.70" fill="#fff8f5"/>
<rect x="402.40" y="53.2" width="0.650" height="39.70" fill="#fef5ef"/>
<rect x="403.00" y="53.2" width="0.650" height="39.70" fill="#f0f7fa"/>
<rect x="403.60" y="53.2" width="0.650" height="39.70" fill="#f2f8fb"/>
<rect x="404.20" y="53.2" width="0.650" height="39.70" fill="#fff9f6"/>
<rect x="404.80" y="53.2" width="0.650" height="39.70" fill="#fffaf7"/>
<rect x="405.40" y="53.2" width="0.650" height="39.70" fill="#fff9f5"/>
<rect x="406.00" y="53.2" width="0.650" height="39.70" fill="#fff7f3"/>
<rect x="406.60" y="53.2" width="0.650" height="39.70" fill="#fffefe"/>
<rect x="407.20" y="53.2" width="0.650" height="39.70" fill="#fef5f0"/>
<rect x="407.80" y="53.2" width="0.650" height="39.70" fill="#fff8f4"/>
<rect x="408.40" y="53.2" width="0.650" height="39.70" fill="#fffaf7"/>
<rect x="409.00" y="53.2" width="0.650" height="39.70" fill="#fffbf9"/>
<rect x="409.60" y="53.2" width="0.650" height="39.70" fill="#fffaf7"/>
<rect x="410.20" y="53.2" width="0.650" height="39.70" fill="#fef3ed"/>
<rect x="410.80" y="53.2" width="0.650" height="39.70" fill="#fff7f2"/>
<rect x="411.40" y="53.2" width="0.650" height="39.70" fill="#fffdfc"/>
<rect x="412.00" y="53.2" width="0.650" height="39.70" fill="#ffffff"/>
<rect x="412.60" y="53.2" width="0.650" height="39.70" fill="#f9fcfd"/>
<rect x="413.20" y="53.2" width="0.650" height="39.70" fill="#fef5ef"/>
<rect x="413.80" y="53.2" width="0.650" height="39.70" fill="#fef4ee"/>
<rect x="414.40" y="53.2" width="0.650" height="39.70" fill="#fff7f2"/>
<rect x="415.00" y="53.2" width="0.650" height="39.70" fill="#f7fafc"/>
<rect x="415.60" y="53.2" width="0.650" height="39.70" fill="#f7fafc"/>
<rect x="416.20" y="53.2" width="0.650" height="39.70" fill="#f7fafc"/>
<rect x="416.80" y="53.2" width="0.650" height="39.70" fill="#f7fafc"/>
<rect x="417.40" y="53.2" width="0.650" height="39.70" fill="#fffcfa"/>
<rect x="418.00" y="53.2" width="0.650" height="39.70" fill="#fffbf9"/>
<rect x="418.60" y="53.2" width="0.650" height="39.70" fill="#f1f7fb"/>
<rect x="419.20" y="53.2" width="0.650" height="39.70" fill="#fef4ed"/>
<rect x="419.80" y="53.2" width="0.650" height="39.70" fill="#fbfdfe"/>
<rect x="420.40" y="53.2" width="0.650" height="39.70" fill="#fafcfd"/>
<rect x="421.00" y="53.2" width="0.650" height="39.70" fill="#f9fcfd"/>
<rect x="421.60" y="53.2" width="0.650" height="39.70" fill="#fafcfd"/>
<rect x="422.20" y="53.2" width="0.650" height="39.70" fill="#fff8f4"/>
<rect x="422.80" y="53.2" width="0.650" height="39.70" fill="#fffdfc"/>
<rect x="423.40" y="53.2" width="0.650" height="39.70" fill="#fafcfd"/>
<rect x="424.00" y="53.2" width="0.650" height="39.70" fill="#fbfdfe"/>
<rect x="424.60" y="53.2" width="0.650" height="39.70" fill="#fff9f6"/>
<rect x="425.20" y="53.2" width="0.650" height="39.70" fill="#fffbf9"/>
<rect x="425.80" y="53.2" width="0.650" height="39.70" fill="#fffbf9"/>
<rect x="426.40" y="53.2" width="0.650" height="39.70" fill="#fff6f1"/>
<rect x="427.00" y="53.2" width="0.650" height="39.70" fill="#fef6f1"/>
<rect x="427.60" y="53.2" width="0.650" height="39.70" fill="#fffdfd"/>
<rect x="428.20" y="53.2" width="0.650" height="39.70" fill="#fef1e8"/>
<rect x="428.80" y="53.2" width="0.650" height="39.70" fill="#f9fcfd"/>
<rect x="429.40" y="53.2" width="0.650" height="39.70" fill="#f8fbfd"/>
<rect x="430.00" y="53.2" width="0.650" height="39.70" fill="#f7fbfc"/>
<rect x="430.60" y="53.2" width="0.650" height="39.70" fill="#f6fafc"/>
<rect x="431.20" y="53.2" width="0.650" height="39.70" fill="#f7fafc"/>
<rect x="431.80" y="53.2" width="0.650" height="39.70" fill="#f3f8fb"/>
<rect x="432.40" y="53.2" width="0.650" height="39.70" fill="#f0f7fa"/>
<rect x="433.00" y="53.2" width="0.650" height="39.70" fill="#fffdfc"/>
<rect x="433.60" y="53.2" width="0.650" height="39.70" fill="#fffcfa"/>
<rect x="434.20" y="53.2" width="0.650" height="39.70" fill="#fffdfc"/>
<rect x="434.80" y="53.2" width="0.650" height="39.70" fill="#fff6f1"/>
<rect x="435.40" y="53.2" width="0.650" height="39.70" fill="#fff6f1"/>
<rect x="436.00" y="53.2" width="0.650" height="39.70" fill="#feffff"/>
<rect x="436.60" y="53.2" width="0.650" height="39.70" fill="#fffaf7"/>
<rect x="437.20" y="53.2" width="0.650" height="39.70" fill="#fff9f6"/>
<rect x="437.80" y="53.2" width="0.650" height="39.70" fill="#fff9f6"/>
<rect x="438.40" y="53.2" width="0.650" height="39.70" fill="#fffaf8"/>
<rect x="439.00" y="53.2" width="0.650" height="39.70" fill="#fff7f3"/>
<rect x="439.60" y="53.2" width="0.650" height="39.70" fill="#fff9f5"/>
<rect x="440.20" y="53.2" width="0.650" height="39.70" fill="#fffefe"/>
<rect x="440.80" y="53.2" width="0.650" height="39.70" fill="#fff7f3"/>
<rect x="441.40" y="53.2" width="0.650" height="39.70" fill="#fffaf7"/>
<rect x="442.00" y="53.2" width="0.650" height="39.70" fill="#fffdfc"/>
<rect x="442.60" y="53.2" width="0.650" height="39.70" fill="#fef3ec"/>
<rect x="443.20" y="53.2" width="0.650" height="39.70" fill="#fff9f6"/>
<rect x="443.80" y="53.2" width="0.650" height="39.70" fill="#fffbf8"/>
<rect x="444.40" y="53.2" width="0.650" height="39.70" fill="#feeee4"/>
<rect x="445.00" y="53.2" width="0.650" height="39.70" fill="#feede3"/>
<rect x="445.60" y="53.2" width="0.650" height="39.70" fill="#feece1"/>
<rect x="446.20" y="53.2" width="0.650" height="39.70" fill="#feebe1"/>
<rect x="446.80" y="53.2" width="0.650" height="39.70" fill="#feece2"/>
<rect x="447.40" y="53.2" width="0.650" height="39.70" fill="#fffcfa"/>
<rect x="448.00" y="53.2" width="0.650" height="39.70" fill="#fffbf9"/>
<rect x="448.60" y="53.2" width="0.650" height="39.70" fill="#fffaf7"/>
<rect x="449.20" y="53.2" width="0.650" height="39.70" fill="#fef2eb"/>
<rect x="449.80" y="53.2" width="0.650" height="39.70" fill="#fef2eb"/>
<rect x="450.40" y="53.2" width="0.650" height="39.70" fill="#fbfdfe"/>
<rect x="451.00" y="53.2" width="0.650" height="39.70" fill="#feffff"/>
<rect x="451.60" y="53.2" width="0.650" height="39.70" fill="#fdfefe"/>
<rect x="452.20" y="53.2" width="0.650" height="39.70" fill="#fefeff"/>
<rect x="452.80" y="53.2" width="0.650" height="39.70" fill="#fdfefe"/>
<rect x="453.40" y="53.2" width="0.650" height="39.70" fill="#fefeff"/>
<rect x="454.00" y="53.2" width="0.650" height="39.70" fill="#fff6f2"/>
<rect x="454.60" y="53.2" width="0.650" height="39.70" fill="#fff7f2"/>
<rect x="455.20" y="53.2" width="0.650" height="39.70" fill="#f9fbfd"/>
<rect x="455.80" y="53.2" width="0.650" height="39.70" fill="#fef5ef"/>
<rect x="456.40" y="53.2" width="0.650" height="39.70" fill="#fef4ee"/>
<rect x="457.00" y="53.2" width="0.650" height="39.70" fill="#fef3ec"/>
<rect x="457.60" y="53.2" width="0.650" height="39.70" fill="#fffbf9"/>
<rect x="458.20" y="53.2" width="0.650" height="39.70" fill="#fff7f2"/>
<rect x="458.80" y="53.2" width="0.650" height="39.70" fill="#fef5f0"/>
<rect x="459.40" y="53.2" width="0.650" height="39.70" fill="#fff8f3"/>
<rect x="460.00" y="53.2" width="0.650" height="39.70" fill="#ffffff"/>
<rect x="460.60" y="53.2" width="0.650" height="39.70" fill="#fdfefe"/>
<rect x="461.20" y="53.2" width="0.650" height="39.70" fill="#fdfefe"/>
<rect x="461.80" y="53.2" width="0.650" height="39.70" fill="#feffff"/>
<rect x="462.40" y="53.2" width="0.650" height="39.70" fill="#ffffff"/>
<rect x="197.00" y="93.4" width="0.662" height="40.40" fill="#347fb9"/>
<rect x="197.61" y="93.4" width="0.662" height="40.40" fill="#266caf"/>
<rect x="198.22" y="93.4" width="0.662" height="40.40" fill="#0a396e"/>
<rect x="198.84" y="93.4" width="0.662" height="40.40" fill="#408fc1"/>
<rect x="199.45" y="93.4" width="0.662" height="40.40" fill="#4695c4"/>
<rect x="200.06" y="93.4" width="0.662" height="40.40" fill="#3985bc"/>
<rect x="200.68" y="93.4" width="0.662" height="40.40" fill="#276eb0"/>
<rect x="201.29" y="93.4" width="0.662" height="40.40" fill="#3581ba"/>
<rect x="201.90" y="93.4" width="0.662" height="40.40" fill="#408fc1"/>
<rect x="202.51" y="93.4" width="0.662" height="40.40" fill="#3884bc"/>
<rect x="203.12" y="93.4" width="0.662" height="40.40" fill="#337eb8"/>
<rect x="203.74" y="93.4" width="0.662" height="40.40" fill="#0f447d"/>
<rect x="204.35" y="93.4" width="0.662" height="40.40" fill="#3884bb"/>
<rect x="204.96" y="93.4" width="0.662" height="40.40" fill="#3783bb"/>
<rect x="205.57" y="93.4" width="0.662" height="40.40" fill="#2d76b4"/>
<rect x="206.19" y="93.4" width="0.662" height="40.40" fill="#3a88bd"/>
<rect x="206.80" y="93.4" width="0.662" height="40.40" fill="#317bb7"/>
<rect x="207.41" y="93.4" width="0.662" height="40.40" fill="#3d8bbf"/>
<rect x="208.03" y="93.4" width="0.662" height="40.40" fill="#3f8ec0"/>
<rect x="208.64" y="93.4" width="0.662" height="40.40" fill="#4190c2"/>
<rect x="209.25" y="93.4" width="0.662" height="40.40" fill="#4494c3"/>
<rect x="209.86" y="93.4" width="0.662" height="40.40" fill="#073568"/>
<rect x="210.47" y="93.4" width="0.662" height="40.40" fill="#083669"/>
<rect x="211.09" y="93.4" width="0.662" height="40.40" fill="#0b3c72"/>
<rect x="211.70" y="93.4" width="0.662" height="40.40" fill="#0d3f76"/>
<rect x="212.31" y="93.4" width="0.662" height="40.40" fill="#0d3f76"/>
<rect x="212.92" y="93.4" width="0.662" height="40.40" fill="#347fb9"/>
<rect x="213.54" y="93.4" width="0.662" height="40.40" fill="#1c5d9f"/>
<rect x="214.15" y="93.4" width="0.662" height="40.40" fill="#307ab6"/>
<rect x="214.76" y="93.4" width="0.662" height="40.40" fill="#2e77b4"/>
<rect x="215.38" y="93.4" width="0.662" height="40.40" fill="#3986bc"/>
<rect x="215.99" y="93.4" width="0.662" height="40.40" fill="#327db8"/>
<rect x="216.60" y="93.4" width="0.657" height="40.40" fill="#deecf4"/>
<rect x="217.21" y="93.4" width="0.657" height="40.40" fill="#a5cfe3"/>
<rect x="217.81" y="93.4" width="0.657" height="40.40" fill="#a7d0e4"/>
<rect x="218.42" y="93.4" width="0.657" height="40.40" fill="#b6d7e8"/>
<rect x="219.03" y="93.4" width="0.657" height="40.40" fill="#b2d5e7"/>
<rect x="219.64" y="93.4" width="0.657" height="40.40" fill="#aed3e6"/>
<rect x="220.24" y="93.4" width="0.657" height="40.40" fill="#b0d4e7"/>
<rect x="220.85" y="93.4" width="0.657" height="40.40" fill="#9ac9e0"/>
<rect x="221.46" y="93.4" width="0.657" height="40.40" fill="#98c8e0"/>
<rect x="222.07" y="93.4" width="0.657" height="40.40" fill="#8dc2dc"/>
<rect x="222.67" y="93.4" width="0.657" height="40.40" fill="#b5d7e8"/>
<rect x="223.28" y="93.4" width="0.657" height="40.40" fill="#b0d4e7"/>
<rect x="223.89" y="93.4" width="0.657" height="40.40" fill="#cee3ef"/>
<rect x="224.49" y="93.4" width="0.657" height="40.40" fill="#cae2ee"/>
<rect x="225.10" y="93.4" width="0.657" height="40.40" fill="#bcdaea"/>
<rect x="225.71" y="93.4" width="0.657" height="40.40" fill="#c0dceb"/>
<rect x="226.32" y="93.4" width="0.657" height="40.40" fill="#a6cfe4"/>
<rect x="226.92" y="93.4" width="0.657" height="40.40" fill="#cce2ef"/>
<rect x="227.53" y="93.4" width="0.657" height="40.40" fill="#d8e9f2"/>
<rect x="228.14" y="93.4" width="0.657" height="40.40" fill="#d3e6f1"/>
<rect x="228.75" y="93.4" width="0.657" height="40.40" fill="#dbebf3"/>
<rect x="229.35" y="93.4" width="0.657" height="40.40" fill="#dcebf4"/>
<rect x="229.96" y="93.4" width="0.657" height="40.40" fill="#d8e9f2"/>
<rect x="230.57" y="93.4" width="0.657" height="40.40" fill="#bfdceb"/>
<rect x="231.17" y="93.4" width="0.657" height="40.40" fill="#c4deec"/>
<rect x="231.78" y="93.4" width="0.657" height="40.40" fill="#e0edf5"/>
<rect x="232.39" y="93.4" width="0.657" height="40.40" fill="#c5dfed"/>
<rect x="233.00" y="93.4" width="0.657" height="40.40" fill="#cfe4ef"/>
<rect x="233.60" y="93.4" width="0.657" height="40.40" fill="#e7f1f7"/>
<rect x="234.21" y="93.4" width="0.657" height="40.40" fill="#e6f1f7"/>
<rect x="234.82" y="93.4" width="0.657" height="40.40" fill="#e7f2f7"/>
<rect x="235.42" y="93.4" width="0.657" height="40.40" fill="#e9f3f8"/>
<rect x="236.03" y="93.4" width="0.657" height="40.40" fill="#dcebf4"/>
<rect x="236.64" y="93.4" width="0.657" height="40.40" fill="#bedbeb"/>
<rect x="237.25" y="93.4" width="0.657" height="40.40" fill="#bedbeb"/>
<rect x="237.85" y="93.4" width="0.657" height="40.40" fill="#bedbea"/>
<rect x="238.46" y="93.4" width="0.657" height="40.40" fill="#c7e0ed"/>
<rect x="239.07" y="93.4" width="0.657" height="40.40" fill="#a5cfe3"/>
<rect x="239.68" y="93.4" width="0.657" height="40.40" fill="#a4cee3"/>
<rect x="240.28" y="93.4" width="0.657" height="40.40" fill="#a2cde3"/>
<rect x="240.89" y="93.4" width="0.657" height="40.40" fill="#a1cde2"/>
<rect x="241.50" y="93.4" width="0.657" height="40.40" fill="#cae1ee"/>
<rect x="242.10" y="93.4" width="0.657" height="40.40" fill="#c1ddeb"/>
<rect x="242.71" y="93.4" width="0.657" height="40.40" fill="#c4deec"/>
<rect x="243.32" y="93.4" width="0.657" height="40.40" fill="#96c7df"/>
<rect x="243.93" y="93.4" width="0.657" height="40.40" fill="#abd2e5"/>
<rect x="244.53" y="93.4" width="0.657" height="40.40" fill="#c3deec"/>
<rect x="245.14" y="93.4" width="0.657" height="40.40" fill="#c2ddec"/>
<rect x="245.75" y="93.4" width="0.657" height="40.40" fill="#c2ddec"/>
<rect x="246.36" y="93.4" width="0.657" height="40.40" fill="#d4e7f1"/>
<rect x="246.96" y="93.4" width="0.657" height="40.40" fill="#d4e7f1"/>
<rect x="247.57" y="93.4" width="0.657" height="40.40" fill="#bcdaea"/>
<rect x="248.18" y="93.4" width="0.657" height="40.40" fill="#d1e5f0"/>
<rect x="248.78" y="93.4" width="0.657" height="40.40" fill="#84bcd9"/>
<rect x="249.39" y="93.4" width="0.657" height="40.40" fill="#d3e6f1"/>
<rect x="250.00" y="93.4" width="0.657" height="40.40" fill="#daeaf3"/>
<rect x="250.61" y="93.4" width="0.657" height="40.40" fill="#d8e9f2"/>
<rect x="251.21" y="93.4" width="0.657" height="40.40" fill="#deecf4"/>
<rect x="251.82" y="93.4" width="0.657" height="40.40" fill="#6cadd1"/>
<rect x="252.43" y="93.4" width="0.657" height="40.40" fill="#c5dfed"/>
<rect x="253.04" y="93.4" width="0.657" height="40.40" fill="#c2ddec"/>
<rect x="253.64" y="93.4" width="0.657" height="40.40" fill="#c0dceb"/>
<rect x="254.25" y="93.4" width="0.657" height="40.40" fill="#bfdceb"/>
<rect x="254.86" y="93.4" width="0.657" height="40.40" fill="#c4deec"/>
<rect x="255.46" y="93.4" width="0.657" height="40.40" fill="#b2d5e7"/>
<rect x="256.07" y="93.4" width="0.657" height="40.40" fill="#b1d5e7"/>
<rect x="256.68" y="93.4" width="0.657" height="40.40" fill="#b2d5e7"/>
<rect x="257.29" y="93.4" width="0.657" height="40.40" fill="#b5d7e8"/>
<rect x="257.89" y="93.4" width="0.657" height="40.40" fill="#90c4dd"/>
<rect x="258.50" y="93.4" width="0.657" height="40.40" fill="#9bcae1"/>
<rect x="259.11" y="93.4" width="0.657" height="40.40" fill="#9ac9e0"/>
<rect x="259.72" y="93.4" width="0.657" height="40.40" fill="#9bcae1"/>
<rect x="260.32" y="93.4" width="0.657" height="40.40" fill="#d4e7f1"/>
<rect x="260.93" y="93.4" width="0.657" height="40.40" fill="#b4d6e8"/>
<rect x="261.54" y="93.4" width="0.657" height="40.40" fill="#d7e8f2"/>
<rect x="262.14" y="93.4" width="0.657" height="40.40" fill="#d1e5f0"/>
<rect x="262.75" y="93.4" width="0.657" height="40.40" fill="#cfe4f0"/>
<rect x="263.36" y="93.4" width="0.657" height="40.40" fill="#c7e0ed"/>
<rect x="263.97" y="93.4" width="0.657" height="40.40" fill="#d0e5f0"/>
<rect x="264.57" y="93.4" width="0.657" height="40.40" fill="#b3d6e8"/>
<rect x="265.18" y="93.4" width="0.657" height="40.40" fill="#b5d7e8"/>
<rect x="265.79" y="93.4" width="0.657" height="40.40" fill="#b1d5e7"/>
<rect x="266.40" y="93.4" width="0.657" height="40.40" fill="#c0ddeb"/>
<rect x="267.00" y="93.4" width="0.657" height="40.40" fill="#bfdceb"/>
<rect x="267.61" y="93.4" width="0.657" height="40.40" fill="#b7d8e9"/>
<rect x="268.22" y="93.4" width="0.657" height="40.40" fill="#c1ddeb"/>
<rect x="268.82" y="93.4" width="0.657" height="40.40" fill="#bddbea"/>
<rect x="269.43" y="93.4" width="0.657" height="40.40" fill="#ddecf4"/>
<rect x="270.04" y="93.4" width="0.657" height="40.40" fill="#d7e8f2"/>
<rect x="270.65" y="93.4" width="0.657" height="40.40" fill="#d6e8f2"/>
<rect x="271.25" y="93.4" width="0.657" height="40.40" fill="#d3e6f1"/>
<rect x="271.86" y="93.4" width="0.657" height="40.40" fill="#d8e9f2"/>
<rect x="272.47" y="93.4" width="0.657" height="40.40" fill="#d7e8f2"/>
<rect x="273.07" y="93.4" width="0.657" height="40.40" fill="#c9e1ee"/>
<rect x="273.68" y="93.4" width="0.657" height="40.40" fill="#93c5de"/>
<rect x="274.29" y="93.4" width="0.657" height="40.40" fill="#97c7df"/>
<rect x="274.90" y="93.4" width="0.657" height="40.40" fill="#93c6de"/>
<rect x="275.50" y="93.4" width="0.657" height="40.40" fill="#92c5de"/>
<rect x="276.11" y="93.4" width="0.657" height="40.40" fill="#afd4e6"/>
<rect x="276.72" y="93.4" width="0.657" height="40.40" fill="#abd2e5"/>
<rect x="277.33" y="93.4" width="0.657" height="40.40" fill="#cce2ef"/>
<rect x="277.93" y="93.4" width="0.657" height="40.40" fill="#c9e1ee"/>
<rect x="278.54" y="93.4" width="0.657" height="40.40" fill="#b1d5e7"/>
<rect x="279.15" y="93.4" width="0.657" height="40.40" fill="#d5e7f1"/>
<rect x="279.75" y="93.4" width="0.657" height="40.40" fill="#d7e8f2"/>
<rect x="280.36" y="93.4" width="0.657" height="40.40" fill="#d8e9f2"/>
<rect x="280.97" y="93.4" width="0.657" height="40.40" fill="#d9e9f2"/>
<rect x="281.58" y="93.4" width="0.657" height="40.40" fill="#d7e9f2"/>
<rect x="282.18" y="93.4" width="0.657" height="40.40" fill="#6dadd1"/>
<rect x="282.79" y="93.4" width="0.657" height="40.40" fill="#71b0d3"/>
<rect x="283.40" y="93.4" width="0.657" height="40.40" fill="#6bacd1"/>
<rect x="284.01" y="93.4" width="0.657" height="40.40" fill="#dcebf4"/>
<rect x="284.61" y="93.4" width="0.657" height="40.40" fill="#d1e5f0"/>
<rect x="285.22" y="93.4" width="0.657" height="40.40" fill="#c5dfed"/>
<rect x="285.83" y="93.4" width="0.657" height="40.40" fill="#cae2ee"/>
<rect x="286.43" y="93.4" width="0.657" height="40.40" fill="#bbdaea"/>
<rect x="287.04" y="93.4" width="0.657" height="40.40" fill="#bedbea"/>
<rect x="287.65" y="93.4" width="0.657" height="40.40" fill="#d0e5f0"/>
<rect x="288.26" y="93.4" width="0.657" height="40.40" fill="#b0d4e7"/>
<rect x="288.86" y="93.4" width="0.657" height="40.40" fill="#b7d8e9"/>
<rect x="289.47" y="93.4" width="0.657" height="40.40" fill="#b8d8e9"/>
<rect x="290.08" y="93.4" width="0.657" height="40.40" fill="#b5d7e8"/>
<rect x="290.69" y="93.4" width="0.657" height="40.40" fill="#b6d7e8"/>
<rect x="291.29" y="93.4" width="0.657" height="40.40" fill="#c4deec"/>
<rect x="291.90" y="93.4" width="0.661" height="40.40" fill="#fffefe"/>
<rect x="292.51" y="93.4" width="0.661" height="40.40" fill="#f1f7fa"/>
<rect x="293.12" y="93.4" width="0.661" height="40.40" fill="#feede4"/>
<rect x="293.73" y="93.4" width="0.661" height="40.40" fill="#feebdf"/>
<rect x="294.34" y="93.4" width="0.661" height="40.40" fill="#feeee4"/>
<rect x="294.95" y="93.4" width="0.661" height="40.40" fill="#fef0e7"/>
<rect x="295.56" y="93.4" width="0.661" height="40.40" fill="#fef0e7"/>
<rect x="296.17" y="93.4" width="0.661" height="40.40" fill="#feede3"/>
<rect x="296.78" y="93.4" width="0.661" height="40.40" fill="#feeee5"/>
<rect x="297.40" y="93.4" width="0.661" height="40.40" fill="#fcfefe"/>
<rect x="298.01" y="93.4" width="0.661" height="40.40" fill="#fafcfd"/>
<rect x="298.62" y="93.4" width="0.661" height="40.40" fill="#f9fbfd"/>
<rect x="299.23" y="93.4" width="0.661" height="40.40" fill="#e1eef5"/>
<rect x="299.84" y="93.4" width="0.661" height="40.40" fill="#f0f7fa"/>
<rect x="300.45" y="93.4" width="0.661" height="40.40" fill="#f3f8fb"/>
<rect x="301.06" y="93.4" width="0.661" height="40.40" fill="#e7f2f7"/>
<rect x="301.67" y="93.4" width="0.661" height="40.40" fill="#e4f0f6"/>
<rect x="302.28" y="93.4" width="0.661" height="40.40" fill="#ebf4f8"/>
<rect x="302.89" y="93.4" width="0.661" height="40.40" fill="#f7fafc"/>
<rect x="303.50" y="93.4" width="0.661" height="40.40" fill="#fafcfd"/>
<rect x="304.11" y="93.4" width="0.661" height="40.40" fill="#fbfdfe"/>
<rect x="304.72" y="93.4" width="0.661" height="40.40" fill="#fbfdfe"/>
<rect x="305.33" y="93.4" width="0.661" height="40.40" fill="#fbfdfe"/>
<rect x="305.94" y="93.4" width="0.661" height="40.40" fill="#f1f7fa"/>
<rect x="306.55" y="93.4" width="0.661" height="40.40" fill="#f2f7fb"/>
<rect x="307.17" y="93.4" width="0.661" height="40.40" fill="#eef5f9"/>
<rect x="307.78" y="93.4" width="0.661" height="40.40" fill="#eaf3f8"/>
<rect x="308.39" y="93.4" width="0.661" height="40.40" fill="#fdfefe"/>
<rect x="309.00" y="93.4" width="0.661" height="40.40" fill="#fffcfa"/>
<rect x="309.61" y="93.4" width="0.661" height="40.40" fill="#fffbf8"/>
<rect x="310.22" y="93.4" width="0.661" height="40.40" fill="#fff9f6"/>
<rect x="310.83" y="93.4" width="0.661" height="40.40" fill="#feffff"/>
<rect x="311.44" y="93.4" width="0.661" height="40.40" fill="#fafcfd"/>
<rect x="312.05" y="93.4" width="0.661" height="40.40" fill="#fffbf9"/>
<rect x="312.66" y="93.4" width="0.661" height="40.40" fill="#fffcfb"/>
<rect x="313.27" y="93.4" width="0.661" height="40.40" fill="#eef5f9"/>
<rect x="313.88" y="93.4" width="0.661" height="40.40" fill="#f0f6fa"/>
<rect x="314.49" y="93.4" width="0.661" height="40.40" fill="#f9fcfd"/>
<rect x="315.10" y="93.4" width="0.661" height="40.40" fill="#feffff"/>
<rect x="315.71" y="93.4" width="0.661" height="40.40" fill="#ffffff"/>
<rect x="316.32" y="93.4" width="0.661" height="40.40" fill="#f3f8fb"/>
<rect x="316.94" y="93.4" width="0.661" height="40.40" fill="#f5f9fc"/>
<rect x="317.55" y="93.4" width="0.661" height="40.40" fill="#f5f9fc"/>
<rect x="318.16" y="93.4" width="0.661" height="40.40" fill="#f7fafc"/>
<rect x="318.77" y="93.4" width="0.661" height="40.40" fill="#f4f9fb"/>
<rect x="319.38" y="93.4" width="0.661" height="40.40" fill="#fff7f3"/>
<rect x="319.99" y="93.4" width="0.661" height="40.40" fill="#fef5f0"/>
<rect x="320.60" y="93.4" width="0.661" height="40.40" fill="#fff8f4"/>
<rect x="321.21" y="93.4" width="0.661" height="40.40" fill="#eaf3f8"/>
<rect x="321.82" y="93.4" width="0.661" height="40.40" fill="#eaf3f8"/>
<rect x="322.43" y="93.4" width="0.661" height="40.40" fill="#eaf3f8"/>
<rect x="323.04" y="93.4" width="0.661" height="40.40" fill="#eaf3f8"/>
<rect x="323.65" y="93.4" width="0.661" height="40.40" fill="#e9f3f8"/>
<rect x="324.26" y="93.4" width="0.661" height="40.40" fill="#eaf3f8"/>
<rect x="324.87" y="93.4" width="0.661" height="40.40" fill="#eff6fa"/>
<rect x="325.48" y="93.4" width="0.661" height="40.40" fill="#f9fcfd"/>
<rect x="326.09" y="93.4" width="0.661" height="40.40" fill="#fdfefe"/>
<rect x="326.71" y="93.4" width="0.661" height="40.40" fill="#f9fcfd"/>
<rect x="327.32" y="93.4" width="0.661" height="40.40" fill="#ffffff"/>
<rect x="327.93" y="93.4" width="0.661" height="40.40" fill="#f2f8fb"/>
<rect x="328.54" y="93.4" width="0.661" height="40.40" fill="#fef5f0"/>
<rect x="329.15" y="93.4" width="0.661" height="40.40" fill="#fef6f1"/>
<rect x="329.76" y="93.4" width="0.661" height="40.40" fill="#fff6f1"/>
<rect x="330.37" y="93.4" width="0.661" height="40.40" fill="#fff9f5"/>
<rect x="330.98" y="93.4" width="0.661" height="40.40" fill="#fff9f6"/>
<rect x="331.59" y="93.4" width="0.661" height="40.40" fill="#fffbf9"/>
<rect x="332.20" y="93.4" width="0.661" height="40.40" fill="#fff9f6"/>
<rect x="332.81" y="93.4" width="0.661" height="40.40" fill="#fdfefe"/>
<rect x="333.42" y="93.4" width="0.661" height="40.40" fill="#fffefe"/>
<rect x="334.03" y="93.4" width="0.661" height="40.40" fill="#fffbf8"/>
<rect x="334.64" y="93.4" width="0.661" height="40.40" fill="#fbfdfe"/>
<rect x="335.25" y="93.4" width="0.661" height="40.40" fill="#fcfdfe"/>
<rect x="335.86" y="93.4" width="0.661" height="40.40" fill="#fcfdfe"/>
<rect x="336.47" y="93.4" width="0.661" height="40.40" fill="#fffefe"/>
<rect x="337.09" y="93.4" width="0.661" height="40.40" fill="#feffff"/>
<rect x="337.70" y="93.4" width="0.661" height="40.40" fill="#f2f8fb"/>
<rect x="338.31" y="93.4" width="0.661" height="40.40" fill="#fffaf8"/>
<rect x="338.92" y="93.4" width="0.661" height="40.40" fill="#fffffe"/>
<rect x="339.53" y="93.4" width="0.661" height="40.40" fill="#f2f8fb"/>
<rect x="340.14" y="93.4" width="0.661" height="40.40" fill="#f2f8fb"/>
<rect x="340.75" y="93.4" width="0.661" height="40.40" fill="#f1f7fa"/>
<rect x="341.36" y="93.4" width="0.661" height="40.40" fill="#edf5f9"/>
<rect x="341.97" y="93.4" width="0.661" height="40.40" fill="#f9fcfd"/>
<rect x="342.58" y="93.4" width="0.661" height="40.40" fill="#f1f7fa"/>
<rect x="343.19" y="93.4" width="0.661" height="40.40" fill="#fffefd"/>
<rect x="343.80" y="93.4" width="0.661" height="40.40" fill="#fffbf9"/>
<rect x="344.41" y="93.4" width="0.661" height="40.40" fill="#fffbf9"/>
<rect x="345.02" y="93.4" width="0.661" height="40.40" fill="#fffaf7"/>
<rect x="345.63" y="93.4" width="0.661" height="40.40" fill="#fffaf7"/>
<rect x="346.24" y="93.4" width="0.661" height="40.40" fill="#fff9f6"/>
<rect x="346.86" y="93.4" width="0.661" height="40.40" fill="#fffcfa"/>
<rect x="347.47" y="93.4" width="0.661" height="40.40" fill="#fffcfa"/>
<rect x="348.08" y="93.4" width="0.661" height="40.40" fill="#fffcfa"/>
<rect x="348.69" y="93.4" width="0.661" height="40.40" fill="#fffbf8"/>
<rect x="349.30" y="93.4" width="0.661" height="40.40" fill="#ffffff"/>
<rect x="349.91" y="93.4" width="0.661" height="40.40" fill="#fdfefe"/>
<rect x="350.52" y="93.4" width="0.661" height="40.40" fill="#f7fafc"/>
<rect x="351.13" y="93.4" width="0.661" height="40.40" fill="#fffbf8"/>
<rect x="351.74" y="93.4" width="0.661" height="40.40" fill="#e2eff6"/>
<rect x="352.35" y="93.4" width="0.661" height="40.40" fill="#e2eff6"/>
<rect x="352.96" y="93.4" width="0.661" height="40.40" fill="#e2eff6"/>
<rect x="353.57" y="93.4" width="0.661" height="40.40" fill="#edf5f9"/>
<rect x="354.18" y="93.4" width="0.661" height="40.40" fill="#ecf4f9"/>
<rect x="354.79" y="93.4" width="0.661" height="40.40" fill="#ebf4f8"/>
<rect x="355.40" y="93.4" width="0.661" height="40.40" fill="#eaf3f8"/>
<rect x="356.01" y="93.4" width="0.661" height="40.40" fill="#e8f2f7"/>
<rect x="356.63" y="93.4" width="0.661" height="40.40" fill="#feffff"/>
<rect x="357.24" y="93.4" width="0.661" height="40.40" fill="#fcfdfe"/>
<rect x="357.85" y="93.4" width="0.661" height="40.40" fill="#feffff"/>
<rect x="358.46" y="93.4" width="0.661" height="40.40" fill="#fafcfd"/>
<rect x="359.07" y="93.4" width="0.661" height="40.40" fill="#fafcfd"/>
<rect x="359.68" y="93.4" width="0.661" height="40.40" fill="#f5f9fc"/>
<rect x="360.29" y="93.4" width="0.661" height="40.40" fill="#f2f8fb"/>
<rect x="360.90" y="93.4" width="0.661" height="40.40" fill="#eff6fa"/>
<rect x="361.51" y="93.4" width="0.661" height="40.40" fill="#f4f9fb"/>
<rect x="362.12" y="93.4" width="0.661" height="40.40" fill="#f4f9fc"/>
<rect x="362.73" y="93.4" width="0.661" height="40.40" fill="#ffffff"/>
<rect x="363.34" y="93.4" width="0.661" height="40.40" fill="#f2f8fb"/>
<rect x="363.95" y="93.4" width="0.661" height="40.40" fill="#fffefe"/>
<rect x="364.56" y="93.4" width="0.661" height="40.40" fill="#f5f9fc"/>
<rect x="365.17" y="93.4" width="0.661" height="40.40" fill="#f7fbfd"/>
<rect x="365.78" y="93.4" width="0.661" height="40.40" fill="#f0f7fa"/>
<rect x="366.39" y="93.4" width="0.661" height="40.40" fill="#f8fbfd"/>
<rect x="367.01" y="93.4" width="0.661" height="40.40" fill="#f4f9fc"/>
<rect x="367.62" y="93.4" width="0.661" height="40.40" fill="#f9fcfd"/>
<rect x="368.23" y="93.4" width="0.661" height="40.40" fill="#f7fbfd"/>
<rect x="368.84" y="93.4" width="0.661" height="40.40" fill="#fef6f1"/>
<rect x="369.45" y="93.4" width="0.661" height="40.40" fill="#fff9f5"/>
<rect x="370.06" y="93.4" width="0.661" height="40.40" fill="#fff9f6"/>
<rect x="370.67" y="93.4" width="0.661" height="40.40" fill="#f8fbfd"/>
<rect x="371.28" y="93.4" width="0.661" height="40.40" fill="#f8fbfd"/>
<rect x="371.89" y="93.4" width="0.661" height="40.40" fill="#fafcfd"/>
<rect x="372.50" y="93.4" width="0.661" height="40.40" fill="#f3f8fb"/>
<rect x="373.11" y="93.4" width="0.661" height="40.40" fill="#e8f2f7"/>
<rect x="373.72" y="93.4" width="0.661" height="40.40" fill="#f3f8fb"/>
<rect x="374.33" y="93.4" width="0.661" height="40.40" fill="#f0f6fa"/>
<rect x="374.94" y="93.4" width="0.661" height="40.40" fill="#fffefd"/>
<rect x="375.55" y="93.4" width="0.661" height="40.40" fill="#fbfdfe"/>
<rect x="376.16" y="93.4" width="0.661" height="40.40" fill="#ffffff"/>
<rect x="376.78" y="93.4" width="0.661" height="40.40" fill="#fffcfa"/>
<rect x="377.39" y="93.4" width="0.661" height="40.40" fill="#fffdfd"/>
<rect x="378.00" y="93.4" width="0.661" height="40.40" fill="#ffffff"/>
<rect x="378.61" y="93.4" width="0.661" height="40.40" fill="#f4f9fb"/>
<rect x="379.22" y="93.4" width="0.661" height="40.40" fill="#fcfdfe"/>
<rect x="379.83" y="93.4" width="0.661" height="40.40" fill="#fffffe"/>
<rect x="380.44" y="93.4" width="0.661" height="40.40" fill="#f8fbfd"/>
<rect x="381.05" y="93.4" width="0.661" height="40.40" fill="#fffefe"/>
<rect x="381.66" y="93.4" width="0.661" height="40.40" fill="#fff9f5"/>
<rect x="382.27" y="93.4" width="0.661" height="40.40" fill="#f2f7fb"/>
<rect x="382.88" y="93.4" width="0.661" height="40.40" fill="#f8fbfd"/>
<rect x="383.49" y="93.4" width="0.661" height="40.40" fill="#f7fafc"/>
<rect x="384.10" y="93.4" width="0.661" height="40.40" fill="#f3f8fb"/>
<rect x="384.71" y="93.4" width="0.661" height="40.40" fill="#f3f8fb"/>
<rect x="385.32" y="93.4" width="0.661" height="40.40" fill="#f8fbfd"/>
<rect x="385.93" y="93.4" width="0.661" height="40.40" fill="#eff6fa"/>
<rect x="386.55" y="93.4" width="0.661" height="40.40" fill="#f9fbfd"/>
<rect x="387.16" y="93.4" width="0.661" height="40.40" fill="#f7fafc"/>
<rect x="387.77" y="93.4" width="0.661" height="40.40" fill="#f4f9fb"/>
<rect x="388.38" y="93.4" width="0.661" height="40.40" fill="#f5fafc"/>
<rect x="388.99" y="93.4" width="0.661" height="40.40" fill="#e4f0f6"/>
<rect x="389.60" y="93.4" width="0.661" height="40.40" fill="#e4eff6"/>
<rect x="390.21" y="93.4" width="0.661" height="40.40" fill="#f9fcfd"/>
<rect x="390.82" y="93.4" width="0.661" height="40.40" fill="#f9fbfd"/>
<rect x="391.43" y="93.4" width="0.661" height="40.40" fill="#fafcfd"/>
<rect x="392.04" y="93.4" width="0.661" height="40.40" fill="#fff8f4"/>
<rect x="392.65" y="93.4" width="0.661" height="40.40" fill="#fff6f2"/>
<rect x="393.26" y="93.4" width="0.661" height="40.40" fill="#fff7f2"/>
<rect x="393.87" y="93.4" width="0.661" height="40.40" fill="#fff8f4"/>
<rect x="394.48" y="93.4" width="0.661" height="40.40" fill="#feffff"/>
<rect x="395.09" y="93.4" width="0.661" height="40.40" fill="#fffaf8"/>
<rect x="395.70" y="93.4" width="0.661" height="40.40" fill="#fff9f5"/>
<rect x="396.32" y="93.4" width="0.661" height="40.40" fill="#f8fbfd"/>
<rect x="396.93" y="93.4" width="0.661" height="40.40" fill="#f8fbfd"/>
<rect x="397.54" y="93.4" width="0.661" height="40.40" fill="#f0f7fa"/>
<rect x="398.15" y="93.4" width="0.661" height="40.40" fill="#f1f7fa"/>
<rect x="398.76" y="93.4" width="0.661" height="40.40" fill="#fbfdfe"/>
<rect x="399.37" y="93.4" width="0.661" height="40.40" fill="#f9fcfd"/>
<rect x="399.98" y="93.4" width="0.661" height="40.40" fill="#fdfefe"/>
<rect x="400.59" y="93.4" width="0.661" height="40.40" fill="#fafcfd"/>
<rect x="401.20" y="93.4" width="0.650" height="40.40" fill="#fdd9c4"/>
<rect x="401.80" y="93.4" width="0.650" height="40.40" fill="#fcd6c1"/>
<rect x="402.40" y="93.4" width="0.650" height="40.40" fill="#fddac6"/>
<rect x="403.00" y="93.4" width="0.650" height="40.40" fill="#f6b090"/>
<rect x="403.60" y="93.4" width="0.650" height="40.40" fill="#f6b394"/>
<rect x="404.20" y="93.4" width="0.650" height="40.40" fill="#f6b191"/>
<rect x="404.80" y="93.4" width="0.650" height="40.40" fill="#f5ae8d"/>
<rect x="405.40" y="93.4" width="0.650" height="40.40" fill="#f5ac8b"/>
<rect x="406.00" y="93.4" width="0.650" height="40.40" fill="#f5ac8a"/>
<rect x="406.60" y="93.4" width="0.650" height="40.40" fill="#f8bca0"/>
<rect x="407.20" y="93.4" width="0.650" height="40.40" fill="#fcd4be"/>
<rect x="407.80" y="93.4" width="0.650" height="40.40" fill="#fde0cf"/>
<rect x="408.40" y="93.4" width="0.650" height="40.40" fill="#fee5d6"/>
<rect x="409.00" y="93.4" width="0.650" height="40.40" fill="#fde4d5"/>
<rect x="409.60" y="93.4" width="0.650" height="40.40" fill="#fbd2bb"/>
<rect x="410.20" y="93.4" width="0.650" height="40.40" fill="#fcd4be"/>
<rect x="410.80" y="93.4" width="0.650" height="40.40" fill="#f9c3a9"/>
<rect x="411.40" y="93.4" width="0.650" height="40.40" fill="#fddbc7"/>
<rect x="412.00" y="93.4" width="0.650" height="40.40" fill="#fdd8c4"/>
<rect x="412.60" y="93.4" width="0.650" height="40.40" fill="#fde3d4"/>
<rect x="413.20" y="93.4" width="0.650" height="40.40" fill="#f7b89a"/>
<rect x="413.80" y="93.4" width="0.650" height="40.40" fill="#f7b99c"/>
<rect x="414.40" y="93.4" width="0.650" height="40.40" fill="#f8c0a4"/>
<rect x="415.00" y="93.4" width="0.650" height="40.40" fill="#facab1"/>
<rect x="415.60" y="93.4" width="0.650" height="40.40" fill="#fac9b0"/>
<rect x="416.20" y="93.4" width="0.650" height="40.40" fill="#fde2d2"/>
<rect x="416.80" y="93.4" width="0.650" height="40.40" fill="#fde0cf"/>
<rect x="417.40" y="93.4" width="0.650" height="40.40" fill="#f9c1a5"/>
<rect x="418.00" y="93.4" width="0.650" height="40.40" fill="#f9c5ab"/>
<rect x="418.60" y="93.4" width="0.650" height="40.40" fill="#f6b293"/>
<rect x="419.20" y="93.4" width="0.650" height="40.40" fill="#e58368"/>
<rect x="419.80" y="93.4" width="0.650" height="40.40" fill="#fbcfb7"/>
<rect x="420.40" y="93.4" width="0.650" height="40.40" fill="#fbcdb5"/>
<rect x="421.00" y="93.4" width="0.650" height="40.40" fill="#f9c3a9"/>
<rect x="421.60" y="93.4" width="0.650" height="40.40" fill="#f8c0a4"/>
<rect x="422.20" y="93.4" width="0.650" height="40.40" fill="#fbd1ba"/>
<rect x="422.80" y="93.4" width="0.650" height="40.40" fill="#fddecb"/>
<rect x="423.40" y="93.4" width="0.650" height="40.40" fill="#fcd3bd"/>
<rect x="424.00" y="93.4" width="0.650" height="40.40" fill="#fdd8c4"/>
<rect x="424.60" y="93.4" width="0.650" height="40.40" fill="#f9c5ab"/>
<rect x="425.20" y="93.4" width="0.650" height="40.40" fill="#fac8af"/>
<rect x="425.80" y="93.4" width="0.650" height="40.40" fill="#fde0cf"/>
<rect x="426.40" y="93.4" width="0.650" height="40.40" fill="#fac9af"/>
<rect x="427.00" y="93.4" width="0.650" height="40.40" fill="#e8896d"/>
<rect x="427.60" y="93.4" width="0.650" height="40.40" fill="#feeade"/>
<rect x="428.20" y="93.4" width="0.650" height="40.40" fill="#fddecc"/>
<rect x="428.80" y="93.4" width="0.650" height="40.40" fill="#fcd6c1"/>
<rect x="429.40" y="93.4" width="0.650" height="40.40" fill="#fcd6c0"/>
<rect x="430.00" y="93.4" width="0.650" height="40.40" fill="#fbd1bb"/>
<rect x="430.60" y="93.4" width="0.650" height="40.40" fill="#fcd3bc"/>
<rect x="431.20" y="93.4" width="0.650" height="40.40" fill="#fcd5c0"/>
<rect x="431.80" y="93.4" width="0.650" height="40.40" fill="#fbd2bb"/>
<rect x="432.40" y="93.4" width="0.650" height="40.40" fill="#fbd2bb"/>
<rect x="433.00" y="93.4" width="0.650" height="40.40" fill="#fbd0b9"/>
<rect x="433.60" y="93.4" width="0.650" height="40.40" fill="#f09c7b"/>
<rect x="434.20" y="93.4" width="0.650" height="40.40" fill="#ee9878"/>
<rect x="434.80" y="93.4" width="0.650" height="40.40" fill="#fcd5bf"/>
<rect x="435.40" y="93.4" width="0.650" height="40.40" fill="#fcd4bf"/>
<rect x="436.00" y="93.4" width="0.650" height="40.40" fill="#f8bfa3"/>
<rect x="436.60" y="93.4" width="0.650" height="40.40" fill="#fcd7c1"/>
<rect x="437.20" y="93.4" width="0.650" height="40.40" fill="#fcd7c1"/>
<rect x="437.80" y="93.4" width="0.650" height="40.40" fill="#faccb4"/>
<rect x="438.40" y="93.4" width="0.650" height="40.40" fill="#fbccb4"/>
<rect x="439.00" y="93.4" width="0.650" height="40.40" fill="#facab1"/>
<rect x="439.60" y="93.4" width="0.650" height="40.40" fill="#fddecc"/>
<rect x="440.20" y="93.4" width="0.650" height="40.40" fill="#fde3d4"/>
<rect x="440.80" y="93.4" width="0.650" height="40.40" fill="#f4a885"/>
<rect x="441.40" y="93.4" width="0.650" height="40.40" fill="#f5ac8b"/>
<rect x="442.00" y="93.4" width="0.650" height="40.40" fill="#fac7ae"/>
<rect x="442.60" y="93.4" width="0.650" height="40.40" fill="#f9c5ab"/>
<rect x="443.20" y="93.4" width="0.650" height="40.40" fill="#f9c1a6"/>
<rect x="443.80" y="93.4" width="0.650" height="40.40" fill="#f8bda0"/>
<rect x="444.40" y="93.4" width="0.650" height="40.40" fill="#f7b799"/>
<rect x="445.00" y="93.4" width="0.650" height="40.40" fill="#f6b495"/>
<rect x="445.60" y="93.4" width="0.650" height="40.40" fill="#f6af8f"/>
<rect x="446.20" y="93.4" width="0.650" height="40.40" fill="#f7b597"/>
<rect x="446.80" y="93.4" width="0.650" height="40.40" fill="#f6b292"/>
<rect x="447.40" y="93.4" width="0.650" height="40.40" fill="#fcd6c1"/>
<rect x="448.00" y="93.4" width="0.650" height="40.40" fill="#fcd4be"/>
<rect x="448.60" y="93.4" width="0.650" height="40.40" fill="#fcd6c1"/>
<rect x="449.20" y="93.4" width="0.650" height="40.40" fill="#f6b191"/>
<rect x="449.80" y="93.4" width="0.650" height="40.40" fill="#f6b495"/>
<rect x="450.40" y="93.4" width="0.650" height="40.40" fill="#fdd9c5"/>
<rect x="451.00" y="93.4" width="0.650" height="40.40" fill="#fddbc6"/>
<rect x="451.60" y="93.4" width="0.650" height="40.40" fill="#fcd5c0"/>
<rect x="452.20" y="93.4" width="0.650" height="40.40" fill="#fcd3bd"/>
<rect x="452.80" y="93.4" width="0.650" height="40.40" fill="#fddac6"/>
<rect x="453.40" y="93.4" width="0.650" height="40.40" fill="#fddcc9"/>
<rect x="454.00" y="93.4" width="0.650" height="40.40" fill="#f9c1a6"/>
<rect x="454.60" y="93.4" width="0.650" height="40.40" fill="#f8bfa3"/>
<rect x="455.20" y="93.4" width="0.650" height="40.40" fill="#fcd5bf"/>
<rect x="455.80" y="93.4" width="0.650" height="40.40" fill="#f5ae8d"/>
<rect x="456.40" y="93.4" width="0.650" height="40.40" fill="#f4a582"/>
<rect x="457.00" y="93.4" width="0.650" height="40.40" fill="#f5a886"/>
<rect x="457.60" y="93.4" width="0.650" height="40.40" fill="#eb9072"/>
<rect x="458.20" y="93.4" width="0.650" height="40.40" fill="#fde0cf"/>
<rect x="458.80" y="93.4" width="0.650" height="40.40" fill="#fddecc"/>
<rect x="459.40" y="93.4" width="0.650" height="40.40" fill="#f8bea2"/>
<rect x="460.00" y="93.4" width="0.650" height="40.40" fill="#facbb3"/>
<rect x="460.60" y="93.4" width="0.650" height="40.40" fill="#fcd5c0"/>
<rect x="461.20" y="93.4" width="0.650" height="40.40" fill="#fdd8c3"/>
<rect x="461.80" y="93.4" width="0.650" height="40.40" fill="#fbcdb6"/>
<rect x="462.40" y="93.4" width="0.650" height="40.40" fill="#fcd3bc"/>
</g>
<defs><linearGradient id="cb" x1="0" y1="1" x2="0" y2="0">
<stop offset="0.000" stop-color="#67001f"/>
<stop offset="0.100" stop-color="#b2182b"/>
<stop offset="0.200" stop-color="#d6604d"/>
<stop offset="0.300" stop-color="#f4a582"/>
<stop offset="0.400" stop-color="#fddbc7"/>
<stop offset="0.500" stop-color="#ffffff"/>
<stop offset="0.600" stop-color="#d1e5f0"/>
<stop offset="0.700" stop-color="#92c5de"/>
<stop offset="0.800" stop-color="#4393c3"/>
<stop offset="0.900" stop-color="#2166ac"/>
<stop offset="1.000" stop-color="#053061"/>
</linearGradient></defs>
<rect x="465.0" y="12.0" width="4.0" height="45.8" fill="url(#cb)"/>
<text transform="translate(472.40,18.30) scale(1,1.07)" font-size="7.8" text-anchor="start" fill="#3c3c3c" stroke="#3c3c3c" stroke-width="0" font-weight="normal" >0.4</text>
<text transform="translate(472.40,27.30) scale(1,1.07)" font-size="7.8" text-anchor="start" fill="#3c3c3c" stroke="#3c3c3c" stroke-width="0" font-weight="normal" >0.2</text>
<text transform="translate(472.40,36.30) scale(1,1.07)" font-size="7.8" text-anchor="start" fill="#3c3c3c" stroke="#3c3c3c" stroke-width="0" font-weight="normal" >0</text>
<text transform="translate(472.40,45.30) scale(1,1.07)" font-size="7.8" text-anchor="start" fill="#3c3c3c" stroke="#3c3c3c" stroke-width="0" font-weight="normal" >−0.2</text>
<text transform="translate(472.40,54.50) scale(1,1.07)" font-size="7.8" text-anchor="start" fill="#3c3c3c" stroke="#3c3c3c" stroke-width="0" font-weight="normal" >−0.4</text>
<text transform="translate(491.2,34.6) rotate(90) scale(1,1.07)" font-size="9.0" text-anchor="middle" fill="#231f20" stroke="#231f20" stroke-width="0">z-scored levels</text>
<text transform="translate(190.20,37.00) scale(1,1.07)" font-size="9.0" text-anchor="end" fill="#231f20" stroke="#231f20" stroke-width="0" font-weight="normal" >Baseline</text>
<text transform="translate(193.50,76.60) scale(1,1.07)" font-size="9.0" text-anchor="end" fill="#231f20" stroke="#231f20" stroke-width="0" font-weight="normal" letter-spacing="0.18">2<tspan font-size='6.6' dy='-3.6'>nd</tspan><tspan dy='3.6'> follow-up</tspan></text>
<text transform="translate(193.50,117.40) scale(1,1.07)" font-size="9.0" text-anchor="end" fill="#231f20" stroke="#231f20" stroke-width="0" font-weight="normal" letter-spacing="0.18">3<tspan font-size='6.6' dy='-3.6'>rd</tspan><tspan dy='3.6'> follow-up</tspan></text>
<text transform="translate(330.30,149.80) scale(1,1.07)" font-size="9.0" text-anchor="middle" fill="#231f20" stroke="#231f20" stroke-width="0" font-weight="normal" >438 serum proteins</text>
<rect x="540.2" y="12.4" width="113.0" height="118.69999999999999" fill="none" stroke="#aaaaaa" stroke-width="1"/>
<line x1="537.7" y1="18.70" x2="540.2" y2="18.70" stroke="#aaaaaa" stroke-width="0.8"/>
<text transform="translate(535.60,21.50) scale(1,1.07)" font-size="8.2" text-anchor="end" fill="#3c3c3c" stroke="#3c3c3c" stroke-width="0" font-weight="normal" >0.2</text>
<line x1="537.7" y1="45.50" x2="540.2" y2="45.50" stroke="#aaaaaa" stroke-width="0.8"/>
<text transform="translate(535.60,48.30) scale(1,1.07)" font-size="8.2" text-anchor="end" fill="#3c3c3c" stroke="#3c3c3c" stroke-width="0" font-weight="normal" >0.1</text>
<line x1="537.7" y1="72.30" x2="540.2" y2="72.30" stroke="#aaaaaa" stroke-width="0.8"/>
<text transform="translate(535.60,75.10) scale(1,1.07)" font-size="8.2" text-anchor="end" fill="#3c3c3c" stroke="#3c3c3c" stroke-width="0" font-weight="normal" >0</text>
<line x1="537.7" y1="99.10" x2="540.2" y2="99.10" stroke="#aaaaaa" stroke-width="0.8"/>
<text transform="translate(535.60,101.90) scale(1,1.07)" font-size="8.2" text-anchor="end" fill="#3c3c3c" stroke="#3c3c3c" stroke-width="0" font-weight="normal" >−0.1</text>
<line x1="537.7" y1="125.90" x2="540.2" y2="125.90" stroke="#aaaaaa" stroke-width="0.8"/>
<text transform="translate(535.60,128.70) scale(1,1.07)" font-size="8.2" text-anchor="end" fill="#3c3c3c" stroke="#3c3c3c" stroke-width="0" font-weight="normal" >−0.2</text>
<line x1="545.50" y1="131.1" x2="545.50" y2="133.6" stroke="#aaaaaa" stroke-width="0.8"/>
<text transform="translate(545.50,142.60) scale(1,1.07)" font-size="8.2" text-anchor="middle" fill="#3c3c3c" stroke="#3c3c3c" stroke-width="0" font-weight="normal" >−0.1</text>
<line x1="579.50" y1="131.1" x2="579.50" y2="133.6" stroke="#aaaaaa" stroke-width="0.8"/>
<text transform="translate(579.50,142.60) scale(1,1.07)" font-size="8.2" text-anchor="middle" fill="#3c3c3c" stroke="#3c3c3c" stroke-width="0" font-weight="normal" >0</text>
<line x1="613.50" y1="131.1" x2="613.50" y2="133.6" stroke="#aaaaaa" stroke-width="0.8"/>
<text transform="translate(613.50,142.60) scale(1,1.07)" font-size="8.2" text-anchor="middle" fill="#3c3c3c" stroke="#3c3c3c" stroke-width="0" font-weight="normal" >0.1</text>
<line x1="647.50" y1="131.1" x2="647.50" y2="133.6" stroke="#aaaaaa" stroke-width="0.8"/>
<text transform="translate(647.50,142.60) scale(1,1.07)" font-size="8.2" text-anchor="middle" fill="#3c3c3c" stroke="#3c3c3c" stroke-width="0" font-weight="normal" >0.2</text>
<text transform="translate(596.60,155.80) scale(1,1.07)" font-size="8.4" text-anchor="middle" fill="#231f20" stroke="#231f20" stroke-width="0" font-weight="normal" >PC1 (94.6%)</text>
<text transform="translate(516.3,71.9) rotate(-90) scale(1,1.07)" font-size="8.4" text-anchor="middle" fill="#231f20" stroke="#231f20" stroke-width="0">PC2 (5.4%)</text>
<polygon points="545.2,17.9 570.9,30.6 573.3,55.0 573.3,87.8 560.2,101.2 555.9,105.5 547.1,69.6" fill="none" stroke="#3a8cc0" stroke-width="0.9"/>
<circle cx="545.2" cy="17.9" r="1.5" fill="#3a8cc0"/>
<circle cx="570.9" cy="30.6" r="1.5" fill="#3a8cc0"/>
<circle cx="573.3" cy="55.0" r="1.5" fill="#3a8cc0"/>
<circle cx="573.3" cy="87.8" r="1.5" fill="#3a8cc0"/>
<circle cx="560.2" cy="101.2" r="1.5" fill="#3a8cc0"/>
<circle cx="555.9" cy="105.5" r="1.5" fill="#3a8cc0"/>
<circle cx="547.1" cy="69.6" r="1.5" fill="#3a8cc0"/>
<polygon points="573.7,39.0 580.3,42.2 586.8,49.7 586.8,82.0 584.9,92.4 583.5,97.3 575.0,116.4 572.8,87.0 573.3,55.0" fill="none" stroke="#8a5fba" stroke-width="0.9"/>
<circle cx="573.7" cy="39.0" r="1.5" fill="#8a5fba"/>
<circle cx="580.3" cy="42.2" r="1.5" fill="#8a5fba"/>
<circle cx="586.8" cy="49.7" r="1.5" fill="#8a5fba"/>
<circle cx="586.8" cy="82.0" r="1.5" fill="#8a5fba"/>
<circle cx="584.9" cy="92.4" r="1.5" fill="#8a5fba"/>
<circle cx="583.5" cy="97.3" r="1.5" fill="#8a5fba"/>
<circle cx="575.0" cy="116.4" r="1.5" fill="#8a5fba"/>
<circle cx="572.8" cy="87.0" r="1.5" fill="#8a5fba"/>
<circle cx="573.3" cy="55.0" r="1.5" fill="#8a5fba"/>
<polygon points="587.8,49.3 607.8,42.4 609.7,79.3 602.7,125.7 589.3,115.2 586.8,104.6 587.0,60.0" fill="none" stroke="#f7a125" stroke-width="0.9"/>
<circle cx="587.8" cy="49.3" r="1.5" fill="#f7a125"/>
<circle cx="607.8" cy="42.4" r="1.5" fill="#f7a125"/>
<circle cx="609.7" cy="79.3" r="1.5" fill="#f7a125"/>
<circle cx="602.7" cy="125.7" r="1.5" fill="#f7a125"/>
<circle cx="589.3" cy="115.2" r="1.5" fill="#f7a125"/>
<circle cx="586.8" cy="104.6" r="1.5" fill="#f7a125"/>
<circle cx="587.0" cy="60.0" r="1.5" fill="#f7a125"/>
<polygon points="610.2,45.6 631.2,35.7 648.0,60.9 641.7,75.5 611.2,93.9 609.5,70.0" fill="none" stroke="#d8443a" stroke-width="0.9"/>
<circle cx="610.2" cy="45.6" r="1.5" fill="#d8443a"/>
<circle cx="631.2" cy="35.7" r="1.5" fill="#d8443a"/>
<circle cx="648.0" cy="60.9" r="1.5" fill="#d8443a"/>
<circle cx="641.7" cy="75.5" r="1.5" fill="#d8443a"/>
<circle cx="611.2" cy="93.9" r="1.5" fill="#d8443a"/>
<circle cx="609.5" cy="70.0" r="1.5" fill="#d8443a"/>
<circle cx="560.3" cy="68.0" r="1.5" fill="#3a8cc0"/>
<circle cx="570.8" cy="58.8" r="1.5" fill="#3a8cc0"/>
<circle cx="564.6" cy="65.9" r="1.5" fill="#3a8cc0"/>
<circle cx="570.8" cy="88.4" r="1.5" fill="#3a8cc0"/>
<circle cx="568.8" cy="48.6" r="1.5" fill="#3a8cc0"/>
<circle cx="560.9" cy="58.2" r="1.5" fill="#3a8cc0"/>
<circle cx="567.4" cy="76.1" r="1.5" fill="#3a8cc0"/>
<circle cx="563.1" cy="89.1" r="1.5" fill="#3a8cc0"/>
<circle cx="557.8" cy="73.7" r="1.5" fill="#3a8cc0"/>
<circle cx="561.1" cy="74.0" r="1.5" fill="#3a8cc0"/>
<circle cx="568.5" cy="76.3" r="1.5" fill="#3a8cc0"/>
<circle cx="572.3" cy="62.9" r="1.5" fill="#3a8cc0"/>
<circle cx="554.8" cy="75.8" r="1.5" fill="#3a8cc0"/>
<circle cx="569.4" cy="64.7" r="1.5" fill="#3a8cc0"/>
<circle cx="551.6" cy="62.5" r="1.5" fill="#3a8cc0"/>
<circle cx="566.1" cy="73.9" r="1.5" fill="#3a8cc0"/>
<circle cx="568.1" cy="73.4" r="1.5" fill="#3a8cc0"/>
<circle cx="569.4" cy="59.6" r="1.5" fill="#3a8cc0"/>
<circle cx="572.3" cy="61.0" r="1.5" fill="#3a8cc0"/>
<circle cx="565.4" cy="86.0" r="1.5" fill="#3a8cc0"/>
<circle cx="565.7" cy="72.9" r="1.5" fill="#3a8cc0"/>
<circle cx="564.9" cy="56.6" r="1.5" fill="#3a8cc0"/>
<circle cx="571.6" cy="67.1" r="1.5" fill="#3a8cc0"/>
<circle cx="569.8" cy="31.4" r="1.5" fill="#3a8cc0"/>
<circle cx="560.2" cy="62.2" r="1.5" fill="#3a8cc0"/>
<circle cx="568.0" cy="74.7" r="1.5" fill="#3a8cc0"/>
<circle cx="568.4" cy="46.9" r="1.5" fill="#3a8cc0"/>
<circle cx="568.3" cy="71.2" r="1.5" fill="#3a8cc0"/>
<circle cx="566.3" cy="76.8" r="1.5" fill="#3a8cc0"/>
<circle cx="569.4" cy="50.8" r="1.5" fill="#3a8cc0"/>
<circle cx="556.8" cy="69.3" r="1.5" fill="#3a8cc0"/>
<circle cx="563.4" cy="71.7" r="1.5" fill="#3a8cc0"/>
<circle cx="571.6" cy="78.5" r="1.5" fill="#3a8cc0"/>
<circle cx="561.5" cy="79.4" r="1.5" fill="#3a8cc0"/>
<circle cx="564.2" cy="74.9" r="1.5" fill="#3a8cc0"/>
<circle cx="567.2" cy="83.0" r="1.5" fill="#3a8cc0"/>
<circle cx="566.3" cy="67.4" r="1.5" fill="#3a8cc0"/>
<circle cx="566.2" cy="80.4" r="1.5" fill="#3a8cc0"/>
<circle cx="563.8" cy="69.6" r="1.5" fill="#3a8cc0"/>
<circle cx="571.4" cy="75.2" r="1.5" fill="#3a8cc0"/>
<circle cx="550.8" cy="69.9" r="1.5" fill="#3a8cc0"/>
<circle cx="551.0" cy="68.9" r="1.5" fill="#3a8cc0"/>
<circle cx="563.2" cy="90.7" r="1.5" fill="#3a8cc0"/>
<circle cx="569.5" cy="71.3" r="1.5" fill="#3a8cc0"/>
<circle cx="566.2" cy="65.4" r="1.5" fill="#3a8cc0"/>
<circle cx="572.2" cy="53.2" r="1.5" fill="#3a8cc0"/>
<circle cx="573.2" cy="66.7" r="1.5" fill="#3a8cc0"/>
<circle cx="561.2" cy="69.5" r="1.5" fill="#3a8cc0"/>
<circle cx="571.3" cy="64.9" r="1.5" fill="#3a8cc0"/>
<circle cx="566.3" cy="85.5" r="1.5" fill="#3a8cc0"/>
<circle cx="567.0" cy="48.8" r="1.5" fill="#3a8cc0"/>
<circle cx="571.9" cy="80.8" r="1.5" fill="#3a8cc0"/>
<circle cx="560.8" cy="67.6" r="1.5" fill="#3a8cc0"/>
<circle cx="569.1" cy="60.2" r="1.5" fill="#3a8cc0"/>
<circle cx="568.6" cy="90.5" r="1.5" fill="#3a8cc0"/>
<circle cx="559.5" cy="63.1" r="1.5" fill="#3a8cc0"/>
<circle cx="571.5" cy="56.3" r="1.5" fill="#3a8cc0"/>
<circle cx="571.8" cy="74.7" r="1.5" fill="#3a8cc0"/>
<circle cx="567.7" cy="46.7" r="1.5" fill="#3a8cc0"/>
<circle cx="560.6" cy="85.0" r="1.5" fill="#3a8cc0"/>
<circle cx="567.4" cy="69.6" r="1.5" fill="#3a8cc0"/>
<circle cx="550.3" cy="79.3" r="1.5" fill="#3a8cc0"/>
<circle cx="561.6" cy="58.3" r="1.5" fill="#3a8cc0"/>
<circle cx="553.1" cy="49.0" r="1.5" fill="#3a8cc0"/>
<circle cx="572.7" cy="51.5" r="1.5" fill="#3a8cc0"/>
<circle cx="556.9" cy="50.3" r="1.5" fill="#3a8cc0"/>
<circle cx="570.4" cy="48.4" r="1.5" fill="#3a8cc0"/>
<circle cx="568.3" cy="75.2" r="1.5" fill="#3a8cc0"/>
<circle cx="572.3" cy="48.3" r="1.5" fill="#3a8cc0"/>
<circle cx="559.2" cy="67.2" r="1.5" fill="#3a8cc0"/>
<circle cx="560.1" cy="51.8" r="1.5" fill="#3a8cc0"/>
<circle cx="557.5" cy="47.8" r="1.5" fill="#3a8cc0"/>
<circle cx="557.8" cy="60.0" r="1.5" fill="#3a8cc0"/>
<circle cx="570.3" cy="69.1" r="1.5" fill="#3a8cc0"/>
<circle cx="568.6" cy="74.0" r="1.5" fill="#3a8cc0"/>
<circle cx="560.7" cy="57.0" r="1.5" fill="#3a8cc0"/>
<circle cx="561.2" cy="60.3" r="1.5" fill="#3a8cc0"/>
<circle cx="565.4" cy="76.3" r="1.5" fill="#3a8cc0"/>
<circle cx="570.5" cy="52.6" r="1.5" fill="#3a8cc0"/>
<circle cx="573.1" cy="78.3" r="1.5" fill="#3a8cc0"/>
<circle cx="567.2" cy="82.7" r="1.5" fill="#3a8cc0"/>
<circle cx="570.8" cy="69.4" r="1.5" fill="#3a8cc0"/>
<circle cx="568.0" cy="83.5" r="1.5" fill="#3a8cc0"/>
<circle cx="565.4" cy="60.1" r="1.5" fill="#3a8cc0"/>
<circle cx="563.1" cy="67.8" r="1.5" fill="#3a8cc0"/>
<circle cx="568.0" cy="67.8" r="1.5" fill="#3a8cc0"/>
<circle cx="569.2" cy="54.7" r="1.5" fill="#3a8cc0"/>
<circle cx="572.7" cy="76.5" r="1.5" fill="#3a8cc0"/>
<circle cx="572.2" cy="64.4" r="1.5" fill="#3a8cc0"/>
<circle cx="568.6" cy="73.1" r="1.5" fill="#3a8cc0"/>
<circle cx="570.4" cy="78.2" r="1.5" fill="#3a8cc0"/>
<circle cx="559.4" cy="64.9" r="1.5" fill="#3a8cc0"/>
<circle cx="568.0" cy="77.4" r="1.5" fill="#3a8cc0"/>
<circle cx="559.7" cy="49.5" r="1.5" fill="#3a8cc0"/>
<circle cx="573.3" cy="79.4" r="1.5" fill="#3a8cc0"/>
<circle cx="562.9" cy="45.6" r="1.5" fill="#3a8cc0"/>
<circle cx="571.7" cy="81.0" r="1.5" fill="#3a8cc0"/>
<circle cx="572.7" cy="52.0" r="1.5" fill="#3a8cc0"/>
<circle cx="567.2" cy="48.0" r="1.5" fill="#3a8cc0"/>
<circle cx="562.0" cy="62.2" r="1.5" fill="#3a8cc0"/>
<circle cx="582.8" cy="57.0" r="1.5" fill="#8a5fba"/>
<circle cx="577.9" cy="80.8" r="1.5" fill="#8a5fba"/>
<circle cx="580.3" cy="61.2" r="1.5" fill="#8a5fba"/>
<circle cx="575.4" cy="73.9" r="1.5" fill="#8a5fba"/>
<circle cx="576.6" cy="59.3" r="1.5" fill="#8a5fba"/>
<circle cx="574.1" cy="64.8" r="1.5" fill="#8a5fba"/>
<circle cx="584.5" cy="61.5" r="1.5" fill="#8a5fba"/>
<circle cx="581.7" cy="91.0" r="1.5" fill="#8a5fba"/>
<circle cx="578.8" cy="82.6" r="1.5" fill="#8a5fba"/>
<circle cx="577.9" cy="51.0" r="1.5" fill="#8a5fba"/>
<circle cx="575.2" cy="54.2" r="1.5" fill="#8a5fba"/>
<circle cx="581.8" cy="51.4" r="1.5" fill="#8a5fba"/>
<circle cx="584.2" cy="54.6" r="1.5" fill="#8a5fba"/>
<circle cx="577.1" cy="74.6" r="1.5" fill="#8a5fba"/>
<circle cx="579.1" cy="59.5" r="1.5" fill="#8a5fba"/>
<circle cx="579.0" cy="74.1" r="1.5" fill="#8a5fba"/>
<circle cx="584.6" cy="70.4" r="1.5" fill="#8a5fba"/>
<circle cx="577.0" cy="73.2" r="1.5" fill="#8a5fba"/>
<circle cx="584.9" cy="66.5" r="1.5" fill="#8a5fba"/>
<circle cx="585.5" cy="71.3" r="1.5" fill="#8a5fba"/>
<circle cx="583.6" cy="58.1" r="1.5" fill="#8a5fba"/>
<circle cx="577.7" cy="80.7" r="1.5" fill="#8a5fba"/>
<circle cx="584.9" cy="83.0" r="1.5" fill="#8a5fba"/>
<circle cx="576.4" cy="68.7" r="1.5" fill="#8a5fba"/>
<circle cx="577.7" cy="65.4" r="1.5" fill="#8a5fba"/>
<circle cx="573.7" cy="70.0" r="1.5" fill="#8a5fba"/>
<circle cx="583.3" cy="72.5" r="1.5" fill="#8a5fba"/>
<circle cx="577.6" cy="69.5" r="1.5" fill="#8a5fba"/>
<circle cx="577.8" cy="73.2" r="1.5" fill="#8a5fba"/>
<circle cx="585.3" cy="63.2" r="1.5" fill="#8a5fba"/>
<circle cx="582.9" cy="64.0" r="1.5" fill="#8a5fba"/>
<circle cx="580.8" cy="54.8" r="1.5" fill="#8a5fba"/>
<circle cx="582.4" cy="71.1" r="1.5" fill="#8a5fba"/>
<circle cx="584.5" cy="52.1" r="1.5" fill="#8a5fba"/>
<circle cx="579.9" cy="66.5" r="1.5" fill="#8a5fba"/>
<circle cx="582.2" cy="58.7" r="1.5" fill="#8a5fba"/>
<circle cx="580.6" cy="74.0" r="1.5" fill="#8a5fba"/>
<circle cx="583.3" cy="62.7" r="1.5" fill="#8a5fba"/>
<circle cx="580.2" cy="90.5" r="1.5" fill="#8a5fba"/>
<circle cx="585.2" cy="57.4" r="1.5" fill="#8a5fba"/>
<circle cx="579.3" cy="55.1" r="1.5" fill="#8a5fba"/>
<circle cx="583.8" cy="75.0" r="1.5" fill="#8a5fba"/>
<circle cx="585.0" cy="69.6" r="1.5" fill="#8a5fba"/>
<circle cx="575.0" cy="69.7" r="1.5" fill="#8a5fba"/>
<circle cx="574.7" cy="68.3" r="1.5" fill="#8a5fba"/>
<circle cx="576.9" cy="67.5" r="1.5" fill="#8a5fba"/>
<circle cx="575.1" cy="61.3" r="1.5" fill="#8a5fba"/>
<circle cx="586.7" cy="53.7" r="1.5" fill="#8a5fba"/>
<circle cx="586.7" cy="66.5" r="1.5" fill="#8a5fba"/>
<circle cx="573.9" cy="41.3" r="1.5" fill="#8a5fba"/>
<circle cx="576.6" cy="77.7" r="1.5" fill="#8a5fba"/>
<circle cx="576.3" cy="61.7" r="1.5" fill="#8a5fba"/>
<circle cx="583.9" cy="55.3" r="1.5" fill="#8a5fba"/>
<circle cx="577.8" cy="73.1" r="1.5" fill="#8a5fba"/>
<circle cx="576.8" cy="79.2" r="1.5" fill="#8a5fba"/>
<circle cx="586.6" cy="74.5" r="1.5" fill="#8a5fba"/>
<circle cx="578.5" cy="42.7" r="1.5" fill="#8a5fba"/>
<circle cx="577.6" cy="79.6" r="1.5" fill="#8a5fba"/>
<circle cx="582.7" cy="60.4" r="1.5" fill="#8a5fba"/>
<circle cx="573.7" cy="68.6" r="1.5" fill="#8a5fba"/>
<circle cx="583.5" cy="78.9" r="1.5" fill="#8a5fba"/>
<circle cx="584.8" cy="67.4" r="1.5" fill="#8a5fba"/>
<circle cx="578.7" cy="57.4" r="1.5" fill="#8a5fba"/>
<circle cx="585.3" cy="79.1" r="1.5" fill="#8a5fba"/>
<circle cx="576.2" cy="66.2" r="1.5" fill="#8a5fba"/>
<circle cx="582.1" cy="57.3" r="1.5" fill="#8a5fba"/>
<circle cx="576.7" cy="64.8" r="1.5" fill="#8a5fba"/>
<circle cx="578.8" cy="62.8" r="1.5" fill="#8a5fba"/>
<circle cx="580.9" cy="63.5" r="1.5" fill="#8a5fba"/>
<circle cx="586.5" cy="66.7" r="1.5" fill="#8a5fba"/>
<circle cx="579.2" cy="59.0" r="1.5" fill="#8a5fba"/>
<circle cx="574.9" cy="65.8" r="1.5" fill="#8a5fba"/>
<circle cx="575.9" cy="52.2" r="1.5" fill="#8a5fba"/>
<circle cx="581.0" cy="55.6" r="1.5" fill="#8a5fba"/>
<circle cx="578.7" cy="59.2" r="1.5" fill="#8a5fba"/>
<circle cx="577.7" cy="44.7" r="1.5" fill="#8a5fba"/>
<circle cx="578.0" cy="95.8" r="1.5" fill="#8a5fba"/>
<circle cx="580.4" cy="60.7" r="1.5" fill="#8a5fba"/>
<circle cx="579.0" cy="68.6" r="1.5" fill="#8a5fba"/>
<circle cx="576.3" cy="62.6" r="1.5" fill="#8a5fba"/>
<circle cx="578.3" cy="76.0" r="1.5" fill="#8a5fba"/>
<circle cx="586.3" cy="64.3" r="1.5" fill="#8a5fba"/>
<circle cx="582.5" cy="76.0" r="1.5" fill="#8a5fba"/>
<circle cx="578.9" cy="51.9" r="1.5" fill="#8a5fba"/>
<circle cx="574.5" cy="65.5" r="1.5" fill="#8a5fba"/>
<circle cx="582.7" cy="73.4" r="1.5" fill="#8a5fba"/>
<circle cx="584.6" cy="71.7" r="1.5" fill="#8a5fba"/>
<circle cx="579.5" cy="61.3" r="1.5" fill="#8a5fba"/>
<circle cx="577.4" cy="71.1" r="1.5" fill="#8a5fba"/>
<circle cx="576.2" cy="60.6" r="1.5" fill="#8a5fba"/>
<circle cx="582.2" cy="57.9" r="1.5" fill="#8a5fba"/>
<circle cx="580.1" cy="56.4" r="1.5" fill="#8a5fba"/>
<circle cx="578.9" cy="73.4" r="1.5" fill="#8a5fba"/>
<circle cx="579.9" cy="56.4" r="1.5" fill="#8a5fba"/>
<circle cx="583.8" cy="79.9" r="1.5" fill="#8a5fba"/>
<circle cx="576.8" cy="50.3" r="1.5" fill="#8a5fba"/>
<circle cx="580.4" cy="64.2" r="1.5" fill="#8a5fba"/>
<circle cx="582.6" cy="54.6" r="1.5" fill="#8a5fba"/>
<circle cx="578.4" cy="55.9" r="1.5" fill="#8a5fba"/>
<circle cx="577.7" cy="88.8" r="1.5" fill="#8a5fba"/>
<circle cx="584.3" cy="70.4" r="1.5" fill="#8a5fba"/>
<circle cx="578.8" cy="89.2" r="1.5" fill="#8a5fba"/>
<circle cx="575.6" cy="62.4" r="1.5" fill="#8a5fba"/>
<circle cx="585.0" cy="59.0" r="1.5" fill="#8a5fba"/>
<circle cx="577.1" cy="71.4" r="1.5" fill="#8a5fba"/>
<circle cx="579.2" cy="70.2" r="1.5" fill="#8a5fba"/>
<circle cx="575.1" cy="68.1" r="1.5" fill="#8a5fba"/>
<circle cx="577.7" cy="69.9" r="1.5" fill="#8a5fba"/>
<circle cx="584.9" cy="71.5" r="1.5" fill="#8a5fba"/>
<circle cx="578.7" cy="52.8" r="1.5" fill="#8a5fba"/>
<circle cx="586.3" cy="67.9" r="1.5" fill="#8a5fba"/>
<circle cx="575.5" cy="69.9" r="1.5" fill="#8a5fba"/>
<circle cx="586.3" cy="57.1" r="1.5" fill="#8a5fba"/>
<circle cx="576.1" cy="65.2" r="1.5" fill="#8a5fba"/>
<circle cx="586.0" cy="68.3" r="1.5" fill="#8a5fba"/>
<circle cx="584.3" cy="53.8" r="1.5" fill="#8a5fba"/>
<circle cx="577.1" cy="44.7" r="1.5" fill="#8a5fba"/>
<circle cx="575.0" cy="62.2" r="1.5" fill="#8a5fba"/>
<circle cx="582.0" cy="74.9" r="1.5" fill="#8a5fba"/>
<circle cx="585.0" cy="85.4" r="1.5" fill="#8a5fba"/>
<circle cx="582.3" cy="65.0" r="1.5" fill="#8a5fba"/>
<circle cx="580.3" cy="67.9" r="1.5" fill="#8a5fba"/>
<circle cx="578.4" cy="63.6" r="1.5" fill="#8a5fba"/>
<circle cx="586.1" cy="69.5" r="1.5" fill="#8a5fba"/>
<circle cx="580.7" cy="48.3" r="1.5" fill="#8a5fba"/>
<circle cx="585.8" cy="59.4" r="1.5" fill="#8a5fba"/>
<circle cx="581.0" cy="47.4" r="1.5" fill="#8a5fba"/>
<circle cx="578.6" cy="61.4" r="1.5" fill="#8a5fba"/>
<circle cx="585.8" cy="85.5" r="1.5" fill="#8a5fba"/>
<circle cx="580.7" cy="69.9" r="1.5" fill="#8a5fba"/>
<circle cx="582.0" cy="74.4" r="1.5" fill="#8a5fba"/>
<circle cx="579.1" cy="66.6" r="1.5" fill="#8a5fba"/>
<circle cx="584.5" cy="66.7" r="1.5" fill="#8a5fba"/>
<circle cx="584.1" cy="54.2" r="1.5" fill="#8a5fba"/>
<circle cx="582.8" cy="77.4" r="1.5" fill="#8a5fba"/>
<circle cx="578.5" cy="55.9" r="1.5" fill="#8a5fba"/>
<circle cx="577.4" cy="71.7" r="1.5" fill="#8a5fba"/>
<circle cx="574.1" cy="69.7" r="1.5" fill="#8a5fba"/>
<circle cx="575.3" cy="78.0" r="1.5" fill="#8a5fba"/>
<circle cx="586.7" cy="60.6" r="1.5" fill="#8a5fba"/>
<circle cx="584.8" cy="65.7" r="1.5" fill="#8a5fba"/>
<circle cx="585.3" cy="74.4" r="1.5" fill="#8a5fba"/>
<circle cx="579.0" cy="66.0" r="1.5" fill="#8a5fba"/>
<circle cx="582.6" cy="64.2" r="1.5" fill="#8a5fba"/>
<circle cx="583.1" cy="80.3" r="1.5" fill="#8a5fba"/>
<circle cx="583.8" cy="74.8" r="1.5" fill="#8a5fba"/>
<circle cx="577.4" cy="51.3" r="1.5" fill="#8a5fba"/>
<circle cx="583.9" cy="61.1" r="1.5" fill="#8a5fba"/>
<circle cx="573.8" cy="69.6" r="1.5" fill="#8a5fba"/>
<circle cx="582.0" cy="64.1" r="1.5" fill="#8a5fba"/>
<circle cx="580.2" cy="70.6" r="1.5" fill="#8a5fba"/>
<circle cx="579.2" cy="60.8" r="1.5" fill="#8a5fba"/>
<circle cx="580.9" cy="79.1" r="1.5" fill="#8a5fba"/>
<circle cx="580.8" cy="89.7" r="1.5" fill="#8a5fba"/>
<circle cx="577.6" cy="65.2" r="1.5" fill="#8a5fba"/>
<circle cx="585.4" cy="57.2" r="1.5" fill="#8a5fba"/>
<circle cx="574.3" cy="89.7" r="1.5" fill="#8a5fba"/>
<circle cx="577.9" cy="81.1" r="1.5" fill="#8a5fba"/>
<circle cx="583.2" cy="60.6" r="1.5" fill="#8a5fba"/>
<circle cx="576.3" cy="86.2" r="1.5" fill="#8a5fba"/>
<circle cx="574.4" cy="85.4" r="1.5" fill="#8a5fba"/>
<circle cx="575.9" cy="49.4" r="1.5" fill="#8a5fba"/>
<circle cx="582.8" cy="75.2" r="1.5" fill="#8a5fba"/>
<circle cx="586.0" cy="55.9" r="1.5" fill="#8a5fba"/>
<circle cx="577.8" cy="92.2" r="1.5" fill="#8a5fba"/>
<circle cx="585.6" cy="75.5" r="1.5" fill="#8a5fba"/>
<circle cx="582.5" cy="60.0" r="1.5" fill="#8a5fba"/>
<circle cx="576.5" cy="67.9" r="1.5" fill="#8a5fba"/>
<circle cx="574.4" cy="77.0" r="1.5" fill="#8a5fba"/>
<circle cx="585.8" cy="73.7" r="1.5" fill="#8a5fba"/>
<circle cx="586.3" cy="51.4" r="1.5" fill="#8a5fba"/>
<circle cx="579.9" cy="65.6" r="1.5" fill="#8a5fba"/>
<circle cx="584.1" cy="58.8" r="1.5" fill="#8a5fba"/>
<circle cx="582.8" cy="61.6" r="1.5" fill="#8a5fba"/>
<circle cx="580.0" cy="63.6" r="1.5" fill="#8a5fba"/>
<circle cx="579.6" cy="71.0" r="1.5" fill="#8a5fba"/>
<circle cx="579.1" cy="72.8" r="1.5" fill="#8a5fba"/>
<circle cx="575.9" cy="60.3" r="1.5" fill="#8a5fba"/>
<circle cx="582.9" cy="55.9" r="1.5" fill="#8a5fba"/>
<circle cx="588.4" cy="59.3" r="1.5" fill="#f7a125"/>
<circle cx="590.9" cy="83.4" r="1.5" fill="#f7a125"/>
<circle cx="591.6" cy="56.3" r="1.5" fill="#f7a125"/>
<circle cx="596.9" cy="70.9" r="1.5" fill="#f7a125"/>
<circle cx="595.4" cy="68.0" r="1.5" fill="#f7a125"/>
<circle cx="593.6" cy="59.3" r="1.5" fill="#f7a125"/>
<circle cx="590.0" cy="65.5" r="1.5" fill="#f7a125"/>
<circle cx="600.4" cy="45.2" r="1.5" fill="#f7a125"/>
<circle cx="589.1" cy="66.1" r="1.5" fill="#f7a125"/>
<circle cx="590.4" cy="75.4" r="1.5" fill="#f7a125"/>
<circle cx="591.6" cy="60.0" r="1.5" fill="#f7a125"/>
<circle cx="597.1" cy="78.8" r="1.5" fill="#f7a125"/>
<circle cx="605.2" cy="44.3" r="1.5" fill="#f7a125"/>
<circle cx="588.0" cy="68.4" r="1.5" fill="#f7a125"/>
<circle cx="592.6" cy="57.5" r="1.5" fill="#f7a125"/>
<circle cx="589.3" cy="68.4" r="1.5" fill="#f7a125"/>
<circle cx="592.3" cy="68.7" r="1.5" fill="#f7a125"/>
<circle cx="589.8" cy="61.0" r="1.5" fill="#f7a125"/>
<circle cx="606.8" cy="73.7" r="1.5" fill="#f7a125"/>
<circle cx="595.7" cy="61.7" r="1.5" fill="#f7a125"/>
<circle cx="588.5" cy="66.3" r="1.5" fill="#f7a125"/>
<circle cx="591.1" cy="67.0" r="1.5" fill="#f7a125"/>
<circle cx="595.6" cy="67.7" r="1.5" fill="#f7a125"/>
<circle cx="591.4" cy="82.1" r="1.5" fill="#f7a125"/>
<circle cx="594.2" cy="78.6" r="1.5" fill="#f7a125"/>
<circle cx="588.2" cy="68.8" r="1.5" fill="#f7a125"/>
<circle cx="592.7" cy="66.5" r="1.5" fill="#f7a125"/>
<circle cx="595.8" cy="79.2" r="1.5" fill="#f7a125"/>
<circle cx="594.8" cy="60.2" r="1.5" fill="#f7a125"/>
<circle cx="588.3" cy="67.4" r="1.5" fill="#f7a125"/>
<circle cx="593.5" cy="69.5" r="1.5" fill="#f7a125"/>
<circle cx="604.6" cy="72.0" r="1.5" fill="#f7a125"/>
<circle cx="588.7" cy="69.0" r="1.5" fill="#f7a125"/>
<circle cx="588.6" cy="70.2" r="1.5" fill="#f7a125"/>
<circle cx="590.5" cy="69.4" r="1.5" fill="#f7a125"/>
<circle cx="591.5" cy="63.2" r="1.5" fill="#f7a125"/>
<circle cx="591.5" cy="61.0" r="1.5" fill="#f7a125"/>
<circle cx="591.6" cy="51.7" r="1.5" fill="#f7a125"/>
<circle cx="594.9" cy="71.0" r="1.5" fill="#f7a125"/>
<circle cx="593.4" cy="73.1" r="1.5" fill="#f7a125"/>
<circle cx="588.3" cy="82.9" r="1.5" fill="#f7a125"/>
<circle cx="593.0" cy="68.3" r="1.5" fill="#f7a125"/>
<circle cx="587.5" cy="62.0" r="1.5" fill="#f7a125"/>
<circle cx="599.7" cy="69.2" r="1.5" fill="#f7a125"/>
<circle cx="591.6" cy="65.2" r="1.5" fill="#f7a125"/>
<circle cx="596.5" cy="67.8" r="1.5" fill="#f7a125"/>
<circle cx="587.6" cy="70.5" r="1.5" fill="#f7a125"/>
<circle cx="587.8" cy="76.4" r="1.5" fill="#f7a125"/>
<circle cx="592.4" cy="77.1" r="1.5" fill="#f7a125"/>
<circle cx="601.0" cy="53.1" r="1.5" fill="#f7a125"/>
<circle cx="595.2" cy="56.2" r="1.5" fill="#f7a125"/>
<circle cx="597.6" cy="79.7" r="1.5" fill="#f7a125"/>
<circle cx="596.7" cy="69.4" r="1.5" fill="#f7a125"/>
<circle cx="594.7" cy="58.3" r="1.5" fill="#f7a125"/>
<circle cx="599.7" cy="67.6" r="1.5" fill="#f7a125"/>
<circle cx="593.6" cy="59.7" r="1.5" fill="#f7a125"/>
<circle cx="599.8" cy="81.5" r="1.5" fill="#f7a125"/>
<circle cx="592.2" cy="60.4" r="1.5" fill="#f7a125"/>
<circle cx="594.8" cy="58.5" r="1.5" fill="#f7a125"/>
<circle cx="599.2" cy="66.2" r="1.5" fill="#f7a125"/>
<circle cx="591.3" cy="68.4" r="1.5" fill="#f7a125"/>
<circle cx="604.3" cy="74.0" r="1.5" fill="#f7a125"/>
<circle cx="587.8" cy="59.2" r="1.5" fill="#f7a125"/>
<circle cx="592.9" cy="61.6" r="1.5" fill="#f7a125"/>
<circle cx="590.7" cy="57.7" r="1.5" fill="#f7a125"/>
<circle cx="590.4" cy="68.5" r="1.5" fill="#f7a125"/>
<circle cx="589.1" cy="76.9" r="1.5" fill="#f7a125"/>
<circle cx="593.1" cy="80.4" r="1.5" fill="#f7a125"/>
<circle cx="589.1" cy="63.5" r="1.5" fill="#f7a125"/>
<circle cx="593.2" cy="84.1" r="1.5" fill="#f7a125"/>
<circle cx="602.1" cy="58.2" r="1.5" fill="#f7a125"/>
<circle cx="599.2" cy="73.9" r="1.5" fill="#f7a125"/>
<circle cx="598.6" cy="60.2" r="1.5" fill="#f7a125"/>
<circle cx="588.3" cy="69.8" r="1.5" fill="#f7a125"/>
<circle cx="607.8" cy="61.2" r="1.5" fill="#f7a125"/>
<circle cx="589.9" cy="77.1" r="1.5" fill="#f7a125"/>
<circle cx="594.0" cy="57.9" r="1.5" fill="#f7a125"/>
<circle cx="594.8" cy="67.7" r="1.5" fill="#f7a125"/>
<circle cx="591.3" cy="54.5" r="1.5" fill="#f7a125"/>
<circle cx="587.6" cy="66.0" r="1.5" fill="#f7a125"/>
<circle cx="591.7" cy="59.8" r="1.5" fill="#f7a125"/>
<circle cx="588.8" cy="73.4" r="1.5" fill="#f7a125"/>
<circle cx="590.9" cy="77.9" r="1.5" fill="#f7a125"/>
<circle cx="591.6" cy="65.6" r="1.5" fill="#f7a125"/>
<circle cx="599.9" cy="69.2" r="1.5" fill="#f7a125"/>
<circle cx="588.9" cy="55.8" r="1.5" fill="#f7a125"/>
<circle cx="591.4" cy="80.0" r="1.5" fill="#f7a125"/>
<circle cx="594.5" cy="86.0" r="1.5" fill="#f7a125"/>
<circle cx="593.3" cy="52.3" r="1.5" fill="#f7a125"/>
<circle cx="608.2" cy="81.7" r="1.5" fill="#f7a125"/>
<circle cx="593.7" cy="79.2" r="1.5" fill="#f7a125"/>
<circle cx="590.6" cy="52.6" r="1.5" fill="#f7a125"/>
<circle cx="589.3" cy="54.0" r="1.5" fill="#f7a125"/>
<circle cx="592.3" cy="53.5" r="1.5" fill="#f7a125"/>
<circle cx="597.3" cy="65.2" r="1.5" fill="#f7a125"/>
<circle cx="594.6" cy="62.8" r="1.5" fill="#f7a125"/>
<circle cx="593.2" cy="53.1" r="1.5" fill="#f7a125"/>
<circle cx="588.6" cy="63.5" r="1.5" fill="#f7a125"/>
<circle cx="590.6" cy="67.5" r="1.5" fill="#f7a125"/>
<circle cx="591.5" cy="60.0" r="1.5" fill="#f7a125"/>
<circle cx="599.2" cy="117.7" r="1.5" fill="#f7a125"/>
<circle cx="596.5" cy="94.0" r="1.5" fill="#f7a125"/>
<circle cx="599.9" cy="100.8" r="1.5" fill="#f7a125"/>
<circle cx="596.7" cy="92.4" r="1.5" fill="#f7a125"/>
<circle cx="601.7" cy="98.4" r="1.5" fill="#f7a125"/>
<circle cx="601.6" cy="119.3" r="1.5" fill="#f7a125"/>
<circle cx="607.7" cy="86.8" r="1.5" fill="#f7a125"/>
<circle cx="606.6" cy="89.7" r="1.5" fill="#f7a125"/>
<circle cx="593.1" cy="111.8" r="1.5" fill="#f7a125"/>
<circle cx="599.3" cy="102.3" r="1.5" fill="#f7a125"/>
<circle cx="600.5" cy="102.4" r="1.5" fill="#f7a125"/>
<circle cx="601.1" cy="111.0" r="1.5" fill="#f7a125"/>
<circle cx="588.1" cy="109.0" r="1.5" fill="#f7a125"/>
<circle cx="602.1" cy="117.2" r="1.5" fill="#f7a125"/>
<circle cx="598.7" cy="105.5" r="1.5" fill="#f7a125"/>
<circle cx="590.9" cy="93.0" r="1.5" fill="#f7a125"/>
<circle cx="605.9" cy="88.2" r="1.5" fill="#f7a125"/>
<circle cx="606.0" cy="90.5" r="1.5" fill="#f7a125"/>
<circle cx="595.7" cy="108.4" r="1.5" fill="#f7a125"/>
<circle cx="588.6" cy="102.1" r="1.5" fill="#f7a125"/>
<circle cx="604.0" cy="99.8" r="1.5" fill="#f7a125"/>
<circle cx="591.5" cy="88.1" r="1.5" fill="#f7a125"/>
<circle cx="607.0" cy="89.8" r="1.5" fill="#f7a125"/>
<circle cx="601.4" cy="109.0" r="1.5" fill="#f7a125"/>
<circle cx="620.8" cy="59.0" r="1.5" fill="#d8443a"/>
<circle cx="630.5" cy="60.8" r="1.5" fill="#d8443a"/>
<circle cx="619.6" cy="56.5" r="1.5" fill="#d8443a"/>
<circle cx="643.3" cy="67.6" r="1.5" fill="#d8443a"/>
<circle cx="626.9" cy="77.4" r="1.5" fill="#d8443a"/>
<circle cx="638.2" cy="76.7" r="1.5" fill="#d8443a"/>
<circle cx="632.9" cy="48.1" r="1.5" fill="#d8443a"/>
<circle cx="629.9" cy="77.1" r="1.5" fill="#d8443a"/>
<circle cx="626.2" cy="72.5" r="1.5" fill="#d8443a"/>
<circle cx="637.5" cy="59.6" r="1.5" fill="#d8443a"/>
<circle cx="624.4" cy="68.3" r="1.5" fill="#d8443a"/>
<circle cx="613.0" cy="64.4" r="1.5" fill="#d8443a"/>
<circle cx="618.8" cy="62.6" r="1.5" fill="#d8443a"/>
<circle cx="615.2" cy="77.7" r="1.5" fill="#d8443a"/>
<circle cx="644.1" cy="63.7" r="1.5" fill="#d8443a"/>
<circle cx="619.4" cy="64.5" r="1.5" fill="#d8443a"/>
<circle cx="628.6" cy="47.5" r="1.5" fill="#d8443a"/>
<circle cx="614.0" cy="49.3" r="1.5" fill="#d8443a"/>
<circle cx="633.6" cy="52.6" r="1.5" fill="#d8443a"/>
<circle cx="621.7" cy="65.0" r="1.5" fill="#d8443a"/>
<circle cx="644.6" cy="65.4" r="1.5" fill="#d8443a"/>
<circle cx="627.7" cy="69.4" r="1.5" fill="#d8443a"/>
<circle cx="617.1" cy="75.8" r="1.5" fill="#d8443a"/>
<circle cx="631.7" cy="47.3" r="1.5" fill="#d8443a"/>
<circle cx="632.5" cy="47.8" r="1.5" fill="#d8443a"/>
<circle cx="617.2" cy="68.6" r="1.5" fill="#d8443a"/>
<circle cx="630.7" cy="53.3" r="1.5" fill="#d8443a"/>
<circle cx="639.0" cy="69.6" r="1.5" fill="#d8443a"/>
<circle cx="626.9" cy="63.2" r="1.5" fill="#d8443a"/>
<circle cx="622.0" cy="70.9" r="1.5" fill="#d8443a"/>
<circle cx="642.9" cy="54.1" r="1.5" fill="#d8443a"/>
<circle cx="634.8" cy="73.9" r="1.5" fill="#d8443a"/>
<text transform="translate(655.80,19.80) scale(1,1.07)" font-size="9.2" text-anchor="start" fill="#231f20" stroke="#231f20" stroke-width="0" font-weight="normal" >Cluster</text>
<rect x="659.3" y="26.1" width="5.6" height="5.6" fill="none" stroke="#d8443a" stroke-width="0.6"/>
<circle cx="662.1" cy="28.9" r="1.2" fill="#d8443a"/>
<text transform="translate(669.60,31.90) scale(1,1.07)" font-size="8.6" text-anchor="start" fill="#231f20" stroke="#231f20" stroke-width="0" font-weight="normal" >1</text>
<rect x="659.3" y="36.7" width="5.6" height="5.6" fill="none" stroke="#f7a125" stroke-width="0.6"/>
<circle cx="662.1" cy="39.5" r="1.2" fill="#f7a125"/>
<text transform="translate(669.60,42.50) scale(1,1.07)" font-size="8.6" text-anchor="start" fill="#231f20" stroke="#231f20" stroke-width="0" font-weight="normal" >2</text>
<rect x="659.3" y="47.2" width="5.6" height="5.6" fill="none" stroke="#8a5fba" stroke-width="0.6"/>
<circle cx="662.1" cy="50.0" r="1.2" fill="#8a5fba"/>
<text transform="translate(669.60,53.00) scale(1,1.07)" font-size="8.6" text-anchor="start" fill="#231f20" stroke="#231f20" stroke-width="0" font-weight="normal" >3</text>
<rect x="659.3" y="57.6" width="5.6" height="5.6" fill="none" stroke="#3a8cc0" stroke-width="0.6"/>
<circle cx="662.1" cy="60.4" r="1.2" fill="#3a8cc0"/>
<text transform="translate(669.60,63.40) scale(1,1.07)" font-size="8.6" text-anchor="start" fill="#231f20" stroke="#231f20" stroke-width="0" font-weight="normal" >4</text>
<rect x="42.3" y="187.7" width="112.5" height="114.90000000000003" fill="none" stroke="#aaaaaa" stroke-width="1"/>
<line x1="39.8" y1="194.40" x2="42.3" y2="194.40" stroke="#aaaaaa" stroke-width="0.8"/>
<text transform="translate(37.10,197.20) scale(1,1.07)" font-size="8.0" text-anchor="end" fill="#3c3c3c" stroke="#3c3c3c" stroke-width="0" font-weight="normal" >0.50</text>
<line x1="39.8" y1="219.90" x2="42.3" y2="219.90" stroke="#aaaaaa" stroke-width="0.8"/>
<text transform="translate(37.10,222.70) scale(1,1.07)" font-size="8.0" text-anchor="end" fill="#3c3c3c" stroke="#3c3c3c" stroke-width="0" font-weight="normal" >0.25</text>
<line x1="39.8" y1="245.40" x2="42.3" y2="245.40" stroke="#aaaaaa" stroke-width="0.8"/>
<text transform="translate(37.10,248.20) scale(1,1.07)" font-size="8.0" text-anchor="end" fill="#3c3c3c" stroke="#3c3c3c" stroke-width="0" font-weight="normal" >0</text>
<line x1="39.8" y1="270.90" x2="42.3" y2="270.90" stroke="#aaaaaa" stroke-width="0.8"/>
<text transform="translate(37.10,273.70) scale(1,1.07)" font-size="8.0" text-anchor="end" fill="#3c3c3c" stroke="#3c3c3c" stroke-width="0" font-weight="normal" >−0.25</text>
<line x1="39.8" y1="296.40" x2="42.3" y2="296.40" stroke="#aaaaaa" stroke-width="0.8"/>
<text transform="translate(37.10,299.20) scale(1,1.07)" font-size="8.0" text-anchor="end" fill="#3c3c3c" stroke="#3c3c3c" stroke-width="0" font-weight="normal" >−0.50</text>
<line x1="47.30" y1="302.6" x2="47.30" y2="305.1" stroke="#aaaaaa" stroke-width="0.8"/>
<text transform="translate(47.30,314.50) scale(1,1.07)" font-size="8.0" text-anchor="middle" fill="#3c3c3c" stroke="#3c3c3c" stroke-width="0" font-weight="normal" >1</text>
<line x1="98.60" y1="302.6" x2="98.60" y2="305.1" stroke="#aaaaaa" stroke-width="0.8"/>
<text transform="translate(98.60,314.50) scale(1,1.07)" font-size="8.0" text-anchor="middle" fill="#3c3c3c" stroke="#3c3c3c" stroke-width="0" font-weight="normal" >2</text>
<line x1="149.80" y1="302.6" x2="149.80" y2="305.1" stroke="#aaaaaa" stroke-width="0.8"/>
<text transform="translate(149.80,314.50) scale(1,1.07)" font-size="8.0" text-anchor="middle" fill="#3c3c3c" stroke="#3c3c3c" stroke-width="0" font-weight="normal" >3</text>
<text transform="translate(99.80,328.50) scale(1,1.07)" font-size="9.1" text-anchor="middle" fill="#231f20" stroke="#231f20" stroke-width="0" font-weight="normal" >Cohort visits</text>
<text transform="translate(10.10,244.8) rotate(-90) scale(1,1.07)" font-size="9.05" text-anchor="middle" fill="#231f20" stroke="#231f20" stroke-width="0">Protein levels (<tspan font-style="italic">z</tspan>-scores)</text>
<text transform="translate(46.70,198.20) scale(1,1.07)" font-size="8.6" text-anchor="start" fill="#231f20" stroke="#231f20" stroke-width="0" font-weight="normal" >Cluster 1 (<tspan font-style="italic">n</tspan> = 32)</text>
<g fill="none" stroke="#cf3b2c" stroke-width="0.6" stroke-opacity="0.92">
<polyline points="47.30,288.47 98.60,242.03 149.80,199.01"/>
<polyline points="47.30,290.72 98.60,243.49 149.80,217.94"/>
<polyline points="47.30,291.90 98.60,239.00 149.80,221.02"/>
<polyline points="47.30,280.14 98.60,238.48 149.80,218.45"/>
<polyline points="47.30,287.38 98.60,245.19 149.80,206.38"/>
<polyline points="47.30,295.96 98.60,236.60 149.80,216.56"/>
<polyline points="47.30,291.91 98.60,236.43 149.80,200.33"/>
<polyline points="47.30,271.11 98.60,248.20 149.80,202.21"/>
<polyline points="47.30,267.35 98.60,245.24 149.80,198.99"/>
<polyline points="47.30,281.50 98.60,244.13 149.80,201.90"/>
<polyline points="47.30,279.14 98.60,245.02 149.80,211.85"/>
<polyline points="47.30,286.80 98.60,239.88 149.80,221.41"/>
<polyline points="47.30,271.32 98.60,242.57 149.80,203.86"/>
<polyline points="47.30,279.44 98.60,249.85 149.80,202.10"/>
<polyline points="47.30,292.27 98.60,240.77 149.80,219.60"/>
<polyline points="47.30,290.20 98.60,242.54 149.80,209.01"/>
<polyline points="47.30,288.65 98.60,243.82 149.80,212.89"/>
<polyline points="47.30,292.40 98.60,238.64 149.80,209.98"/>
<polyline points="47.30,289.20 98.60,240.17 149.80,213.79"/>
<polyline points="47.30,294.16 98.60,237.41 149.80,205.07"/>
<polyline points="47.30,267.22 98.60,248.94 149.80,196.45"/>
<polyline points="47.30,295.08 98.60,236.25 149.80,220.66"/>
<polyline points="47.30,271.73 98.60,242.77 149.80,220.11"/>
<polyline points="47.30,283.75 98.60,244.77 149.80,198.43"/>
<polyline points="47.30,269.28 98.60,244.73 149.80,198.88"/>
<polyline points="47.30,284.93 98.60,243.00 149.80,203.07"/>
<polyline points="47.30,292.21 98.60,236.15 149.80,202.88"/>
<polyline points="47.30,289.92 98.60,240.76 149.80,206.11"/>
<polyline points="47.30,278.63 98.60,244.98 149.80,202.73"/>
<polyline points="47.30,285.96 98.60,242.43 149.80,215.96"/>
<polyline points="47.30,291.37 98.60,240.27 149.80,218.10"/>
<polyline points="47.30,294.28 98.60,240.18 149.80,205.31"/>
</g>
<rect x="204.7" y="187.7" width="112.5" height="114.90000000000003" fill="none" stroke="#aaaaaa" stroke-width="1"/>
<line x1="202.2" y1="194.40" x2="204.7" y2="194.40" stroke="#aaaaaa" stroke-width="0.8"/>
<text transform="translate(199.50,197.20) scale(1,1.07)" font-size="8.0" text-anchor="end" fill="#3c3c3c" stroke="#3c3c3c" stroke-width="0" font-weight="normal" >0.50</text>
<line x1="202.2" y1="219.90" x2="204.7" y2="219.90" stroke="#aaaaaa" stroke-width="0.8"/>
<text transform="translate(199.50,222.70) scale(1,1.07)" font-size="8.0" text-anchor="end" fill="#3c3c3c" stroke="#3c3c3c" stroke-width="0" font-weight="normal" >0.25</text>
<line x1="202.2" y1="245.40" x2="204.7" y2="245.40" stroke="#aaaaaa" stroke-width="0.8"/>
<text transform="translate(199.50,248.20) scale(1,1.07)" font-size="8.0" text-anchor="end" fill="#3c3c3c" stroke="#3c3c3c" stroke-width="0" font-weight="normal" >0</text>
<line x1="202.2" y1="270.90" x2="204.7" y2="270.90" stroke="#aaaaaa" stroke-width="0.8"/>
<text transform="translate(199.50,273.70) scale(1,1.07)" font-size="8.0" text-anchor="end" fill="#3c3c3c" stroke="#3c3c3c" stroke-width="0" font-weight="normal" >−0.25</text>
<line x1="202.2" y1="296.40" x2="204.7" y2="296.40" stroke="#aaaaaa" stroke-width="0.8"/>
<text transform="translate(199.50,299.20) scale(1,1.07)" font-size="8.0" text-anchor="end" fill="#3c3c3c" stroke="#3c3c3c" stroke-width="0" font-weight="normal" >−0.50</text>
<line x1="209.70" y1="302.6" x2="209.70" y2="305.1" stroke="#aaaaaa" stroke-width="0.8"/>
<text transform="translate(209.70,314.50) scale(1,1.07)" font-size="8.0" text-anchor="middle" fill="#3c3c3c" stroke="#3c3c3c" stroke-width="0" font-weight="normal" >1</text>
<line x1="261.00" y1="302.6" x2="261.00" y2="305.1" stroke="#aaaaaa" stroke-width="0.8"/>
<text transform="translate(261.00,314.50) scale(1,1.07)" font-size="8.0" text-anchor="middle" fill="#3c3c3c" stroke="#3c3c3c" stroke-width="0" font-weight="normal" >2</text>
<line x1="312.20" y1="302.6" x2="312.20" y2="305.1" stroke="#aaaaaa" stroke-width="0.8"/>
<text transform="translate(312.20,314.50) scale(1,1.07)" font-size="8.0" text-anchor="middle" fill="#3c3c3c" stroke="#3c3c3c" stroke-width="0" font-weight="normal" >3</text>
<text transform="translate(262.20,328.50) scale(1,1.07)" font-size="9.1" text-anchor="middle" fill="#231f20" stroke="#231f20" stroke-width="0" font-weight="normal" >Cohort visits</text>
<text transform="translate(172.50,244.8) rotate(-90) scale(1,1.07)" font-size="9.05" text-anchor="middle" fill="#231f20" stroke="#231f20" stroke-width="0">Protein levels (<tspan font-style="italic">z</tspan>-scores)</text>
<text transform="translate(209.10,198.20) scale(1,1.07)" font-size="8.6" text-anchor="start" fill="#231f20" stroke="#231f20" stroke-width="0" font-weight="normal" >Cluster 2 (<tspan font-style="italic">n</tspan> = 124)</text>
<g fill="none" stroke="#ff8c00" stroke-width="0.6" stroke-opacity="0.92">
<polyline points="209.70,259.55 261.00,245.85 312.20,232.13"/>
<polyline points="209.70,263.90 261.00,243.20 312.20,233.71"/>
<polyline points="209.70,268.42 261.00,241.39 312.20,231.90"/>
<polyline points="209.70,269.32 261.00,241.92 312.20,234.10"/>
<polyline points="209.70,270.78 261.00,240.70 312.20,231.27"/>
<polyline points="209.70,260.36 261.00,247.16 312.20,229.63"/>
<polyline points="209.70,270.25 261.00,243.25 312.20,233.95"/>
<polyline points="209.70,265.63 261.00,243.54 312.20,241.80"/>
<polyline points="209.70,258.90 261.00,246.45 312.20,228.60"/>
<polyline points="209.70,266.74 261.00,242.10 312.20,233.74"/>
<polyline points="209.70,269.13 261.00,231.02 312.20,243.87"/>
<polyline points="209.70,267.02 261.00,243.54 312.20,232.93"/>
<polyline points="209.70,265.00 261.00,243.45 312.20,232.71"/>
<polyline points="209.70,268.62 261.00,240.49 312.20,238.96"/>
<polyline points="209.70,262.98 261.00,243.02 312.20,233.54"/>
<polyline points="209.70,261.89 261.00,232.00 312.20,243.87"/>
<polyline points="209.70,268.26 261.00,240.69 312.20,239.73"/>
<polyline points="209.70,259.77 261.00,245.25 312.20,231.93"/>
<polyline points="209.70,253.19 261.00,247.68 312.20,226.08"/>
<polyline points="209.70,263.86 261.00,242.99 312.20,237.08"/>
<polyline points="209.70,257.30 261.00,245.00 312.20,234.66"/>
<polyline points="209.70,261.91 261.00,246.06 312.20,234.45"/>
<polyline points="209.70,252.59 261.00,248.36 312.20,228.12"/>
<polyline points="209.70,254.33 261.00,249.25 312.20,229.87"/>
<polyline points="209.70,264.82 261.00,231.21 312.20,242.71"/>
<polyline points="209.70,268.71 261.00,241.49 312.20,243.87"/>
<polyline points="209.70,254.40 261.00,249.81 312.20,225.68"/>
<polyline points="209.70,256.29 261.00,247.70 312.20,222.77"/>
<polyline points="209.70,264.61 261.00,241.32 312.20,235.53"/>
<polyline points="209.70,254.89 261.00,233.12 312.20,241.84"/>
<polyline points="209.70,264.13 261.00,242.18 312.20,236.04"/>
<polyline points="209.70,253.49 261.00,252.40 312.20,220.92"/>
<polyline points="209.70,261.03 261.00,244.84 312.20,227.50"/>
<polyline points="209.70,259.95 261.00,244.79 312.20,228.45"/>
<polyline points="209.70,267.01 261.00,242.07 312.20,235.34"/>
<polyline points="209.70,267.25 261.00,240.09 312.20,232.70"/>
<polyline points="209.70,252.84 261.00,250.55 312.20,227.91"/>
<polyline points="209.70,266.53 261.00,242.04 312.20,241.47"/>
<polyline points="209.70,251.33 261.00,246.76 312.20,229.79"/>
<polyline points="209.70,253.77 261.00,248.09 312.20,228.74"/>
<polyline points="209.70,252.01 261.00,249.31 312.20,223.72"/>
<polyline points="209.70,265.93 261.00,242.47 312.20,234.60"/>
<polyline points="209.70,255.40 261.00,231.32 312.20,240.67"/>
<polyline points="209.70,262.19 261.00,242.14 312.20,238.63"/>
<polyline points="209.70,252.25 261.00,246.72 312.20,234.60"/>
<polyline points="209.70,257.00 261.00,247.13 312.20,237.45"/>
<polyline points="209.70,265.65 261.00,240.88 312.20,230.26"/>
<polyline points="209.70,269.75 261.00,241.60 312.20,240.08"/>
<polyline points="209.70,255.09 261.00,246.70 312.20,234.25"/>
<polyline points="209.70,260.72 261.00,246.21 312.20,233.56"/>
<polyline points="209.70,261.83 261.00,243.08 312.20,235.22"/>
<polyline points="209.70,252.28 261.00,232.23 312.20,243.87"/>
<polyline points="209.70,262.45 261.00,243.04 312.20,241.43"/>
<polyline points="209.70,261.77 261.00,245.91 312.20,228.58"/>
<polyline points="209.70,269.27 261.00,240.43 312.20,233.60"/>
<polyline points="209.70,264.78 261.00,241.89 312.20,235.57"/>
<polyline points="209.70,264.89 261.00,233.72 312.20,229.58"/>
<polyline points="209.70,268.28 261.00,239.81 312.20,234.76"/>
<polyline points="209.70,267.65 261.00,233.24 312.20,241.17"/>
<polyline points="209.70,259.36 261.00,244.00 312.20,237.76"/>
<polyline points="209.70,256.61 261.00,246.12 312.20,240.16"/>
<polyline points="209.70,269.80 261.00,241.59 312.20,239.01"/>
<polyline points="209.70,254.95 261.00,246.74 312.20,224.68"/>
<polyline points="209.70,262.30 261.00,244.05 312.20,229.49"/>
<polyline points="209.70,259.60 261.00,244.48 312.20,234.94"/>
<polyline points="209.70,268.92 261.00,241.27 312.20,237.66"/>
<polyline points="209.70,251.21 261.00,249.71 312.20,220.92"/>
<polyline points="209.70,264.67 261.00,241.68 312.20,232.13"/>
<polyline points="209.70,256.53 261.00,248.30 312.20,232.01"/>
<polyline points="209.70,266.14 261.00,230.56 312.20,240.21"/>
<polyline points="209.70,269.10 261.00,238.63 312.20,232.68"/>
<polyline points="209.70,261.77 261.00,232.06 312.20,241.62"/>
<polyline points="209.70,265.93 261.00,232.70 312.20,234.19"/>
<polyline points="209.70,255.57 261.00,247.47 312.20,232.67"/>
<polyline points="209.70,259.41 261.00,247.88 312.20,238.17"/>
<polyline points="209.70,258.67 261.00,245.70 312.20,237.20"/>
<polyline points="209.70,254.22 261.00,230.96 312.20,243.87"/>
<polyline points="209.70,263.96 261.00,244.32 312.20,231.37"/>
<polyline points="209.70,262.72 261.00,242.91 312.20,239.45"/>
<polyline points="209.70,254.93 261.00,249.42 312.20,226.84"/>
<polyline points="209.70,256.16 261.00,247.28 312.20,240.29"/>
<polyline points="209.70,259.57 261.00,245.05 312.20,229.26"/>
<polyline points="209.70,260.72 261.00,244.54 312.20,233.63"/>
<polyline points="209.70,255.80 261.00,250.02 312.20,226.17"/>
<polyline points="209.70,255.17 261.00,232.54 312.20,239.94"/>
<polyline points="209.70,254.52 261.00,248.15 312.20,235.83"/>
<polyline points="209.70,270.10 261.00,240.68 312.20,240.66"/>
<polyline points="209.70,258.42 261.00,248.41 312.20,224.34"/>
<polyline points="209.70,251.33 261.00,246.34 312.20,225.15"/>
<polyline points="209.70,261.77 261.00,242.78 312.20,236.39"/>
<polyline points="209.70,269.68 261.00,239.80 312.20,242.88"/>
<polyline points="209.70,268.58 261.00,243.88 312.20,228.19"/>
<polyline points="209.70,261.40 261.00,241.92 312.20,233.00"/>
<polyline points="209.70,255.99 261.00,250.92 312.20,227.68"/>
<polyline points="209.70,254.71 261.00,247.94 312.20,230.95"/>
<polyline points="209.70,264.89 261.00,244.02 312.20,243.87"/>
<polyline points="209.70,260.82 261.00,245.69 312.20,234.02"/>
<polyline points="209.70,268.52 261.00,241.07 312.20,237.26"/>
<polyline points="209.70,267.24 261.00,231.63 312.20,243.76"/>
<polyline points="209.70,256.22 261.00,245.49 312.20,236.53"/>
<polyline points="209.70,267.99 261.00,242.65 312.20,239.07"/>
<polyline points="209.70,268.05 261.00,241.11 312.20,229.99"/>
<polyline points="209.70,256.40 261.00,247.56 312.20,231.22"/>
<polyline points="209.70,260.45 261.00,244.06 312.20,227.64"/>
<polyline points="209.70,264.60 261.00,245.21 312.20,229.98"/>
<polyline points="209.70,261.87 261.00,244.10 312.20,226.36"/>
<polyline points="209.70,265.51 261.00,242.79 312.20,239.27"/>
<polyline points="209.70,265.28 261.00,245.12 312.20,234.33"/>
<polyline points="209.70,270.89 261.00,239.43 312.20,242.85"/>
<polyline points="209.70,265.98 261.00,244.29 312.20,230.47"/>
<polyline points="209.70,268.08 261.00,230.55 312.20,243.87"/>
<polyline points="209.70,268.67 261.00,242.22 312.20,229.90"/>
<polyline points="209.70,252.56 261.00,248.13 312.20,224.63"/>
<polyline points="209.70,261.36 261.00,244.91 312.20,237.55"/>
<polyline points="209.70,251.36 261.00,250.81 312.20,221.47"/>
<polyline points="209.70,252.79 261.00,248.60 312.20,238.61"/>
<polyline points="209.70,258.76 261.00,245.07 312.20,233.22"/>
<polyline points="209.70,269.38 261.00,242.43 312.20,238.00"/>
<polyline points="209.70,254.33 261.00,248.90 312.20,227.83"/>
<polyline points="209.70,259.11 261.00,246.02 312.20,230.70"/>
<polyline points="209.70,251.02 261.00,251.86 312.20,225.77"/>
<polyline points="209.70,269.45 261.00,241.26 312.20,237.49"/>
<polyline points="209.70,258.31 261.00,246.18 312.20,232.12"/>
<polyline points="209.70,270.48 261.00,239.36 312.20,233.43"/>
</g>
<rect x="367.3" y="187.7" width="112.5" height="114.90000000000003" fill="none" stroke="#aaaaaa" stroke-width="1"/>
<line x1="364.8" y1="194.40" x2="367.3" y2="194.40" stroke="#aaaaaa" stroke-width="0.8"/>
<text transform="translate(362.10,197.20) scale(1,1.07)" font-size="8.0" text-anchor="end" fill="#3c3c3c" stroke="#3c3c3c" stroke-width="0" font-weight="normal" >0.50</text>
<line x1="364.8" y1="219.90" x2="367.3" y2="219.90" stroke="#aaaaaa" stroke-width="0.8"/>
<text transform="translate(362.10,222.70) scale(1,1.07)" font-size="8.0" text-anchor="end" fill="#3c3c3c" stroke="#3c3c3c" stroke-width="0" font-weight="normal" >0.25</text>
<line x1="364.8" y1="245.40" x2="367.3" y2="245.40" stroke="#aaaaaa" stroke-width="0.8"/>
<text transform="translate(362.10,248.20) scale(1,1.07)" font-size="8.0" text-anchor="end" fill="#3c3c3c" stroke="#3c3c3c" stroke-width="0" font-weight="normal" >0</text>
<line x1="364.8" y1="270.90" x2="367.3" y2="270.90" stroke="#aaaaaa" stroke-width="0.8"/>
<text transform="translate(362.10,273.70) scale(1,1.07)" font-size="8.0" text-anchor="end" fill="#3c3c3c" stroke="#3c3c3c" stroke-width="0" font-weight="normal" >−0.25</text>
<line x1="364.8" y1="296.40" x2="367.3" y2="296.40" stroke="#aaaaaa" stroke-width="0.8"/>
<text transform="translate(362.10,299.20) scale(1,1.07)" font-size="8.0" text-anchor="end" fill="#3c3c3c" stroke="#3c3c3c" stroke-width="0" font-weight="normal" >−0.50</text>
<line x1="372.30" y1="302.6" x2="372.30" y2="305.1" stroke="#aaaaaa" stroke-width="0.8"/>
<text transform="translate(372.30,314.50) scale(1,1.07)" font-size="8.0" text-anchor="middle" fill="#3c3c3c" stroke="#3c3c3c" stroke-width="0" font-weight="normal" >1</text>
<line x1="423.60" y1="302.6" x2="423.60" y2="305.1" stroke="#aaaaaa" stroke-width="0.8"/>
<text transform="translate(423.60,314.50) scale(1,1.07)" font-size="8.0" text-anchor="middle" fill="#3c3c3c" stroke="#3c3c3c" stroke-width="0" font-weight="normal" >2</text>
<line x1="474.80" y1="302.6" x2="474.80" y2="305.1" stroke="#aaaaaa" stroke-width="0.8"/>
<text transform="translate(474.80,314.50) scale(1,1.07)" font-size="8.0" text-anchor="middle" fill="#3c3c3c" stroke="#3c3c3c" stroke-width="0" font-weight="normal" >3</text>
<text transform="translate(424.80,328.50) scale(1,1.07)" font-size="9.1" text-anchor="middle" fill="#231f20" stroke="#231f20" stroke-width="0" font-weight="normal" >Cohort visits</text>
<text transform="translate(335.10,244.8) rotate(-90) scale(1,1.07)" font-size="9.05" text-anchor="middle" fill="#231f20" stroke="#231f20" stroke-width="0">Protein levels (<tspan font-style="italic">z</tspan>-scores)</text>
<text transform="translate(371.70,198.20) scale(1,1.07)" font-size="8.6" text-anchor="start" fill="#231f20" stroke="#231f20" stroke-width="0" font-weight="normal" >Cluster 3 (<tspan font-style="italic">n</tspan> = 179)</text>
<g fill="none" stroke="#7c48b0" stroke-width="0.6" stroke-opacity="0.92">
<polyline points="372.30,243.60 423.60,234.18 474.80,253.56"/>
<polyline points="372.30,241.09 423.60,235.20 474.80,248.58"/>
<polyline points="372.30,253.84 423.60,251.20 474.80,237.38"/>
<polyline points="372.30,244.62 423.60,251.98 474.80,236.22"/>
<polyline points="372.30,251.53 423.60,253.39 474.80,236.22"/>
<polyline points="372.30,251.33 423.60,251.02 474.80,236.64"/>
<polyline points="372.30,242.13 423.60,250.47 474.80,242.50"/>
<polyline points="372.30,243.66 423.60,247.22 474.80,237.85"/>
<polyline points="372.30,240.23 423.60,248.75 474.80,241.54"/>
<polyline points="372.30,251.01 423.60,239.86 474.80,246.84"/>
<polyline points="372.30,248.04 423.60,246.26 474.80,241.76"/>
<polyline points="372.30,253.63 423.60,243.68 474.80,245.55"/>
<polyline points="372.30,241.80 423.60,247.43 474.80,240.08"/>
<polyline points="372.30,253.02 423.60,241.05 474.80,247.04"/>
<polyline points="372.30,252.08 423.60,239.79 474.80,248.28"/>
<polyline points="372.30,248.68 423.60,244.11 474.80,243.83"/>
<polyline points="372.30,252.75 423.60,243.97 474.80,253.56"/>
<polyline points="372.30,247.67 423.60,247.64 474.80,242.97"/>
<polyline points="372.30,249.16 423.60,245.73 474.80,244.96"/>
<polyline points="372.30,250.20 423.60,244.66 474.80,250.07"/>
<polyline points="372.30,253.57 423.60,238.71 474.80,246.92"/>
<polyline points="372.30,249.36 423.60,243.12 474.80,251.76"/>
<polyline points="372.30,245.33 423.60,249.36 474.80,239.88"/>
<polyline points="372.30,248.44 423.60,250.09 474.80,243.23"/>
<polyline points="372.30,252.99 423.60,240.57 474.80,243.64"/>
<polyline points="372.30,240.87 423.60,249.71 474.80,248.37"/>
<polyline points="372.30,253.05 423.60,241.73 474.80,250.69"/>
<polyline points="372.30,242.04 423.60,252.21 474.80,238.61"/>
<polyline points="372.30,246.89 423.60,245.73 474.80,242.15"/>
<polyline points="372.30,241.83 423.60,252.58 474.80,239.43"/>
<polyline points="372.30,249.16 423.60,244.03 474.80,244.98"/>
<polyline points="372.30,242.19 423.60,248.28 474.80,244.56"/>
<polyline points="372.30,250.33 423.60,245.82 474.80,240.66"/>
<polyline points="372.30,250.70 423.60,242.67 474.80,245.97"/>
<polyline points="372.30,253.30 423.60,240.43 474.80,248.42"/>
<polyline points="372.30,244.95 423.60,246.58 474.80,246.29"/>
<polyline points="372.30,250.24 423.60,244.20 474.80,247.57"/>
<polyline points="372.30,253.26 423.60,243.39 474.80,249.35"/>
<polyline points="372.30,249.38 423.60,244.81 474.80,246.38"/>
<polyline points="372.30,250.74 423.60,242.71 474.80,246.34"/>
<polyline points="372.30,253.55 423.60,240.98 474.80,250.26"/>
<polyline points="372.30,248.45 423.60,244.56 474.80,245.07"/>
<polyline points="372.30,243.35 423.60,244.15 474.80,249.13"/>
<polyline points="372.30,249.68 423.60,246.31 474.80,246.33"/>
<polyline points="372.30,253.40 423.60,243.73 474.80,245.59"/>
<polyline points="372.30,248.68 423.60,244.54 474.80,250.15"/>
<polyline points="372.30,250.23 423.60,241.68 474.80,251.62"/>
<polyline points="372.30,250.81 423.60,241.40 474.80,251.40"/>
<polyline points="372.30,245.66 423.60,251.39 474.80,240.23"/>
<polyline points="372.30,243.76 423.60,250.78 474.80,240.88"/>
<polyline points="372.30,243.16 423.60,247.99 474.80,247.69"/>
<polyline points="372.30,241.67 423.60,252.71 474.80,240.92"/>
<polyline points="372.30,249.89 423.60,244.19 474.80,245.43"/>
<polyline points="372.30,240.93 423.60,252.03 474.80,241.33"/>
<polyline points="372.30,251.49 423.60,246.05 474.80,243.15"/>
<polyline points="372.30,241.92 423.60,250.33 474.80,244.82"/>
<polyline points="372.30,248.26 423.60,243.44 474.80,248.77"/>
<polyline points="372.30,244.97 423.60,245.77 474.80,244.83"/>
<polyline points="372.30,247.09 423.60,241.92 474.80,253.20"/>
<polyline points="372.30,243.45 423.60,251.24 474.80,236.22"/>
<polyline points="372.30,241.04 423.60,249.23 474.80,241.67"/>
<polyline points="372.30,246.43 423.60,247.33 474.80,242.53"/>
<polyline points="372.30,242.97 423.60,248.93 474.80,239.63"/>
<polyline points="372.30,254.29 423.60,245.65 474.80,244.13"/>
<polyline points="372.30,254.52 423.60,236.92 474.80,248.88"/>
<polyline points="372.30,241.06 423.60,252.82 474.80,240.37"/>
<polyline points="372.30,250.17 423.60,244.10 474.80,251.26"/>
<polyline points="372.30,247.98 423.60,245.92 474.80,247.10"/>
<polyline points="372.30,248.83 423.60,241.65 474.80,253.56"/>
<polyline points="372.30,247.40 423.60,245.19 474.80,252.61"/>
<polyline points="372.30,246.87 423.60,245.87 474.80,244.71"/>
<polyline points="372.30,244.65 423.60,249.60 474.80,239.72"/>
<polyline points="372.30,253.96 423.60,239.24 474.80,251.94"/>
<polyline points="372.30,245.20 423.60,249.18 474.80,245.19"/>
<polyline points="372.30,251.49 423.60,244.45 474.80,248.00"/>
<polyline points="372.30,253.44 423.60,240.95 474.80,249.00"/>
<polyline points="372.30,241.30 423.60,249.58 474.80,236.30"/>
<polyline points="372.30,245.43 423.60,245.41 474.80,247.14"/>
<polyline points="372.30,250.81 423.60,240.87 474.80,247.69"/>
<polyline points="372.30,244.30 423.60,250.45 474.80,248.24"/>
<polyline points="372.30,253.12 423.60,243.41 474.80,251.59"/>
<polyline points="372.30,240.66 423.60,251.46 474.80,236.22"/>
<polyline points="372.30,254.20 423.60,242.15 474.80,250.27"/>
<polyline points="372.30,246.91 423.60,245.52 474.80,243.44"/>
<polyline points="372.30,249.42 423.60,246.45 474.80,244.66"/>
<polyline points="372.30,251.35 423.60,241.76 474.80,246.13"/>
<polyline points="372.30,239.92 423.60,251.36 474.80,242.87"/>
<polyline points="372.30,245.20 423.60,246.71 474.80,243.01"/>
<polyline points="372.30,239.85 423.60,252.58 474.80,239.26"/>
<polyline points="372.30,246.28 423.60,249.03 474.80,245.22"/>
<polyline points="372.30,240.57 423.60,253.45 474.80,240.01"/>
<polyline points="372.30,251.50 423.60,245.70 474.80,248.44"/>
<polyline points="372.30,247.13 423.60,247.46 474.80,243.09"/>
<polyline points="372.30,242.08 423.60,247.60 474.80,244.67"/>
<polyline points="372.30,244.07 423.60,249.25 474.80,241.54"/>
<polyline points="372.30,253.74 423.60,244.35 474.80,251.64"/>
<polyline points="372.30,244.37 423.60,250.35 474.80,247.62"/>
<polyline points="372.30,248.48 423.60,246.61 474.80,244.22"/>
<polyline points="372.30,242.29 423.60,251.05 474.80,245.17"/>
<polyline points="372.30,243.06 423.60,248.98 474.80,243.84"/>
<polyline points="372.30,251.33 423.60,246.06 474.80,244.71"/>
<polyline points="372.30,251.00 423.60,245.98 474.80,244.16"/>
<polyline points="372.30,250.23 423.60,244.13 474.80,248.18"/>
<polyline points="372.30,248.48 423.60,247.80 474.80,248.97"/>
<polyline points="372.30,247.02 423.60,247.88 474.80,248.12"/>
<polyline points="372.30,245.00 423.60,249.66 474.80,242.00"/>
<polyline points="372.30,252.69 423.60,239.14 474.80,253.56"/>
<polyline points="372.30,244.95 423.60,247.97 474.80,246.82"/>
<polyline points="372.30,251.97 423.60,244.63 474.80,247.52"/>
<polyline points="372.30,244.99 423.60,246.55 474.80,247.48"/>
<polyline points="372.30,249.05 423.60,245.91 474.80,251.89"/>
<polyline points="372.30,246.21 423.60,250.57 474.80,245.68"/>
<polyline points="372.30,240.97 423.60,245.90 474.80,243.51"/>
<polyline points="372.30,253.17 423.60,243.70 474.80,248.72"/>
<polyline points="372.30,240.10 423.60,251.82 474.80,240.16"/>
<polyline points="372.30,240.40 423.60,253.82 474.80,238.57"/>
<polyline points="372.30,248.27 423.60,245.43 474.80,245.45"/>
<polyline points="372.30,246.35 423.60,246.38 474.80,241.92"/>
<polyline points="372.30,239.85 423.60,250.34 474.80,242.54"/>
<polyline points="372.30,249.63 423.60,242.25 474.80,245.83"/>
<polyline points="372.30,251.93 423.60,239.24 474.80,246.29"/>
<polyline points="372.30,246.32 423.60,245.82 474.80,247.24"/>
<polyline points="372.30,251.97 423.60,245.15 474.80,248.62"/>
<polyline points="372.30,251.94 423.60,245.03 474.80,246.56"/>
<polyline points="372.30,247.19 423.60,247.08 474.80,241.81"/>
<polyline points="372.30,252.95 423.60,241.02 474.80,249.10"/>
<polyline points="372.30,242.25 423.60,250.15 474.80,237.83"/>
<polyline points="372.30,252.88 423.60,241.29 474.80,249.99"/>
<polyline points="372.30,242.67 423.60,254.20 474.80,240.49"/>
<polyline points="372.30,241.42 423.60,250.17 474.80,242.32"/>
<polyline points="372.30,250.89 423.60,239.32 474.80,249.40"/>
<polyline points="372.30,252.45 423.60,244.21 474.80,253.56"/>
<polyline points="372.30,244.20 423.60,245.66 474.80,246.14"/>
<polyline points="372.30,248.83 423.60,243.49 474.80,248.10"/>
<polyline points="372.30,246.38 423.60,249.06 474.80,241.33"/>
<polyline points="372.30,250.17 423.60,237.75 474.80,253.56"/>
<polyline points="372.30,244.25 423.60,253.57 474.80,239.54"/>
<polyline points="372.30,240.57 423.60,247.46 474.80,242.66"/>
<polyline points="372.30,252.98 423.60,240.28 474.80,249.02"/>
<polyline points="372.30,249.10 423.60,249.73 474.80,242.01"/>
<polyline points="372.30,252.37 423.60,243.53 474.80,250.60"/>
<polyline points="372.30,252.72 423.60,237.26 474.80,252.90"/>
<polyline points="372.30,249.46 423.60,242.86 474.80,250.69"/>
<polyline points="372.30,244.62 423.60,245.65 474.80,247.93"/>
<polyline points="372.30,249.24 423.60,242.41 474.80,247.50"/>
<polyline points="372.30,246.02 423.60,247.53 474.80,240.54"/>
<polyline points="372.30,254.34 423.60,240.53 474.80,246.60"/>
<polyline points="372.30,247.45 423.60,246.41 474.80,247.55"/>
<polyline points="372.30,250.43 423.60,243.80 474.80,249.98"/>
<polyline points="372.30,252.36 423.60,243.44 474.80,249.76"/>
<polyline points="372.30,245.87 423.60,241.95 474.80,250.54"/>
<polyline points="372.30,242.88 423.60,246.09 474.80,246.58"/>
<polyline points="372.30,249.26 423.60,243.59 474.80,248.31"/>
<polyline points="372.30,251.49 423.60,243.82 474.80,247.54"/>
<polyline points="372.30,245.66 423.60,248.78 474.80,244.10"/>
<polyline points="372.30,243.59 423.60,247.05 474.80,243.12"/>
<polyline points="372.30,250.52 423.60,242.49 474.80,249.19"/>
<polyline points="372.30,248.95 423.60,245.20 474.80,248.91"/>
<polyline points="372.30,242.34 423.60,249.48 474.80,242.16"/>
<polyline points="372.30,254.39 423.60,242.64 474.80,249.63"/>
<polyline points="372.30,246.66 423.60,250.75 474.80,240.84"/>
<polyline points="372.30,251.38 423.60,241.93 474.80,247.15"/>
<polyline points="372.30,242.26 423.60,249.78 474.80,244.10"/>
<polyline points="372.30,254.57 423.60,234.96 474.80,253.56"/>
<polyline points="372.30,250.50 423.60,244.18 474.80,247.38"/>
<polyline points="372.30,247.05 423.60,244.88 474.80,242.54"/>
<polyline points="372.30,252.28 423.60,243.81 474.80,248.56"/>
<polyline points="372.30,247.45 423.60,243.64 474.80,248.77"/>
<polyline points="372.30,240.17 423.60,252.10 474.80,243.01"/>
<polyline points="372.30,250.84 423.60,241.84 474.80,253.56"/>
<polyline points="372.30,252.45 423.60,241.37 474.80,251.83"/>
<polyline points="372.30,246.19 423.60,243.46 474.80,252.07"/>
<polyline points="372.30,252.00 423.60,241.36 474.80,247.57"/>
<polyline points="372.30,245.62 423.60,244.57 474.80,247.85"/>
<polyline points="372.30,243.30 423.60,248.31 474.80,247.01"/>
<polyline points="372.30,249.02 423.60,243.90 474.80,251.48"/>
<polyline points="372.30,241.50 423.60,248.48 474.80,243.82"/>
<polyline points="372.30,249.49 423.60,242.51 474.80,245.60"/>
<polyline points="372.30,249.92 423.60,245.00 474.80,243.20"/>
</g>
<rect x="531.6" y="187.7" width="112.5" height="114.90000000000003" fill="none" stroke="#aaaaaa" stroke-width="1"/>
<line x1="529.1" y1="194.40" x2="531.6" y2="194.40" stroke="#aaaaaa" stroke-width="0.8"/>
<text transform="translate(526.40,197.20) scale(1,1.07)" font-size="8.0" text-anchor="end" fill="#3c3c3c" stroke="#3c3c3c" stroke-width="0" font-weight="normal" >0.50</text>
<line x1="529.1" y1="219.90" x2="531.6" y2="219.90" stroke="#aaaaaa" stroke-width="0.8"/>
<text transform="translate(526.40,222.70) scale(1,1.07)" font-size="8.0" text-anchor="end" fill="#3c3c3c" stroke="#3c3c3c" stroke-width="0" font-weight="normal" >0.25</text>
<line x1="529.1" y1="245.40" x2="531.6" y2="245.40" stroke="#aaaaaa" stroke-width="0.8"/>
<text transform="translate(526.40,248.20) scale(1,1.07)" font-size="8.0" text-anchor="end" fill="#3c3c3c" stroke="#3c3c3c" stroke-width="0" font-weight="normal" >0</text>
<line x1="529.1" y1="270.90" x2="531.6" y2="270.90" stroke="#aaaaaa" stroke-width="0.8"/>
<text transform="translate(526.40,273.70) scale(1,1.07)" font-size="8.0" text-anchor="end" fill="#3c3c3c" stroke="#3c3c3c" stroke-width="0" font-weight="normal" >−0.25</text>
<line x1="529.1" y1="296.40" x2="531.6" y2="296.40" stroke="#aaaaaa" stroke-width="0.8"/>
<text transform="translate(526.40,299.20) scale(1,1.07)" font-size="8.0" text-anchor="end" fill="#3c3c3c" stroke="#3c3c3c" stroke-width="0" font-weight="normal" >−0.50</text>
<line x1="536.60" y1="302.6" x2="536.60" y2="305.1" stroke="#aaaaaa" stroke-width="0.8"/>
<text transform="translate(536.60,314.50) scale(1,1.07)" font-size="8.0" text-anchor="middle" fill="#3c3c3c" stroke="#3c3c3c" stroke-width="0" font-weight="normal" >1</text>
<line x1="587.90" y1="302.6" x2="587.90" y2="305.1" stroke="#aaaaaa" stroke-width="0.8"/>
<text transform="translate(587.90,314.50) scale(1,1.07)" font-size="8.0" text-anchor="middle" fill="#3c3c3c" stroke="#3c3c3c" stroke-width="0" font-weight="normal" >2</text>
<line x1="639.10" y1="302.6" x2="639.10" y2="305.1" stroke="#aaaaaa" stroke-width="0.8"/>
<text transform="translate(639.10,314.50) scale(1,1.07)" font-size="8.0" text-anchor="middle" fill="#3c3c3c" stroke="#3c3c3c" stroke-width="0" font-weight="normal" >3</text>
<text transform="translate(589.10,328.50) scale(1,1.07)" font-size="9.1" text-anchor="middle" fill="#231f20" stroke="#231f20" stroke-width="0" font-weight="normal" >Cohort visits</text>
<text transform="translate(499.40,244.8) rotate(-90) scale(1,1.07)" font-size="9.05" text-anchor="middle" fill="#231f20" stroke="#231f20" stroke-width="0">Protein levels (<tspan font-style="italic">z</tspan>-scores)</text>
<text transform="translate(536.00,198.20) scale(1,1.07)" font-size="8.6" text-anchor="start" fill="#231f20" stroke="#231f20" stroke-width="0" font-weight="normal" >Cluster 4 (<tspan font-style="italic">n</tspan> = 103)</text>
<g fill="none" stroke="#1672aa" stroke-width="0.6" stroke-opacity="0.92">
<polyline points="536.60,215.82 587.90,249.68 639.10,259.38"/>
<polyline points="536.60,233.55 587.90,260.70 639.10,253.53"/>
<polyline points="536.60,238.84 587.90,260.70 639.10,246.58"/>
<polyline points="536.60,226.26 587.90,247.11 639.10,254.90"/>
<polyline points="536.60,228.94 587.90,249.86 639.10,253.90"/>
<polyline points="536.60,232.50 587.90,248.10 639.10,256.80"/>
<polyline points="536.60,236.01 587.90,246.89 639.10,254.25"/>
<polyline points="536.60,230.75 587.90,252.47 639.10,254.54"/>
<polyline points="536.60,241.06 587.90,238.96 639.10,257.45"/>
<polyline points="536.60,234.67 587.90,249.49 639.10,250.27"/>
<polyline points="536.60,240.62 587.90,247.56 639.10,258.35"/>
<polyline points="536.60,229.88 587.90,250.16 639.10,255.60"/>
<polyline points="536.60,238.55 587.90,242.37 639.10,262.08"/>
<polyline points="536.60,238.51 587.90,243.33 639.10,255.35"/>
<polyline points="536.60,236.12 587.90,244.91 639.10,255.36"/>
<polyline points="536.60,243.36 587.90,241.71 639.10,261.29"/>
<polyline points="536.60,236.20 587.90,246.16 639.10,255.00"/>
<polyline points="536.60,231.79 587.90,251.22 639.10,255.83"/>
<polyline points="536.60,237.83 587.90,245.23 639.10,263.08"/>
<polyline points="536.60,235.31 587.90,244.65 639.10,259.47"/>
<polyline points="536.60,243.36 587.90,239.90 639.10,254.18"/>
<polyline points="536.60,233.45 587.90,243.78 639.10,252.77"/>
<polyline points="536.60,236.00 587.90,246.82 639.10,246.02"/>
<polyline points="536.60,232.25 587.90,249.37 639.10,248.79"/>
<polyline points="536.60,239.14 587.90,245.26 639.10,250.98"/>
<polyline points="536.60,230.89 587.90,250.37 639.10,249.52"/>
<polyline points="536.60,231.78 587.90,254.18 639.10,251.77"/>
<polyline points="536.60,231.17 587.90,248.40 639.10,258.82"/>
<polyline points="536.60,231.73 587.90,250.04 639.10,250.28"/>
<polyline points="536.60,233.95 587.90,244.48 639.10,259.96"/>
<polyline points="536.60,226.78 587.90,252.22 639.10,253.20"/>
<polyline points="536.60,237.81 587.90,245.30 639.10,255.85"/>
<polyline points="536.60,236.83 587.90,243.90 639.10,254.92"/>
<polyline points="536.60,236.22 587.90,246.12 639.10,255.05"/>
<polyline points="536.60,231.16 587.90,245.61 639.10,260.06"/>
<polyline points="536.60,232.10 587.90,246.60 639.10,261.18"/>
<polyline points="536.60,233.41 587.90,243.39 639.10,259.61"/>
<polyline points="536.60,240.80 587.90,248.73 639.10,254.29"/>
<polyline points="536.60,236.51 587.90,246.16 639.10,252.56"/>
<polyline points="536.60,240.90 587.90,243.46 639.10,250.39"/>
<polyline points="536.60,228.42 587.90,252.22 639.10,259.69"/>
<polyline points="536.60,233.95 587.90,246.44 639.10,254.94"/>
<polyline points="536.60,239.78 587.90,241.93 639.10,262.02"/>
<polyline points="536.60,240.45 587.90,245.72 639.10,256.47"/>
<polyline points="536.60,235.81 587.90,249.29 639.10,252.47"/>
<polyline points="536.60,229.39 587.90,254.28 639.10,249.01"/>
<polyline points="536.60,239.12 587.90,251.13 639.10,252.34"/>
<polyline points="536.60,240.68 587.90,244.15 639.10,259.94"/>
<polyline points="536.60,243.36 587.90,244.11 639.10,253.86"/>
<polyline points="536.60,231.88 587.90,252.07 639.10,249.49"/>
<polyline points="536.60,232.63 587.90,244.37 639.10,248.85"/>
<polyline points="536.60,227.54 587.90,247.81 639.10,251.91"/>
<polyline points="536.60,235.24 587.90,249.63 639.10,254.14"/>
<polyline points="536.60,230.88 587.90,246.80 639.10,258.19"/>
<polyline points="536.60,243.36 587.90,243.95 639.10,264.53"/>
<polyline points="536.60,234.36 587.90,250.81 639.10,257.46"/>
<polyline points="536.60,236.96 587.90,246.32 639.10,255.18"/>
<polyline points="536.60,231.55 587.90,248.00 639.10,249.29"/>
<polyline points="536.60,239.01 587.90,242.94 639.10,245.81"/>
<polyline points="536.60,233.50 587.90,249.18 639.10,253.69"/>
<polyline points="536.60,236.25 587.90,246.74 639.10,249.46"/>
<polyline points="536.60,226.47 587.90,252.85 639.10,255.07"/>
<polyline points="536.60,230.26 587.90,246.34 639.10,255.45"/>
<polyline points="536.60,231.12 587.90,249.55 639.10,248.07"/>
<polyline points="536.60,235.14 587.90,245.61 639.10,253.18"/>
<polyline points="536.60,239.79 587.90,243.02 639.10,256.59"/>
<polyline points="536.60,230.54 587.90,250.82 639.10,261.30"/>
<polyline points="536.60,238.22 587.90,243.41 639.10,257.12"/>
<polyline points="536.60,233.30 587.90,243.75 639.10,253.23"/>
<polyline points="536.60,231.34 587.90,248.04 639.10,258.61"/>
<polyline points="536.60,235.88 587.90,246.66 639.10,259.38"/>
<polyline points="536.60,234.71 587.90,247.87 639.10,258.36"/>
<polyline points="536.60,240.41 587.90,247.93 639.10,247.89"/>
<polyline points="536.60,238.67 587.90,246.12 639.10,265.84"/>
<polyline points="536.60,236.05 587.90,245.69 639.10,254.74"/>
<polyline points="536.60,239.28 587.90,247.14 639.10,246.62"/>
<polyline points="536.60,237.19 587.90,244.43 639.10,256.53"/>
<polyline points="536.60,235.40 587.90,242.55 639.10,255.89"/>
<polyline points="536.60,231.77 587.90,244.87 639.10,253.14"/>
<polyline points="536.60,235.12 587.90,249.31 639.10,250.38"/>
<polyline points="536.60,235.45 587.90,250.10 639.10,250.64"/>
<polyline points="536.60,226.75 587.90,248.90 639.10,252.66"/>
<polyline points="536.60,227.73 587.90,249.54 639.10,258.05"/>
<polyline points="536.60,234.34 587.90,245.19 639.10,257.53"/>
<polyline points="536.60,239.22 587.90,247.25 639.10,248.79"/>
<polyline points="536.60,231.80 587.90,250.69 639.10,247.48"/>
<polyline points="536.60,235.12 587.90,248.77 639.10,257.50"/>
<polyline points="536.60,232.30 587.90,245.50 639.10,253.05"/>
<polyline points="536.60,236.99 587.90,251.73 639.10,257.24"/>
<polyline points="536.60,233.21 587.90,250.37 639.10,258.55"/>
<polyline points="536.60,241.12 587.90,248.35 639.10,248.69"/>
<polyline points="536.60,243.36 587.90,244.53 639.10,254.92"/>
<polyline points="536.60,232.49 587.90,245.39 639.10,260.04"/>
<polyline points="536.60,235.53 587.90,241.45 639.10,262.01"/>
<polyline points="536.60,233.55 587.90,249.36 639.10,260.87"/>
<polyline points="536.60,239.59 587.90,246.41 639.10,252.19"/>
<polyline points="536.60,231.32 587.90,243.08 639.10,261.61"/>
<polyline points="536.60,237.41 587.90,243.81 639.10,259.68"/>
<polyline points="536.60,239.82 587.90,244.16 639.10,253.12"/>
<polyline points="536.60,238.45 587.90,240.01 639.10,261.98"/>
<polyline points="536.60,230.54 587.90,247.03 639.10,257.58"/>
<polyline points="536.60,235.05 587.90,243.16 639.10,262.83"/>
<polyline points="536.60,229.98 587.90,250.09 639.10,249.72"/>
</g>
<rect x="43.3" y="352.6" width="273.0" height="281.6" fill="none" stroke="#aaaaaa" stroke-width="1"/>
<line x1="56.20" y1="634.2" x2="56.20" y2="636.7" stroke="#aaaaaa" stroke-width="0.8"/>
<text transform="translate(56.20,646.80) scale(1,1.07)" font-size="8.0" text-anchor="middle" fill="#3c3c3c" stroke="#3c3c3c" stroke-width="0" font-weight="normal" >−0.30</text>
<line x1="97.30" y1="634.2" x2="97.30" y2="636.7" stroke="#aaaaaa" stroke-width="0.8"/>
<text transform="translate(97.30,646.80) scale(1,1.07)" font-size="8.0" text-anchor="middle" fill="#3c3c3c" stroke="#3c3c3c" stroke-width="0" font-weight="normal" >−0.20</text>
<line x1="138.40" y1="634.2" x2="138.40" y2="636.7" stroke="#aaaaaa" stroke-width="0.8"/>
<text transform="translate(138.40,646.80) scale(1,1.07)" font-size="8.0" text-anchor="middle" fill="#3c3c3c" stroke="#3c3c3c" stroke-width="0" font-weight="normal" >−0.10</text>
<line x1="179.50" y1="634.2" x2="179.50" y2="636.7" stroke="#aaaaaa" stroke-width="0.8"/>
<text transform="translate(179.50,646.80) scale(1,1.07)" font-size="8.0" text-anchor="middle" fill="#3c3c3c" stroke="#3c3c3c" stroke-width="0" font-weight="normal" >0</text>
<line x1="220.60" y1="634.2" x2="220.60" y2="636.7" stroke="#aaaaaa" stroke-width="0.8"/>
<text transform="translate(220.60,646.80) scale(1,1.07)" font-size="8.0" text-anchor="middle" fill="#3c3c3c" stroke="#3c3c3c" stroke-width="0" font-weight="normal" >0.10</text>
<line x1="261.70" y1="634.2" x2="261.70" y2="636.7" stroke="#aaaaaa" stroke-width="0.8"/>
<text transform="translate(261.70,646.80) scale(1,1.07)" font-size="8.0" text-anchor="middle" fill="#3c3c3c" stroke="#3c3c3c" stroke-width="0" font-weight="normal" >0.20</text>
<line x1="302.80" y1="634.2" x2="302.80" y2="636.7" stroke="#aaaaaa" stroke-width="0.8"/>
<text transform="translate(302.80,646.80) scale(1,1.07)" font-size="8.0" text-anchor="middle" fill="#3c3c3c" stroke="#3c3c3c" stroke-width="0" font-weight="normal" >0.30</text>
<line x1="40.8" y1="364.6" x2="43.3" y2="364.6" stroke="#aaaaaa" stroke-width="0.8"/>
<text transform="translate(12.4,367.40000000000003) scale(1,1.07)" font-size="7.9" fill="#3c3c3c" stroke="#3c3c3c" stroke-width="0">1<tspan font-size="6.2" dx="0.4">×</tspan><tspan dx="0.3">10</tspan><tspan font-size="5.4" dy="-3.4">−30</tspan></text>
<line x1="40.8" y1="450.1" x2="43.3" y2="450.1" stroke="#aaaaaa" stroke-width="0.8"/>
<text transform="translate(12.4,452.90000000000003) scale(1,1.07)" font-size="7.9" fill="#3c3c3c" stroke="#3c3c3c" stroke-width="0">1<tspan font-size="6.2" dx="0.4">×</tspan><tspan dx="0.3">10</tspan><tspan font-size="5.4" dy="-3.4">−20</tspan></text>
<line x1="40.8" y1="535.6" x2="43.3" y2="535.6" stroke="#aaaaaa" stroke-width="0.8"/>
<text transform="translate(12.4,538.4) scale(1,1.07)" font-size="7.9" fill="#3c3c3c" stroke="#3c3c3c" stroke-width="0">1<tspan font-size="6.2" dx="0.4">×</tspan><tspan dx="0.3">10</tspan><tspan font-size="5.4" dy="-3.4">−10</tspan></text>
<line x1="40.8" y1="612.4" x2="43.3" y2="612.4" stroke="#aaaaaa" stroke-width="0.8"/>
<text transform="translate(39.20,615.20) scale(1,1.07)" font-size="8.0" text-anchor="end" fill="#3c3c3c" stroke="#3c3c3c" stroke-width="0" font-weight="normal" >0.05</text>
<line x1="40.8" y1="623.2" x2="43.3" y2="623.2" stroke="#aaaaaa" stroke-width="0.8"/>
<text transform="translate(39.20,626.00) scale(1,1.07)" font-size="8.0" text-anchor="end" fill="#3c3c3c" stroke="#3c3c3c" stroke-width="0" font-weight="normal" >0</text>
<line x1="43.3" y1="612.5" x2="316.3" y2="612.5" stroke="#555" stroke-width="0.8" stroke-dasharray="4.2,2.9"/>
<text transform="translate(7.8,493.8) rotate(-90) scale(1,1.07)" font-size="8.8" text-anchor="middle" fill="#231f20" stroke="#231f20" stroke-width="0">Q value</text>
<text transform="translate(179.60,660.60) scale(1,1.07)" font-size="8.9" text-anchor="middle" fill="#231f20" stroke="#231f20" stroke-width="0" font-weight="normal" >Effect size (time)</text>
<circle cx="191.45" cy="613.30" r="2.6" fill="#737373" stroke="#000" stroke-width="0.8"/>
<circle cx="168.69" cy="617.30" r="2.6" fill="#c4c4c4" stroke="#000" stroke-width="0.8"/>
<circle cx="188.54" cy="616.90" r="2.6" fill="#7f7f7f" stroke="#000" stroke-width="0.8"/>
<circle cx="178.29" cy="618.93" r="2.6" fill="#c1c1c1" stroke="#000" stroke-width="0.8"/>
<circle cx="178.37" cy="619.55" r="2.6" fill="#c6c6c6" stroke="#000" stroke-width="0.8"/>
<circle cx="189.67" cy="615.68" r="2.6" fill="#c0c0c0" stroke="#000" stroke-width="0.8"/>
<circle cx="161.02" cy="614.44" r="2.6" fill="#aaaaaa" stroke="#000" stroke-width="0.8"/>
<circle cx="178.61" cy="619.69" r="2.6" fill="#959595" stroke="#000" stroke-width="0.8"/>
<circle cx="205.35" cy="610.75" r="2.6" fill="#c4c4c4" stroke="#000" stroke-width="0.8"/>
<circle cx="178.98" cy="619.62" r="2.6" fill="#aeaeae" stroke="#000" stroke-width="0.8"/>
<circle cx="157.01" cy="611.91" r="2.6" fill="#c8c8c8" stroke="#000" stroke-width="0.8"/>
<circle cx="203.42" cy="611.18" r="2.6" fill="#9e9e9e" stroke="#000" stroke-width="0.8"/>
<circle cx="164.57" cy="615.49" r="2.6" fill="#7a7a7a" stroke="#000" stroke-width="0.8"/>
<circle cx="165.00" cy="615.00" r="2.6" fill="#727272" stroke="#000" stroke-width="0.8"/>
<circle cx="194.53" cy="613.24" r="2.6" fill="#787878" stroke="#000" stroke-width="0.8"/>
<circle cx="188.10" cy="616.81" r="2.6" fill="#747474" stroke="#000" stroke-width="0.8"/>
<circle cx="179.08" cy="620.17" r="2.6" fill="#6c6c6c" stroke="#000" stroke-width="0.8"/>
<circle cx="187.43" cy="617.29" r="2.6" fill="#8b8b8b" stroke="#000" stroke-width="0.8"/>
<circle cx="206.68" cy="610.90" r="2.6" fill="#c2c2c2" stroke="#000" stroke-width="0.8"/>
<circle cx="201.21" cy="612.08" r="2.6" fill="#adadad" stroke="#000" stroke-width="0.8"/>
<circle cx="197.78" cy="612.38" r="2.6" fill="#b2b2b2" stroke="#000" stroke-width="0.8"/>
<circle cx="178.43" cy="618.94" r="2.6" fill="#818181" stroke="#000" stroke-width="0.8"/>
<circle cx="175.67" cy="619.31" r="2.6" fill="#bbbbbb" stroke="#000" stroke-width="0.8"/>
<circle cx="160.97" cy="614.65" r="2.6" fill="#c5c5c5" stroke="#000" stroke-width="0.8"/>
<circle cx="175.33" cy="619.45" r="2.6" fill="#939393" stroke="#000" stroke-width="0.8"/>
<circle cx="206.47" cy="611.02" r="2.6" fill="#b6b6b6" stroke="#000" stroke-width="0.8"/>
<circle cx="194.35" cy="612.95" r="2.6" fill="#c0c0c0" stroke="#000" stroke-width="0.8"/>
<circle cx="165.37" cy="615.75" r="2.6" fill="#c4c4c4" stroke="#000" stroke-width="0.8"/>
<circle cx="179.08" cy="619.82" r="2.6" fill="#989898" stroke="#000" stroke-width="0.8"/>
<circle cx="162.10" cy="614.70" r="2.6" fill="#8b8b8b" stroke="#000" stroke-width="0.8"/>
<circle cx="182.05" cy="618.20" r="2.6" fill="#696969" stroke="#000" stroke-width="0.8"/>
<circle cx="176.58" cy="619.21" r="2.6" fill="#c1c1c1" stroke="#000" stroke-width="0.8"/>
<circle cx="161.45" cy="614.47" r="2.6" fill="#afafaf" stroke="#000" stroke-width="0.8"/>
<circle cx="162.98" cy="615.45" r="2.6" fill="#bdbdbd" stroke="#000" stroke-width="0.8"/>
<circle cx="201.04" cy="612.34" r="2.6" fill="#7f7f7f" stroke="#000" stroke-width="0.8"/>
<circle cx="192.58" cy="615.20" r="2.6" fill="#787878" stroke="#000" stroke-width="0.8"/>
<circle cx="190.74" cy="614.31" r="2.6" fill="#9e9e9e" stroke="#000" stroke-width="0.8"/>
<circle cx="171.87" cy="617.67" r="2.6" fill="#c7c7c7" stroke="#000" stroke-width="0.8"/>
<circle cx="165.23" cy="615.20" r="2.6" fill="#c6c6c6" stroke="#000" stroke-width="0.8"/>
<circle cx="176.31" cy="618.81" r="2.6" fill="#747474" stroke="#000" stroke-width="0.8"/>
<circle cx="184.52" cy="614.44" r="2.6" fill="#9b9b9b" stroke="#000" stroke-width="0.8"/>
<circle cx="191.84" cy="615.30" r="2.6" fill="#818181" stroke="#000" stroke-width="0.8"/>
<circle cx="201.05" cy="611.99" r="2.6" fill="#b8b8b8" stroke="#000" stroke-width="0.8"/>
<circle cx="168.27" cy="617.05" r="2.6" fill="#a6a6a6" stroke="#000" stroke-width="0.8"/>
<circle cx="167.09" cy="616.34" r="2.6" fill="#b2b2b2" stroke="#000" stroke-width="0.8"/>
<circle cx="186.53" cy="615.95" r="2.6" fill="#767676" stroke="#000" stroke-width="0.8"/>
<circle cx="202.83" cy="611.81" r="2.6" fill="#bababa" stroke="#000" stroke-width="0.8"/>
<circle cx="156.36" cy="611.75" r="2.6" fill="#bcbcbc" stroke="#000" stroke-width="0.8"/>
<circle cx="205.65" cy="611.34" r="2.6" fill="#949494" stroke="#000" stroke-width="0.8"/>
<circle cx="180.33" cy="619.20" r="2.6" fill="#939393" stroke="#000" stroke-width="0.8"/>
<circle cx="171.35" cy="618.47" r="2.6" fill="#a2a2a2" stroke="#000" stroke-width="0.8"/>
<circle cx="158.11" cy="612.92" r="2.6" fill="#797979" stroke="#000" stroke-width="0.8"/>
<circle cx="196.88" cy="613.64" r="2.6" fill="#c7c7c7" stroke="#000" stroke-width="0.8"/>
<circle cx="177.07" cy="619.11" r="2.6" fill="#868686" stroke="#000" stroke-width="0.8"/>
<circle cx="180.39" cy="619.25" r="2.6" fill="#b6b6b6" stroke="#000" stroke-width="0.8"/>
<circle cx="191.84" cy="614.68" r="2.6" fill="#727272" stroke="#000" stroke-width="0.8"/>
<circle cx="200.31" cy="611.85" r="2.6" fill="#7d7d7d" stroke="#000" stroke-width="0.8"/>
<circle cx="205.54" cy="611.01" r="2.6" fill="#959595" stroke="#000" stroke-width="0.8"/>
<circle cx="169.25" cy="617.27" r="2.6" fill="#747474" stroke="#000" stroke-width="0.8"/>
<circle cx="166.56" cy="615.52" r="2.6" fill="#707070" stroke="#000" stroke-width="0.8"/>
<circle cx="172.77" cy="619.00" r="2.6" fill="#858585" stroke="#000" stroke-width="0.8"/>
<circle cx="169.39" cy="617.62" r="2.6" fill="#909090" stroke="#000" stroke-width="0.8"/>
<circle cx="200.45" cy="612.26" r="2.6" fill="#adadad" stroke="#000" stroke-width="0.8"/>
<circle cx="175.69" cy="619.16" r="2.6" fill="#979797" stroke="#000" stroke-width="0.8"/>
<circle cx="164.63" cy="615.79" r="2.6" fill="#6e6e6e" stroke="#000" stroke-width="0.8"/>
<circle cx="189.89" cy="614.24" r="2.6" fill="#787878" stroke="#000" stroke-width="0.8"/>
<circle cx="168.04" cy="617.11" r="2.6" fill="#b3b3b3" stroke="#000" stroke-width="0.8"/>
<circle cx="201.18" cy="612.06" r="2.6" fill="#9f9f9f" stroke="#000" stroke-width="0.8"/>
<circle cx="193.46" cy="613.10" r="2.6" fill="#a8a8a8" stroke="#000" stroke-width="0.8"/>
<circle cx="202.96" cy="611.15" r="2.6" fill="#9e9e9e" stroke="#000" stroke-width="0.8"/>
<circle cx="170.06" cy="616.88" r="2.6" fill="#b8b8b8" stroke="#000" stroke-width="0.8"/>
<circle cx="182.88" cy="615.51" r="2.6" fill="#8a8a8a" stroke="#000" stroke-width="0.8"/>
<circle cx="178.93" cy="620.13" r="2.6" fill="#bdbdbd" stroke="#000" stroke-width="0.8"/>
<circle cx="204.37" cy="611.81" r="2.6" fill="#737373" stroke="#000" stroke-width="0.8"/>
<circle cx="170.26" cy="617.46" r="2.6" fill="#727272" stroke="#000" stroke-width="0.8"/>
<circle cx="206.13" cy="610.92" r="2.6" fill="#686868" stroke="#000" stroke-width="0.8"/>
<circle cx="192.93" cy="612.61" r="2.6" fill="#858585" stroke="#000" stroke-width="0.8"/>
<circle cx="165.28" cy="615.38" r="2.6" fill="#767676" stroke="#000" stroke-width="0.8"/>
<circle cx="161.28" cy="613.87" r="2.6" fill="#ababab" stroke="#000" stroke-width="0.8"/>
<circle cx="161.35" cy="614.03" r="2.6" fill="#8f8f8f" stroke="#000" stroke-width="0.8"/>
<circle cx="191.41" cy="615.07" r="2.6" fill="#7c7c7c" stroke="#000" stroke-width="0.8"/>
<circle cx="161.94" cy="613.92" r="2.6" fill="#646464" stroke="#000" stroke-width="0.8"/>
<circle cx="171.17" cy="617.15" r="2.6" fill="#bdbdbd" stroke="#000" stroke-width="0.8"/>
<circle cx="206.83" cy="610.53" r="2.6" fill="#8b8b8b" stroke="#000" stroke-width="0.8"/>
<circle cx="189.75" cy="616.43" r="2.6" fill="#6e6e6e" stroke="#000" stroke-width="0.8"/>
<circle cx="193.51" cy="612.49" r="2.6" fill="#a0a0a0" stroke="#000" stroke-width="0.8"/>
<circle cx="191.20" cy="615.91" r="2.6" fill="#9d9d9d" stroke="#000" stroke-width="0.8"/>
<circle cx="199.20" cy="612.85" r="2.6" fill="#9c9c9c" stroke="#000" stroke-width="0.8"/>
<circle cx="160.37" cy="614.26" r="2.6" fill="#a0a0a0" stroke="#000" stroke-width="0.8"/>
<circle cx="166.24" cy="616.19" r="2.6" fill="#a5a5a5" stroke="#000" stroke-width="0.8"/>
<circle cx="165.91" cy="615.45" r="2.6" fill="#ababab" stroke="#000" stroke-width="0.8"/>
<circle cx="205.19" cy="610.93" r="2.6" fill="#7e7e7e" stroke="#000" stroke-width="0.8"/>
<circle cx="178.81" cy="619.10" r="2.6" fill="#646464" stroke="#000" stroke-width="0.8"/>
<circle cx="167.13" cy="616.03" r="2.6" fill="#bbbbbb" stroke="#000" stroke-width="0.8"/>
<circle cx="177.65" cy="619.50" r="2.6" fill="#c5c5c5" stroke="#000" stroke-width="0.8"/>
<circle cx="161.14" cy="614.68" r="2.6" fill="#b0b0b0" stroke="#000" stroke-width="0.8"/>
<circle cx="188.77" cy="614.66" r="2.6" fill="#7e7e7e" stroke="#000" stroke-width="0.8"/>
<circle cx="197.73" cy="613.03" r="2.6" fill="#b1b1b1" stroke="#000" stroke-width="0.8"/>
<circle cx="176.25" cy="619.08" r="2.6" fill="#6d6d6d" stroke="#000" stroke-width="0.8"/>
<circle cx="159.66" cy="614.21" r="2.6" fill="#878787" stroke="#000" stroke-width="0.8"/>
<circle cx="165.46" cy="615.48" r="2.6" fill="#777777" stroke="#000" stroke-width="0.8"/>
<circle cx="198.93" cy="613.60" r="2.6" fill="#8f8f8f" stroke="#000" stroke-width="0.8"/>
<circle cx="198.53" cy="613.05" r="2.6" fill="#c2c2c2" stroke="#000" stroke-width="0.8"/>
<circle cx="166.01" cy="616.17" r="2.6" fill="#686868" stroke="#000" stroke-width="0.8"/>
<circle cx="185.94" cy="617.91" r="2.6" fill="#696969" stroke="#000" stroke-width="0.8"/>
<circle cx="172.74" cy="618.46" r="2.6" fill="#6c6c6c" stroke="#000" stroke-width="0.8"/>
<circle cx="195.07" cy="612.04" r="2.6" fill="#a8a8a8" stroke="#000" stroke-width="0.8"/>
<circle cx="197.73" cy="612.52" r="2.6" fill="#8c8c8c" stroke="#000" stroke-width="0.8"/>
<circle cx="176.39" cy="618.55" r="2.6" fill="#9f9f9f" stroke="#000" stroke-width="0.8"/>
<circle cx="197.91" cy="612.18" r="2.6" fill="#bdbdbd" stroke="#000" stroke-width="0.8"/>
<circle cx="190.66" cy="615.67" r="2.6" fill="#7f7f7f" stroke="#000" stroke-width="0.8"/>
<circle cx="169.92" cy="617.94" r="2.6" fill="#c8c8c8" stroke="#000" stroke-width="0.8"/>
<circle cx="156.94" cy="611.82" r="2.6" fill="#bbbbbb" stroke="#000" stroke-width="0.8"/>
<circle cx="204.73" cy="611.17" r="2.6" fill="#8a8a8a" stroke="#000" stroke-width="0.8"/>
<circle cx="187.32" cy="614.20" r="2.6" fill="#969696" stroke="#000" stroke-width="0.8"/>
<circle cx="180.93" cy="618.33" r="2.6" fill="#a7a7a7" stroke="#000" stroke-width="0.8"/>
<circle cx="176.93" cy="619.33" r="2.6" fill="#c8c8c8" stroke="#000" stroke-width="0.8"/>
<circle cx="172.71" cy="618.57" r="2.6" fill="#7f7f7f" stroke="#000" stroke-width="0.8"/>
<circle cx="160.74" cy="613.65" r="2.6" fill="#a7a7a7" stroke="#000" stroke-width="0.8"/>
<circle cx="166.46" cy="616.23" r="2.6" fill="#7b7b7b" stroke="#000" stroke-width="0.8"/>
<circle cx="206.97" cy="610.68" r="2.6" fill="#747474" stroke="#000" stroke-width="0.8"/>
<circle cx="167.26" cy="616.22" r="2.6" fill="#717171" stroke="#000" stroke-width="0.8"/>
<circle cx="167.05" cy="616.73" r="2.6" fill="#c4c4c4" stroke="#000" stroke-width="0.8"/>
<circle cx="173.76" cy="618.14" r="2.6" fill="#a8a8a8" stroke="#000" stroke-width="0.8"/>
<circle cx="183.59" cy="618.16" r="2.6" fill="#858585" stroke="#000" stroke-width="0.8"/>
<circle cx="200.70" cy="612.63" r="2.6" fill="#c3c3c3" stroke="#000" stroke-width="0.8"/>
<circle cx="206.93" cy="610.71" r="2.6" fill="#868686" stroke="#000" stroke-width="0.8"/>
<circle cx="191.80" cy="614.64" r="2.6" fill="#a4a4a4" stroke="#000" stroke-width="0.8"/>
<circle cx="183.83" cy="614.36" r="2.6" fill="#7c7c7c" stroke="#000" stroke-width="0.8"/>
<circle cx="205.14" cy="610.78" r="2.6" fill="#b9b9b9" stroke="#000" stroke-width="0.8"/>
<circle cx="180.44" cy="619.39" r="2.6" fill="#808080" stroke="#000" stroke-width="0.8"/>
<circle cx="173.13" cy="618.61" r="2.6" fill="#8b8b8b" stroke="#000" stroke-width="0.8"/>
<circle cx="200.79" cy="611.84" r="2.6" fill="#7b7b7b" stroke="#000" stroke-width="0.8"/>
<circle cx="191.96" cy="615.76" r="2.6" fill="#848484" stroke="#000" stroke-width="0.8"/>
<circle cx="179.58" cy="619.94" r="2.6" fill="#7f7f7f" stroke="#000" stroke-width="0.8"/>
<circle cx="188.39" cy="613.64" r="2.6" fill="#969696" stroke="#000" stroke-width="0.8"/>
<circle cx="205.20" cy="611.42" r="2.6" fill="#868686" stroke="#000" stroke-width="0.8"/>
<circle cx="169.93" cy="616.68" r="2.6" fill="#868686" stroke="#000" stroke-width="0.8"/>
<circle cx="205.28" cy="611.45" r="2.6" fill="#969696" stroke="#000" stroke-width="0.8"/>
<circle cx="185.92" cy="613.60" r="2.6" fill="#818181" stroke="#000" stroke-width="0.8"/>
<circle cx="172.87" cy="618.12" r="2.6" fill="#a4a4a4" stroke="#000" stroke-width="0.8"/>
<circle cx="186.91" cy="615.33" r="2.6" fill="#bbbbbb" stroke="#000" stroke-width="0.8"/>
<circle cx="203.85" cy="611.60" r="2.6" fill="#868686" stroke="#000" stroke-width="0.8"/>
<circle cx="164.24" cy="616.07" r="2.6" fill="#6b6b6b" stroke="#000" stroke-width="0.8"/>
<circle cx="163.76" cy="614.62" r="2.6" fill="#919191" stroke="#000" stroke-width="0.8"/>
<circle cx="161.59" cy="614.48" r="2.6" fill="#8a8a8a" stroke="#000" stroke-width="0.8"/>
<circle cx="176.61" cy="619.22" r="2.6" fill="#848484" stroke="#000" stroke-width="0.8"/>
<circle cx="156.71" cy="612.92" r="2.6" fill="#848484" stroke="#000" stroke-width="0.8"/>
<circle cx="185.82" cy="615.56" r="2.6" fill="#bebebe" stroke="#000" stroke-width="0.8"/>
<circle cx="196.91" cy="613.97" r="2.6" fill="#acacac" stroke="#000" stroke-width="0.8"/>
<circle cx="175.02" cy="619.54" r="2.6" fill="#717171" stroke="#000" stroke-width="0.8"/>
<circle cx="190.29" cy="614.15" r="2.6" fill="#b4b4b4" stroke="#000" stroke-width="0.8"/>
<circle cx="157.08" cy="612.77" r="2.6" fill="#a4a4a4" stroke="#000" stroke-width="0.8"/>
<circle cx="184.04" cy="616.36" r="2.6" fill="#b3b3b3" stroke="#000" stroke-width="0.8"/>
<circle cx="156.53" cy="612.63" r="2.6" fill="#868686" stroke="#000" stroke-width="0.8"/>
<circle cx="167.93" cy="616.07" r="2.6" fill="#7b7b7b" stroke="#000" stroke-width="0.8"/>
<circle cx="162.70" cy="614.85" r="2.6" fill="#adadad" stroke="#000" stroke-width="0.8"/>
<circle cx="179.46" cy="619.66" r="2.6" fill="#c7c7c7" stroke="#000" stroke-width="0.8"/>
<circle cx="163.41" cy="615.12" r="2.6" fill="#b2b2b2" stroke="#000" stroke-width="0.8"/>
<circle cx="172.19" cy="618.37" r="2.6" fill="#c1c1c1" stroke="#000" stroke-width="0.8"/>
<circle cx="189.46" cy="614.20" r="2.6" fill="#868686" stroke="#000" stroke-width="0.8"/>
<circle cx="161.88" cy="614.88" r="2.6" fill="#c0c0c0" stroke="#000" stroke-width="0.8"/>
<circle cx="189.41" cy="614.83" r="2.6" fill="#777777" stroke="#000" stroke-width="0.8"/>
<circle cx="179.11" cy="619.62" r="2.6" fill="#a2a2a2" stroke="#000" stroke-width="0.8"/>
<circle cx="188.37" cy="616.85" r="2.6" fill="#c7c7c7" stroke="#000" stroke-width="0.8"/>
<circle cx="159.92" cy="614.08" r="2.6" fill="#c4c4c4" stroke="#000" stroke-width="0.8"/>
<circle cx="178.44" cy="619.40" r="2.6" fill="#c4c4c4" stroke="#000" stroke-width="0.8"/>
<circle cx="188.13" cy="614.00" r="2.6" fill="#c1c1c1" stroke="#000" stroke-width="0.8"/>
<circle cx="191.31" cy="613.22" r="2.6" fill="#818181" stroke="#000" stroke-width="0.8"/>
<circle cx="168.56" cy="616.38" r="2.6" fill="#b1b1b1" stroke="#000" stroke-width="0.8"/>
<circle cx="187.12" cy="614.46" r="2.6" fill="#9c9c9c" stroke="#000" stroke-width="0.8"/>
<circle cx="182.07" cy="618.81" r="2.6" fill="#7c7c7c" stroke="#000" stroke-width="0.8"/>
<circle cx="166.59" cy="615.81" r="2.6" fill="#7a7a7a" stroke="#000" stroke-width="0.8"/>
<circle cx="172.62" cy="618.43" r="2.6" fill="#696969" stroke="#000" stroke-width="0.8"/>
<circle cx="159.09" cy="613.65" r="2.6" fill="#9f9f9f" stroke="#000" stroke-width="0.8"/>
<circle cx="192.10" cy="612.77" r="2.6" fill="#8f8f8f" stroke="#000" stroke-width="0.8"/>
<circle cx="182.61" cy="618.68" r="2.6" fill="#858585" stroke="#000" stroke-width="0.8"/>
<circle cx="155.75" cy="612.34" r="2.6" fill="#969696" stroke="#000" stroke-width="0.8"/>
<circle cx="184.78" cy="613.59" r="2.6" fill="#919191" stroke="#000" stroke-width="0.8"/>
<circle cx="159.18" cy="613.06" r="2.6" fill="#727272" stroke="#000" stroke-width="0.8"/>
<circle cx="184.71" cy="617.45" r="2.6" fill="#888888" stroke="#000" stroke-width="0.8"/>
<circle cx="174.73" cy="618.56" r="2.6" fill="#a4a4a4" stroke="#000" stroke-width="0.8"/>
<circle cx="190.46" cy="614.05" r="2.6" fill="#a5a5a5" stroke="#000" stroke-width="0.8"/>
<circle cx="172.16" cy="618.77" r="2.6" fill="#696969" stroke="#000" stroke-width="0.8"/>
<circle cx="196.95" cy="613.32" r="2.6" fill="#aaaaaa" stroke="#000" stroke-width="0.8"/>
<circle cx="188.24" cy="613.49" r="2.6" fill="#797979" stroke="#000" stroke-width="0.8"/>
<circle cx="205.06" cy="611.49" r="2.6" fill="#a4a4a4" stroke="#000" stroke-width="0.8"/>
<circle cx="194.44" cy="613.51" r="2.6" fill="#727272" stroke="#000" stroke-width="0.8"/>
<circle cx="171.18" cy="617.26" r="2.6" fill="#bebebe" stroke="#000" stroke-width="0.8"/>
<circle cx="187.87" cy="616.38" r="2.6" fill="#c8c8c8" stroke="#000" stroke-width="0.8"/>
<circle cx="163.31" cy="615.28" r="2.6" fill="#acacac" stroke="#000" stroke-width="0.8"/>
<circle cx="179.91" cy="619.51" r="2.6" fill="#929292" stroke="#000" stroke-width="0.8"/>
<circle cx="199.28" cy="612.42" r="2.6" fill="#9f9f9f" stroke="#000" stroke-width="0.8"/>
<circle cx="195.00" cy="613.06" r="2.6" fill="#858585" stroke="#000" stroke-width="0.8"/>
<circle cx="188.00" cy="617.29" r="2.6" fill="#bababa" stroke="#000" stroke-width="0.8"/>
<circle cx="191.48" cy="614.54" r="2.6" fill="#b1b1b1" stroke="#000" stroke-width="0.8"/>
<circle cx="198.55" cy="611.79" r="2.6" fill="#aaaaaa" stroke="#000" stroke-width="0.8"/>
<circle cx="173.64" cy="618.14" r="2.6" fill="#717171" stroke="#000" stroke-width="0.8"/>
<circle cx="201.52" cy="612.44" r="2.6" fill="#bcbcbc" stroke="#000" stroke-width="0.8"/>
<circle cx="168.50" cy="617.11" r="2.6" fill="#c2c2c2" stroke="#000" stroke-width="0.8"/>
<circle cx="200.06" cy="612.14" r="2.6" fill="#b8b8b8" stroke="#000" stroke-width="0.8"/>
<circle cx="165.22" cy="615.82" r="2.6" fill="#676767" stroke="#000" stroke-width="0.8"/>
<circle cx="167.18" cy="615.90" r="2.6" fill="#919191" stroke="#000" stroke-width="0.8"/>
<circle cx="175.63" cy="618.51" r="2.6" fill="#7e7e7e" stroke="#000" stroke-width="0.8"/>
<circle cx="194.74" cy="614.47" r="2.6" fill="#656565" stroke="#000" stroke-width="0.8"/>
<circle cx="181.47" cy="618.22" r="2.6" fill="#767676" stroke="#000" stroke-width="0.8"/>
<circle cx="177.92" cy="619.66" r="2.6" fill="#8f8f8f" stroke="#000" stroke-width="0.8"/>
<circle cx="205.31" cy="611.01" r="2.6" fill="#c3c3c3" stroke="#000" stroke-width="0.8"/>
<circle cx="182.51" cy="617.39" r="2.6" fill="#c5c5c5" stroke="#000" stroke-width="0.8"/>
<circle cx="164.80" cy="615.81" r="2.6" fill="#8f8f8f" stroke="#000" stroke-width="0.8"/>
<circle cx="186.23" cy="617.51" r="2.6" fill="#b6b6b6" stroke="#000" stroke-width="0.8"/>
<circle cx="179.85" cy="619.82" r="2.6" fill="#6e6e6e" stroke="#000" stroke-width="0.8"/>
<circle cx="160.87" cy="614.67" r="2.6" fill="#949494" stroke="#000" stroke-width="0.8"/>
<circle cx="170.90" cy="617.67" r="2.6" fill="#c2c2c2" stroke="#000" stroke-width="0.8"/>
<circle cx="164.72" cy="615.19" r="2.6" fill="#999999" stroke="#000" stroke-width="0.8"/>
<circle cx="197.11" cy="612.18" r="2.6" fill="#aaaaaa" stroke="#000" stroke-width="0.8"/>
<circle cx="167.95" cy="616.27" r="2.6" fill="#a1a1a1" stroke="#000" stroke-width="0.8"/>
<circle cx="177.25" cy="619.21" r="2.6" fill="#898989" stroke="#000" stroke-width="0.8"/>
<circle cx="205.94" cy="610.79" r="2.6" fill="#c6c6c6" stroke="#000" stroke-width="0.8"/>
<circle cx="197.15" cy="612.67" r="2.6" fill="#909090" stroke="#000" stroke-width="0.8"/>
<circle cx="201.72" cy="612.13" r="2.6" fill="#a2a2a2" stroke="#000" stroke-width="0.8"/>
<circle cx="159.67" cy="613.43" r="2.6" fill="#919191" stroke="#000" stroke-width="0.8"/>
<circle cx="172.46" cy="617.76" r="2.6" fill="#898989" stroke="#000" stroke-width="0.8"/>
<circle cx="184.45" cy="616.78" r="2.6" fill="#9c9c9c" stroke="#000" stroke-width="0.8"/>
<circle cx="186.11" cy="617.39" r="2.6" fill="#7f7f7f" stroke="#000" stroke-width="0.8"/>
<circle cx="182.42" cy="616.81" r="2.6" fill="#9f9f9f" stroke="#000" stroke-width="0.8"/>
<circle cx="168.23" cy="616.25" r="2.6" fill="#939393" stroke="#000" stroke-width="0.8"/>
<circle cx="206.20" cy="610.64" r="2.6" fill="#7c7c7c" stroke="#000" stroke-width="0.8"/>
<circle cx="173.33" cy="618.17" r="2.6" fill="#9d9d9d" stroke="#000" stroke-width="0.8"/>
<circle cx="187.75" cy="615.27" r="2.6" fill="#6a6a6a" stroke="#000" stroke-width="0.8"/>
<circle cx="199.59" cy="613.14" r="2.6" fill="#b7b7b7" stroke="#000" stroke-width="0.8"/>
<circle cx="189.38" cy="615.14" r="2.6" fill="#b4b4b4" stroke="#000" stroke-width="0.8"/>
<circle cx="181.11" cy="619.05" r="2.6" fill="#b8b8b8" stroke="#000" stroke-width="0.8"/>
<circle cx="162.19" cy="614.51" r="2.6" fill="#686868" stroke="#000" stroke-width="0.8"/>
<circle cx="173.39" cy="618.30" r="2.6" fill="#8d8d8d" stroke="#000" stroke-width="0.8"/>
<circle cx="169.25" cy="617.59" r="2.6" fill="#bbbbbb" stroke="#000" stroke-width="0.8"/>
<circle cx="156.02" cy="612.18" r="2.6" fill="#9d9d9d" stroke="#000" stroke-width="0.8"/>
<circle cx="204.58" cy="611.09" r="2.6" fill="#9d9d9d" stroke="#000" stroke-width="0.8"/>
<circle cx="186.66" cy="613.54" r="2.6" fill="#b4b4b4" stroke="#000" stroke-width="0.8"/>
<circle cx="190.71" cy="615.65" r="2.6" fill="#bcbcbc" stroke="#000" stroke-width="0.8"/>
<circle cx="162.80" cy="606.40" r="3.2" fill="#1a72aa" stroke="#2a2a2a" stroke-width="0.5"/>
<circle cx="156.50" cy="606.40" r="3.4" fill="#7b4fae" stroke="#2a2a2a" stroke-width="0.5"/>
<circle cx="153.80" cy="607.30" r="3.6" fill="#1a72aa" stroke="#2a2a2a" stroke-width="0.5"/>
<circle cx="162.80" cy="602.80" r="3.2" fill="#1a72aa" stroke="#2a2a2a" stroke-width="0.5"/>
<circle cx="148.40" cy="603.70" r="3.4" fill="#7b4fae" stroke="#2a2a2a" stroke-width="0.5"/>
<circle cx="151.10" cy="602.80" r="3.6" fill="#ff9200" stroke="#2a2a2a" stroke-width="0.5"/>
<circle cx="161.90" cy="598.70" r="3.2" fill="#1a72aa" stroke="#2a2a2a" stroke-width="0.5"/>
<circle cx="146.60" cy="599.20" r="3.4" fill="#1a72aa" stroke="#2a2a2a" stroke-width="0.5"/>
<circle cx="149.30" cy="596.00" r="3.4" fill="#7b4fae" stroke="#2a2a2a" stroke-width="0.5"/>
<circle cx="144.80" cy="595.60" r="3.4" fill="#1a72aa" stroke="#2a2a2a" stroke-width="0.5"/>
<circle cx="156.90" cy="593.80" r="3.4" fill="#1a72aa" stroke="#2a2a2a" stroke-width="0.5"/>
<circle cx="153.30" cy="591.50" r="3.4" fill="#1a72aa" stroke="#2a2a2a" stroke-width="0.5"/>
<circle cx="143.90" cy="592.00" r="3.6" fill="#1a72aa" stroke="#2a2a2a" stroke-width="0.5"/>
<circle cx="138.00" cy="592.40" r="3.8" fill="#1a72aa" stroke="#2a2a2a" stroke-width="0.5"/>
<circle cx="145.70" cy="587.90" r="3.6" fill="#1a72aa" stroke="#2a2a2a" stroke-width="0.5"/>
<circle cx="156.90" cy="586.60" r="3.6" fill="#7b4fae" stroke="#2a2a2a" stroke-width="0.5"/>
<circle cx="149.30" cy="586.10" r="3.4" fill="#7b4fae" stroke="#2a2a2a" stroke-width="0.5"/>
<circle cx="137.60" cy="587.50" r="3.8" fill="#7b4fae" stroke="#2a2a2a" stroke-width="0.5"/>
<circle cx="152.90" cy="582.50" r="3.4" fill="#1a72aa" stroke="#2a2a2a" stroke-width="0.5"/>
<circle cx="154.70" cy="574.40" r="3.4" fill="#1a72aa" stroke="#2a2a2a" stroke-width="0.5"/>
<circle cx="151.10" cy="576.70" r="3.6" fill="#1a72aa" stroke="#2a2a2a" stroke-width="0.5"/>
<circle cx="145.50" cy="579.40" r="3.8" fill="#1a72aa" stroke="#2a2a2a" stroke-width="0.5"/>
<circle cx="137.10" cy="576.50" r="4.0" fill="#1a72aa" stroke="#2a2a2a" stroke-width="0.5"/>
<circle cx="143.50" cy="563.50" r="4.1" fill="#1a72aa" stroke="#2a2a2a" stroke-width="0.5"/>
<circle cx="127.70" cy="565.00" r="4.6" fill="#1a72aa" stroke="#2a2a2a" stroke-width="0.5"/>
<circle cx="134.70" cy="561.10" r="4.4" fill="#1a72aa" stroke="#2a2a2a" stroke-width="0.5"/>
<circle cx="128.30" cy="559.40" r="4.1" fill="#1a72aa" stroke="#2a2a2a" stroke-width="0.5"/>
<circle cx="139.40" cy="550.60" r="4.2" fill="#1a72aa" stroke="#2a2a2a" stroke-width="0.5"/>
<circle cx="132.40" cy="551.80" r="4.4" fill="#1a72aa" stroke="#2a2a2a" stroke-width="0.5"/>
<circle cx="132.40" cy="548.90" r="4.4" fill="#1a72aa" stroke="#2a2a2a" stroke-width="0.5"/>
<circle cx="123.00" cy="552.40" r="4.6" fill="#1a72aa" stroke="#2a2a2a" stroke-width="0.5"/>
<circle cx="139.40" cy="541.90" r="4.4" fill="#1a72aa" stroke="#2a2a2a" stroke-width="0.5"/>
<circle cx="134.70" cy="541.30" r="4.4" fill="#1a72aa" stroke="#2a2a2a" stroke-width="0.5"/>
<circle cx="126.50" cy="536.60" r="4.4" fill="#1a72aa" stroke="#2a2a2a" stroke-width="0.5"/>
<circle cx="120.10" cy="540.10" r="4.6" fill="#1a72aa" stroke="#2a2a2a" stroke-width="0.5"/>
<circle cx="121.30" cy="537.20" r="4.6" fill="#1a72aa" stroke="#2a2a2a" stroke-width="0.5"/>
<circle cx="130.00" cy="532.50" r="4.4" fill="#1a72aa" stroke="#2a2a2a" stroke-width="0.5"/>
<circle cx="128.90" cy="529.00" r="4.4" fill="#1a72aa" stroke="#2a2a2a" stroke-width="0.5"/>
<circle cx="105.50" cy="538.90" r="5.2" fill="#1a72aa" stroke="#2a2a2a" stroke-width="0.5"/>
<circle cx="108.10" cy="528.10" r="5.0" fill="#1a72aa" stroke="#2a2a2a" stroke-width="0.5"/>
<circle cx="192.00" cy="607.50" r="2.8" fill="#7b4fae" stroke="#2a2a2a" stroke-width="0.5"/>
<circle cx="207.50" cy="609.00" r="3.3" fill="#ff9200" stroke="#2a2a2a" stroke-width="0.5"/>
<circle cx="209.00" cy="605.50" r="3.5" fill="#ff9200" stroke="#2a2a2a" stroke-width="0.5"/>
<circle cx="213.50" cy="599.00" r="3.6" fill="#ff9200" stroke="#2a2a2a" stroke-width="0.5"/>
<circle cx="211.00" cy="601.00" r="3.6" fill="#ff9200" stroke="#2a2a2a" stroke-width="0.5"/>
<circle cx="204.50" cy="604.00" r="2.2" fill="#1a72aa" stroke="#2a2a2a" stroke-width="0.5"/>
<circle cx="198.50" cy="603.20" r="2.6" fill="#d13b2a" stroke="#2a2a2a" stroke-width="0.5"/>
<circle cx="196.00" cy="605.50" r="3.0" fill="#7b4fae" stroke="#2a2a2a" stroke-width="0.5"/>
<circle cx="205.00" cy="602.50" r="3.4" fill="#7b4fae" stroke="#2a2a2a" stroke-width="0.5"/>
<circle cx="201.50" cy="601.00" r="3.4" fill="#7b4fae" stroke="#2a2a2a" stroke-width="0.5"/>
<circle cx="203.50" cy="597.50" r="3.5" fill="#7b4fae" stroke="#2a2a2a" stroke-width="0.5"/>
<circle cx="226.50" cy="589.50" r="3.7" fill="#ff9200" stroke="#2a2a2a" stroke-width="0.5"/>
<circle cx="224.44" cy="590.39" r="3.7" fill="#ff9200" stroke="#2a2a2a" stroke-width="0.5"/>
<circle cx="222.39" cy="591.28" r="3.7" fill="#ff9200" stroke="#2a2a2a" stroke-width="0.5"/>
<circle cx="220.33" cy="592.17" r="3.7" fill="#ff9200" stroke="#2a2a2a" stroke-width="0.5"/>
<circle cx="218.28" cy="593.06" r="3.7" fill="#ff9200" stroke="#2a2a2a" stroke-width="0.5"/>
<circle cx="216.22" cy="593.94" r="3.7" fill="#ff9200" stroke="#2a2a2a" stroke-width="0.5"/>
<circle cx="214.17" cy="594.83" r="3.7" fill="#ff9200" stroke="#2a2a2a" stroke-width="0.5"/>
<circle cx="212.11" cy="595.72" r="3.7" fill="#ff9200" stroke="#2a2a2a" stroke-width="0.5"/>
<circle cx="210.06" cy="596.61" r="3.7" fill="#ff9200" stroke="#2a2a2a" stroke-width="0.5"/>
<circle cx="208.00" cy="597.50" r="3.7" fill="#ff9200" stroke="#2a2a2a" stroke-width="0.5"/>
<circle cx="195.40" cy="606.80" r="2.4" fill="#d13b2a" stroke="#2a2a2a" stroke-width="0.5"/>
<circle cx="192.50" cy="607.30" r="2.4" fill="#7b4fae" stroke="#2a2a2a" stroke-width="0.5"/>
<circle cx="207.70" cy="607.30" r="3.6" fill="#ff9200" stroke="#2a2a2a" stroke-width="0.5"/>
<circle cx="212.40" cy="601.10" r="3.6" fill="#ff9200" stroke="#2a2a2a" stroke-width="0.5"/>
<circle cx="209.60" cy="602.50" r="3.6" fill="#ff9200" stroke="#2a2a2a" stroke-width="0.5"/>
<circle cx="198.20" cy="602.50" r="2.6" fill="#7b4fae" stroke="#2a2a2a" stroke-width="0.5"/>
<circle cx="200.10" cy="603.50" r="2.4" fill="#d13b2a" stroke="#2a2a2a" stroke-width="0.5"/>
<circle cx="203.00" cy="599.70" r="3.4" fill="#7b4fae" stroke="#2a2a2a" stroke-width="0.5"/>
<circle cx="204.80" cy="596.80" r="3.4" fill="#7b4fae" stroke="#2a2a2a" stroke-width="0.5"/>
<circle cx="226.70" cy="579.70" r="3.6" fill="#ff9200" stroke="#2a2a2a" stroke-width="0.5"/>
<circle cx="214.30" cy="575.50" r="3.6" fill="#7b4fae" stroke="#2a2a2a" stroke-width="0.5"/>
<circle cx="205.80" cy="576.40" r="3.6" fill="#7b4fae" stroke="#2a2a2a" stroke-width="0.5"/>
<circle cx="208.20" cy="580.70" r="3.6" fill="#ff9200" stroke="#2a2a2a" stroke-width="0.5"/>
<circle cx="208.20" cy="588.30" r="3.6" fill="#7b4fae" stroke="#2a2a2a" stroke-width="0.5"/>
<circle cx="201.00" cy="588.30" r="3.6" fill="#7b4fae" stroke="#2a2a2a" stroke-width="0.5"/>
<circle cx="214.40" cy="592.70" r="3.8" fill="#ff9200" stroke="#2a2a2a" stroke-width="0.5"/>
<circle cx="217.60" cy="591.10" r="3.8" fill="#ff9200" stroke="#2a2a2a" stroke-width="0.5"/>
<circle cx="223.90" cy="589.00" r="3.8" fill="#ff9200" stroke="#2a2a2a" stroke-width="0.5"/>
<circle cx="207.60" cy="589.00" r="3.8" fill="#7b4fae" stroke="#2a2a2a" stroke-width="0.5"/>
<circle cx="208.10" cy="580.60" r="4" fill="#ff9200" stroke="#2a2a2a" stroke-width="0.5"/>
<circle cx="226.50" cy="579.60" r="4.4" fill="#ff9200" stroke="#2a2a2a" stroke-width="0.5"/>
<circle cx="206.60" cy="575.40" r="4" fill="#7b4fae" stroke="#2a2a2a" stroke-width="0.5"/>
<circle cx="215.00" cy="573.80" r="4" fill="#7b4fae" stroke="#2a2a2a" stroke-width="0.5"/>
<circle cx="210.80" cy="571.20" r="3.2" fill="#d13b2a" stroke="#2a2a2a" stroke-width="0.5"/>
<circle cx="229.10" cy="572.20" r="4.4" fill="#7b4fae" stroke="#2a2a2a" stroke-width="0.5"/>
<circle cx="224.40" cy="570.10" r="4" fill="#ff9200" stroke="#2a2a2a" stroke-width="0.5"/>
<circle cx="221.30" cy="570.10" r="4" fill="#ff9200" stroke="#2a2a2a" stroke-width="0.5"/>
<circle cx="226.50" cy="566.40" r="3.7" fill="#1a72aa" stroke="#2a2a2a" stroke-width="0.5"/>
<circle cx="220.70" cy="567.50" r="3.2" fill="#d13b2a" stroke="#2a2a2a" stroke-width="0.5"/>
<circle cx="216.50" cy="567.00" r="3.7" fill="#ff9200" stroke="#2a2a2a" stroke-width="0.5"/>
<circle cx="237.00" cy="564.70" r="4.7" fill="#ff9200" stroke="#2a2a2a" stroke-width="0.5"/>
<circle cx="229.10" cy="562.80" r="4.2" fill="#ff9200" stroke="#2a2a2a" stroke-width="0.5"/>
<circle cx="245.70" cy="552.50" r="5.0" fill="#ff9200" stroke="#2a2a2a" stroke-width="0.5"/>
<circle cx="230.00" cy="547.90" r="4.7" fill="#ff9200" stroke="#2a2a2a" stroke-width="0.5"/>
<circle cx="221.30" cy="543.70" r="4.4" fill="#ff9200" stroke="#2a2a2a" stroke-width="0.5"/>
<circle cx="237.50" cy="540.20" r="4.7" fill="#ff9200" stroke="#2a2a2a" stroke-width="0.5"/>
<circle cx="294.40" cy="365.80" r="6.3" fill="#d13b2a" stroke="#2a2a2a" stroke-width="0.5"/>
<circle cx="291.70" cy="389.20" r="6.1" fill="#ff9200" stroke="#2a2a2a" stroke-width="0.5"/>
<circle cx="279.20" cy="438.90" r="5.9" fill="#ff9200" stroke="#2a2a2a" stroke-width="0.5"/>
<circle cx="231.00" cy="435.90" r="4.6" fill="#d13b2a" stroke="#2a2a2a" stroke-width="0.5"/>
<circle cx="271.80" cy="463.60" r="5.8" fill="#ff9200" stroke="#2a2a2a" stroke-width="0.5"/>
<circle cx="243.30" cy="473.00" r="5.0" fill="#ff9200" stroke="#2a2a2a" stroke-width="0.5"/>
<circle cx="266.00" cy="509.60" r="5.8" fill="#ff9200" stroke="#2a2a2a" stroke-width="0.5"/>
<circle cx="253.30" cy="528.10" r="4.9" fill="#ff9200" stroke="#2a2a2a" stroke-width="0.5"/>
<circle cx="251.20" cy="529.20" r="4.9" fill="#ff9200" stroke="#2a2a2a" stroke-width="0.5"/>
<circle cx="248.50" cy="529.60" r="4.9" fill="#ff9200" stroke="#2a2a2a" stroke-width="0.5"/>
<circle cx="126.60" cy="386.10" r="4.3" fill="#1a72aa" stroke="#2a2a2a" stroke-width="0.5"/>
<circle cx="94.00" cy="435.30" r="5.8" fill="#1a72aa" stroke="#2a2a2a" stroke-width="0.5"/>
<circle cx="78.20" cy="437.40" r="6.2" fill="#1a72aa" stroke="#2a2a2a" stroke-width="0.5"/>
<circle cx="116.80" cy="447.30" r="5.0" fill="#1a72aa" stroke="#2a2a2a" stroke-width="0.5"/>
<circle cx="117.50" cy="473.40" r="5.0" fill="#1a72aa" stroke="#2a2a2a" stroke-width="0.5"/>
<circle cx="134.30" cy="500.40" r="4.6" fill="#1a72aa" stroke="#2a2a2a" stroke-width="0.5"/>
<text transform="translate(255.00,370.00) scale(1,1.07)" font-size="8.35" text-anchor="start" fill="#231f20" stroke="#231f20" stroke-width="0" font-weight="normal" >FHOD1</text>
<text transform="translate(290.10,405.20) scale(1,1.07)" font-size="8.35" text-anchor="start" fill="#231f20" stroke="#231f20" stroke-width="0" font-weight="normal" >VWF</text>
<text transform="translate(256.20,431.00) scale(1,1.07)" font-size="8.35" text-anchor="start" fill="#231f20" stroke="#231f20" stroke-width="0" font-weight="normal" >RM45</text>
<text transform="translate(210.00,450.50) scale(1,1.07)" font-size="8.35" text-anchor="start" fill="#231f20" stroke="#231f20" stroke-width="0" font-weight="normal" >MA1C1</text>
<text transform="translate(280.20,466.60) scale(1,1.07)" font-size="8.35" text-anchor="start" fill="#231f20" stroke="#231f20" stroke-width="0" font-weight="normal" >FBN3</text>
<text transform="translate(223.60,486.40) scale(1,1.07)" font-size="8.35" text-anchor="start" fill="#231f20" stroke="#231f20" stroke-width="0" font-weight="normal" >CO3</text>
<text transform="translate(268.50,502.40) scale(1,1.07)" font-size="8.35" text-anchor="start" fill="#231f20" stroke="#231f20" stroke-width="0" font-weight="normal" >IC1</text>
<text transform="translate(231.80,517.00) scale(1,1.07)" font-size="8.35" text-anchor="start" fill="#231f20" stroke="#231f20" stroke-width="0" font-weight="normal" >IPSP</text>
<text transform="translate(263.60,538.00) scale(1,1.07)" font-size="8.35" text-anchor="start" fill="#231f20" stroke="#231f20" stroke-width="0" font-weight="normal" >SIA8A</text>
<text transform="translate(122.10,380.00) scale(1,1.07)" font-size="8.35" text-anchor="start" fill="#231f20" stroke="#231f20" stroke-width="0" font-weight="normal" >CD5L</text>
<text transform="translate(88.50,427.50) scale(1,1.07)" font-size="8.35" text-anchor="start" fill="#231f20" stroke="#231f20" stroke-width="0" font-weight="normal" >APOB</text>
<text transform="translate(55.40,452.40) scale(1,1.07)" font-size="8.35" text-anchor="start" fill="#231f20" stroke="#231f20" stroke-width="0" font-weight="normal" >CAH1</text>
<text transform="translate(123.30,451.50) scale(1,1.07)" font-size="8.35" text-anchor="start" fill="#231f20" stroke="#231f20" stroke-width="0" font-weight="normal" >ALS</text>
<text transform="translate(123.30,470.00) scale(1,1.07)" font-size="8.35" text-anchor="start" fill="#231f20" stroke="#231f20" stroke-width="0" font-weight="normal" >HBB</text>
<text transform="translate(125.70,494.00) scale(1,1.07)" font-size="8.35" text-anchor="start" fill="#231f20" stroke="#231f20" stroke-width="0" font-weight="normal" >HV3O7</text>
<text transform="translate(89.40,509.40) scale(1,1.07)" font-size="8.35" text-anchor="start" fill="#231f20" stroke="#231f20" stroke-width="0" font-weight="normal" >CO8B</text>
<text transform="translate(73.90,522.50) scale(1,1.07)" font-size="8.35" text-anchor="start" fill="#231f20" stroke="#231f20" stroke-width="0" font-weight="normal" >ACTBL</text>
<text transform="translate(121.10,522.50) scale(1,1.07)" font-size="8.35" text-anchor="start" fill="#231f20" stroke="#231f20" stroke-width="0" font-weight="normal" >HBA</text>
<text transform="translate(135.70,535.60) scale(1,1.07)" font-size="8.35" text-anchor="start" fill="#231f20" stroke="#231f20" stroke-width="0" font-weight="normal" >VTNC</text>
<line x1="102.9" y1="511.4" x2="123.6" y2="532.9" stroke="#555" stroke-width="0.6"/>
<line x1="249.6" y1="517.5" x2="253.5" y2="523.0" stroke="#555" stroke-width="0.6"/>
<line x1="256.4" y1="531.6" x2="263.1" y2="535.0" stroke="#555" stroke-width="0.6"/>
<rect x="512.6" y="352.3" width="131.0" height="285.2" fill="none" stroke="#aaaaaa" stroke-width="1"/>
<rect x="518.9" y="356.30" width="5.00" height="9.8" fill="#d13b2a"/>
<line x1="510.1" y1="361.20" x2="512.6" y2="361.20" stroke="#aaaaaa" stroke-width="0.8"/>
<text transform="translate(506.60,362.90) scale(1,1.07)" font-size="9.1" text-anchor="end" fill="#231f20" stroke="#231f20" stroke-width="0" font-weight="normal" letter-spacing="0.09">Stress fibre</text>
<rect x="518.9" y="370.47" width="4.76" height="9.8" fill="#d13b2a"/>
<line x1="510.1" y1="375.37" x2="512.6" y2="375.37" stroke="#aaaaaa" stroke-width="0.8"/>
<text transform="translate(506.60,377.07) scale(1,1.07)" font-size="9.1" text-anchor="end" fill="#231f20" stroke="#231f20" stroke-width="0" font-weight="normal" letter-spacing="0.09">Actin filament bundle</text>
<rect x="518.9" y="384.64" width="4.76" height="9.8" fill="#d13b2a"/>
<line x1="510.1" y1="389.54" x2="512.6" y2="389.54" stroke="#aaaaaa" stroke-width="0.8"/>
<text transform="translate(506.60,391.24) scale(1,1.07)" font-size="9.1" text-anchor="end" fill="#231f20" stroke="#231f20" stroke-width="0" font-weight="normal" letter-spacing="0.09">Actomyosin</text>
<rect x="518.9" y="398.81" width="4.76" height="9.8" fill="#d13b2a"/>
<line x1="510.1" y1="403.71" x2="512.6" y2="403.71" stroke="#aaaaaa" stroke-width="0.8"/>
<text transform="translate(506.60,405.41) scale(1,1.07)" font-size="9.1" text-anchor="end" fill="#231f20" stroke="#231f20" stroke-width="0" font-weight="normal" letter-spacing="0.09">Contractile actin filament bundle</text>
<rect x="518.9" y="412.98" width="3.21" height="9.8" fill="#d13b2a"/>
<line x1="510.1" y1="417.88" x2="512.6" y2="417.88" stroke="#aaaaaa" stroke-width="0.8"/>
<text transform="translate(506.60,419.58) scale(1,1.07)" font-size="9.1" text-anchor="end" fill="#231f20" stroke="#231f20" stroke-width="0" font-weight="normal" letter-spacing="0.09">Protein kinase binding</text>
<rect x="518.9" y="427.15" width="11.42" height="9.8" fill="#ff9200"/>
<line x1="510.1" y1="432.05" x2="512.6" y2="432.05" stroke="#aaaaaa" stroke-width="0.8"/>
<text transform="translate(506.60,433.75) scale(1,1.07)" font-size="9.1" text-anchor="end" fill="#231f20" stroke="#231f20" stroke-width="0" font-weight="normal" letter-spacing="0.09">Response to stress</text>
<rect x="518.9" y="441.32" width="10.71" height="9.8" fill="#ff9200"/>
<line x1="510.1" y1="446.22" x2="512.6" y2="446.22" stroke="#aaaaaa" stroke-width="0.8"/>
<text transform="translate(506.60,447.92) scale(1,1.07)" font-size="9.1" text-anchor="end" fill="#231f20" stroke="#231f20" stroke-width="0" font-weight="normal" letter-spacing="0.09">Complement activation</text>
<rect x="518.9" y="455.49" width="9.88" height="9.8" fill="#ff9200"/>
<line x1="510.1" y1="460.39" x2="512.6" y2="460.39" stroke="#aaaaaa" stroke-width="0.8"/>
<text transform="translate(506.60,462.09) scale(1,1.07)" font-size="9.1" text-anchor="end" fill="#231f20" stroke="#231f20" stroke-width="0" font-weight="normal" letter-spacing="0.09">Complement activation, classical pathway</text>
<rect x="518.9" y="469.66" width="9.16" height="9.8" fill="#ff9200"/>
<line x1="510.1" y1="474.56" x2="512.6" y2="474.56" stroke="#aaaaaa" stroke-width="0.8"/>
<text transform="translate(506.60,476.26) scale(1,1.07)" font-size="9.1" text-anchor="end" fill="#231f20" stroke="#231f20" stroke-width="0" font-weight="normal" letter-spacing="0.09">Complement and coagulation cascades</text>
<rect x="518.9" y="483.83" width="9.16" height="9.8" fill="#ff9200"/>
<line x1="510.1" y1="488.73" x2="512.6" y2="488.73" stroke="#aaaaaa" stroke-width="0.8"/>
<text transform="translate(506.60,490.43) scale(1,1.07)" font-size="9.1" text-anchor="end" fill="#231f20" stroke="#231f20" stroke-width="0" font-weight="normal" letter-spacing="0.09">Cecretory granule lumen</text>
<rect x="518.9" y="498.00" width="104.96" height="9.8" fill="#7b4fae"/>
<line x1="510.1" y1="502.90" x2="512.6" y2="502.90" stroke="#aaaaaa" stroke-width="0.8"/>
<text transform="translate(506.60,504.60) scale(1,1.07)" font-size="9.1" text-anchor="end" fill="#231f20" stroke="#231f20" stroke-width="0" font-weight="normal" letter-spacing="0.09">Blood microparticle</text>
<rect x="518.9" y="512.17" width="77.11" height="9.8" fill="#7b4fae"/>
<line x1="510.1" y1="517.07" x2="512.6" y2="517.07" stroke="#aaaaaa" stroke-width="0.8"/>
<text transform="translate(506.60,518.77) scale(1,1.07)" font-size="9.1" text-anchor="end" fill="#231f20" stroke="#231f20" stroke-width="0" font-weight="normal" letter-spacing="0.09">Extracellular space</text>
<rect x="518.9" y="526.34" width="63.78" height="9.8" fill="#7b4fae"/>
<line x1="510.1" y1="531.24" x2="512.6" y2="531.24" stroke="#aaaaaa" stroke-width="0.8"/>
<text transform="translate(506.60,532.94) scale(1,1.07)" font-size="9.1" text-anchor="end" fill="#231f20" stroke="#231f20" stroke-width="0" font-weight="normal" letter-spacing="0.09">Extracellular region</text>
<rect x="518.9" y="540.51" width="57.83" height="9.8" fill="#7b4fae"/>
<line x1="510.1" y1="545.41" x2="512.6" y2="545.41" stroke="#aaaaaa" stroke-width="0.8"/>
<text transform="translate(506.60,547.11) scale(1,1.07)" font-size="9.1" text-anchor="end" fill="#231f20" stroke="#231f20" stroke-width="0" font-weight="normal" letter-spacing="0.09">Extracellular exosome</text>
<rect x="518.9" y="554.68" width="57.83" height="9.8" fill="#7b4fae"/>
<line x1="510.1" y1="559.58" x2="512.6" y2="559.58" stroke="#aaaaaa" stroke-width="0.8"/>
<text transform="translate(506.60,561.28) scale(1,1.07)" font-size="9.1" text-anchor="end" fill="#231f20" stroke="#231f20" stroke-width="0" font-weight="normal" letter-spacing="0.09">Extracellular membrane-bounded organelle</text>
<rect x="518.9" y="568.85" width="92.34" height="9.8" fill="#1a72aa"/>
<line x1="510.1" y1="573.75" x2="512.6" y2="573.75" stroke="#aaaaaa" stroke-width="0.8"/>
<text transform="translate(506.60,575.45) scale(1,1.07)" font-size="9.1" text-anchor="end" fill="#231f20" stroke="#231f20" stroke-width="0" font-weight="normal" letter-spacing="0.09">Extracellular space</text>
<rect x="518.9" y="583.02" width="85.92" height="9.8" fill="#1a72aa"/>
<line x1="510.1" y1="587.92" x2="512.6" y2="587.92" stroke="#aaaaaa" stroke-width="0.8"/>
<text transform="translate(506.60,589.62) scale(1,1.07)" font-size="9.1" text-anchor="end" fill="#231f20" stroke="#231f20" stroke-width="0" font-weight="normal" letter-spacing="0.09">Extracellular region</text>
<rect x="518.9" y="597.19" width="85.92" height="9.8" fill="#1a72aa"/>
<line x1="510.1" y1="602.09" x2="512.6" y2="602.09" stroke="#aaaaaa" stroke-width="0.8"/>
<text transform="translate(506.60,603.79) scale(1,1.07)" font-size="9.1" text-anchor="end" fill="#231f20" stroke="#231f20" stroke-width="0" font-weight="normal" letter-spacing="0.09">Blood microparticle</text>
<rect x="518.9" y="611.36" width="65.69" height="9.8" fill="#1a72aa"/>
<line x1="510.1" y1="616.26" x2="512.6" y2="616.26" stroke="#aaaaaa" stroke-width="0.8"/>
<text transform="translate(506.60,617.96) scale(1,1.07)" font-size="9.1" text-anchor="end" fill="#231f20" stroke="#231f20" stroke-width="0" font-weight="normal" letter-spacing="0.09">Complement activation</text>
<rect x="518.9" y="625.53" width="57.83" height="9.8" fill="#1a72aa"/>
<line x1="510.1" y1="630.43" x2="512.6" y2="630.43" stroke="#aaaaaa" stroke-width="0.8"/>
<text transform="translate(506.60,632.13) scale(1,1.07)" font-size="9.1" text-anchor="end" fill="#231f20" stroke="#231f20" stroke-width="0" font-weight="normal" letter-spacing="0.09">Complement and coagulation cascades</text>
<line x1="518.90" y1="637.5" x2="518.90" y2="640.0" stroke="#aaaaaa" stroke-width="0.8"/>
<text transform="translate(518.90,650.20) scale(1,1.07)" font-size="8.0" text-anchor="middle" fill="#3c3c3c" stroke="#3c3c3c" stroke-width="0" font-weight="normal" >0</text>
<line x1="542.70" y1="637.5" x2="542.70" y2="640.0" stroke="#aaaaaa" stroke-width="0.8"/>
<text transform="translate(542.70,650.20) scale(1,1.07)" font-size="8.0" text-anchor="middle" fill="#3c3c3c" stroke="#3c3c3c" stroke-width="0" font-weight="normal" >10</text>
<line x1="566.50" y1="637.5" x2="566.50" y2="640.0" stroke="#aaaaaa" stroke-width="0.8"/>
<text transform="translate(566.50,650.20) scale(1,1.07)" font-size="8.0" text-anchor="middle" fill="#3c3c3c" stroke="#3c3c3c" stroke-width="0" font-weight="normal" >20</text>
<line x1="590.30" y1="637.5" x2="590.30" y2="640.0" stroke="#aaaaaa" stroke-width="0.8"/>
<text transform="translate(590.30,650.20) scale(1,1.07)" font-size="8.0" text-anchor="middle" fill="#3c3c3c" stroke="#3c3c3c" stroke-width="0" font-weight="normal" >30</text>
<line x1="614.10" y1="637.5" x2="614.10" y2="640.0" stroke="#aaaaaa" stroke-width="0.8"/>
<text transform="translate(614.10,650.20) scale(1,1.07)" font-size="8.0" text-anchor="middle" fill="#3c3c3c" stroke="#3c3c3c" stroke-width="0" font-weight="normal" >40</text>
<line x1="637.90" y1="637.5" x2="637.90" y2="640.0" stroke="#aaaaaa" stroke-width="0.8"/>
<text transform="translate(637.90,650.20) scale(1,1.07)" font-size="8.0" text-anchor="middle" fill="#3c3c3c" stroke="#3c3c3c" stroke-width="0" font-weight="normal" >50</text>
<text transform="translate(578.5,663.5) scale(1,1.07)" font-size="8.9" text-anchor="middle" fill="#231f20" stroke="#231f20" stroke-width="0">-log<tspan font-size="5.8" dy="2.8">10</tspan><tspan dy="-2.8">(Q value)</tspan></text>
<text transform="translate(608.00,363.30) scale(1,1.07)" font-size="8.6" text-anchor="start" fill="#231f20" stroke="#231f20" stroke-width="0" font-weight="normal" >Cluster</text>
<rect x="610.2" y="370.4" width="7.8" height="7.8" fill="#d13b2a"/>
<text transform="translate(622.00,377.40) scale(1,1.07)" font-size="8.6" text-anchor="start" fill="#231f20" stroke="#231f20" stroke-width="0" font-weight="normal" >1</text>
<rect x="610.2" y="382.5" width="7.8" height="7.8" fill="#ff9200"/>
<text transform="translate(622.00,389.50) scale(1,1.07)" font-size="8.6" text-anchor="start" fill="#231f20" stroke="#231f20" stroke-width="0" font-weight="normal" >2</text>
<rect x="610.2" y="394.7" width="7.8" height="7.8" fill="#7b4fae"/>
<text transform="translate(622.00,401.70) scale(1,1.07)" font-size="8.6" text-anchor="start" fill="#231f20" stroke="#231f20" stroke-width="0" font-weight="normal" >3</text>
<rect x="610.2" y="407.7" width="7.8" height="7.8" fill="#1a72aa"/>
<text transform="translate(622.00,414.70) scale(1,1.07)" font-size="8.6" text-anchor="start" fill="#231f20" stroke="#231f20" stroke-width="0" font-weight="normal" >4</text>
</svg></body></html>
